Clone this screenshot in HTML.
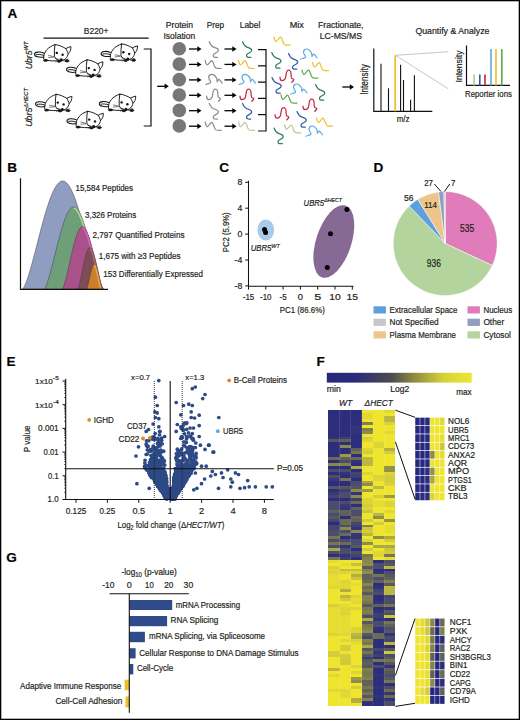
<!DOCTYPE html>
<html><head><meta charset="utf-8"><style>
html,body{margin:0;padding:0;background:#fff;overflow:hidden;}
svg{display:block;}
text{font-family:"Liberation Sans", sans-serif;stroke:#231f20;stroke-width:0.2px;}
</style></head><body>
<svg width="520" height="720" viewBox="0 0 520 720">
<rect x="0" y="0" width="520" height="720" fill="#fff"/>
<text x="7.60" y="17.80" font-size="13.57" font-weight="bold" fill="#000">A</text>
<text x="83.80" y="34.40" font-size="9.35" fill="#231f20" textLength="24.70" lengthAdjust="spacingAndGlyphs">B220+</text>
<line x1="43.5" y1="38.1" x2="148.7" y2="38.1" stroke="#111" stroke-width="1.2"/>
<text transform="translate(31.6,69.3) rotate(-90)" font-size="9.4" font-style="italic" fill="#231f20" textLength="27.8" lengthAdjust="spacingAndGlyphs">Ubr5<tspan font-size="6.2" dy="-3.6">WT</tspan></text>
<text transform="translate(31.6,126.8) rotate(-90)" font-size="9.4" font-style="italic" fill="#231f20" textLength="38.8" lengthAdjust="spacingAndGlyphs">Ubr5<tspan font-size="6.2" dy="-3.6">ΔHECT</tspan></text>
<defs><g id="mouse" fill="none" stroke="#151515" stroke-width="0.95" stroke-linecap="round" stroke-linejoin="round">
<path d="M9.8,8.8 C6,7.2 0.8,7.4 0.5,9.9 C0.3,12.6 6,13.4 9.8,12.6" stroke-width="1.05"/>
<path d="M2.2,10.4 C4.5,9.8 7,10.2 9.6,11"/>
<path d="M9.6,14.6 C9.2,7.5 14,2.6 21,0.4"/>
<path d="M21,0.3 C20.4,4 20.2,8 20.4,12 C21.2,14.6 24,16.2 27.2,16.2 C30.5,16 33.6,13.5 34.2,9.4"/>
<path d="M21,0.3 C24.5,0.5 28.5,2.3 31.8,4.3 C33.5,3.4 35,2.6 36.9,2.3 C37,5.6 36,8 34.2,9.4 C33.6,8.2 33,6 31.8,4.3"/>
<path d="M12,16 C16,16.6 20,16.8 24.5,16.6"/>
<path d="M14.5,11.2 L19.5,12.2 M14.5,13.2 L19.5,12.9 M24.6,15 L21.2,14.2 M24.6,16.2 L21.6,17.4 M29.6,15.6 L34.2,14.8 M29.6,16.6 L34,17.6" stroke-width="0.55"/>
<ellipse cx="11.6" cy="16.1" rx="2.2" ry="1.1" fill="#151515" stroke-width="0.5"/>
<ellipse cx="33" cy="16.6" rx="2" ry="1.1" fill="#151515" stroke-width="0.5"/>
<ellipse cx="25" cy="17.2" rx="1.6" ry="0.9" fill="#151515" stroke-width="0.5"/>
<circle cx="22.8" cy="8.6" r="1.2" fill="#111" stroke="none"/>
<circle cx="28.6" cy="10.4" r="1.2" fill="#111" stroke="none"/>
<circle cx="27.2" cy="15.6" r="1.6" fill="#111" stroke="none"/>
</g>
<path id="sqS" d="M0,0 C1,2.5 2,4.5 4.5,5.4 C6.5,6.2 9.5,6.5 9.2,8.8 C9,10.5 6,11.2 4.8,12.3 C3.5,13.5 3.8,15.3 5.5,15.6 C6.5,15.8 7.5,15.7 8.3,15.7" fill="none" stroke-width="1.2" stroke-linecap="round"/>
<path id="sqN" d="M0,0 C0.5,2 1,4.6 2,4.6 C3,4.6 5.5,0.2 6.5,0.2 C7.5,0.2 8.3,3 8.8,4.5 C9.2,6 9.5,7.4 11,7.8 C12.5,8.1 14.5,8.1 16,8.1" fill="none" stroke-width="1.2" stroke-linecap="round" stroke-linejoin="round"/>
<path id="sqO" d="M0,10.2 C1.5,9.5 3.8,9.3 4.9,8.3 C5.8,7.2 3,5.5 3,3.5 C3,1.5 4.5,0 6.2,0 C8,0 9.5,1.5 10.8,3.5 C11.5,5 11.2,6.8 11.5,7.3 C12,6.5 12.6,5 13.2,5.1 C14,5.3 15,6.5 16.4,8.8" fill="none" stroke-width="1.2" stroke-linecap="round"/>
<path id="sqP" d="M0,7.2 C0,9.5 0.8,10.6 2,10.6 C3.5,10.6 4.8,9.8 5.5,8 C6.2,5 6,1.2 7.8,0.3 C9.5,-0.3 10.8,0.8 11,3 C11.2,5.5 11,7.5 11.6,8.2 C12.5,8.8 13.8,9 13.8,9.6 C13.5,10.8 12.5,11.5 11.8,12.3" fill="none" stroke-width="1.2" stroke-linecap="round"/>
</defs>
<use href="#mouse" x="34" y="44.3"/>
<use href="#mouse" x="100.6" y="43.6"/>
<use href="#mouse" x="66" y="59.5"/>
<use href="#mouse" x="35" y="94"/>
<use href="#mouse" x="98.8" y="93.8"/>
<use href="#mouse" x="66.4" y="111"/>
<path d="M143.7,49 L151,49 L151,126 L143.7,126" fill="none" stroke="#111" stroke-width="1.2"/>
<line x1="157.2" y1="86.3" x2="165.8" y2="86.3" stroke="#000" stroke-width="1.3"/>
<path d="M164.60000000000002,83.6 L168.8,86.3 L164.60000000000002,89.0 Z" fill="#000"/>
<text x="165.80" y="28.10" font-size="8.75" fill="#231f20" textLength="27.20" lengthAdjust="spacingAndGlyphs">Protein</text>
<text x="163.50" y="38.50" font-size="8.75" fill="#231f20" textLength="31.70" lengthAdjust="spacingAndGlyphs">Isolation</text>
<text x="206.70" y="28.10" font-size="8.75" fill="#231f20" textLength="17.30" lengthAdjust="spacingAndGlyphs">Prep</text>
<text x="239.80" y="28.10" font-size="8.75" fill="#231f20" textLength="20.50" lengthAdjust="spacingAndGlyphs">Label</text>
<text x="289.70" y="28.40" font-size="8.75" fill="#231f20" textLength="14.10" lengthAdjust="spacingAndGlyphs">Mix</text>
<text x="318.00" y="28.40" font-size="8.75" fill="#231f20" textLength="45.50" lengthAdjust="spacingAndGlyphs">Fractionate,</text>
<text x="319.70" y="38.50" font-size="8.75" fill="#231f20" textLength="42.30" lengthAdjust="spacingAndGlyphs">LC-MS/MS</text>
<text x="415.40" y="33.50" font-size="9.05" fill="#231f20" textLength="74.00" lengthAdjust="spacingAndGlyphs">Quantify &amp; Analyze</text>
<circle cx="179.3" cy="48.7" r="6.8" fill="#777777"/>
<line x1="189" y1="49.0" x2="198.5" y2="49.0" stroke="#000" stroke-width="1.3"/>
<path d="M197.3,46.3 L201.5,49.0 L197.3,51.7 Z" fill="#000"/>
<line x1="224.5" y1="49.0" x2="233.5" y2="49.0" stroke="#000" stroke-width="1.3"/>
<path d="M232.3,46.3 L236.5,49.0 L232.3,51.7 Z" fill="#000"/>
<use href="#sqS" x="209.2" y="41.7" stroke="#8a8a8a"/>
<use href="#sqS" x="242.5" y="41.7" stroke="#2e7a5c"/>
<circle cx="179.3" cy="64.1" r="6.8" fill="#777777"/>
<line x1="189" y1="64.39999999999999" x2="198.5" y2="64.39999999999999" stroke="#000" stroke-width="1.3"/>
<path d="M197.3,61.69999999999999 L201.5,64.39999999999999 L197.3,67.1 Z" fill="#000"/>
<line x1="224.5" y1="64.39999999999999" x2="233.5" y2="64.39999999999999" stroke="#000" stroke-width="1.3"/>
<path d="M232.3,61.69999999999999 L236.5,64.39999999999999 L232.3,67.1 Z" fill="#000"/>
<use href="#sqN" x="205.2" y="60.39999999999999" stroke="#8a8a8a"/>
<use href="#sqN" x="238.5" y="60.39999999999999" stroke="#f0bf2a"/>
<circle cx="179.3" cy="79.6" r="6.8" fill="#777777"/>
<line x1="189" y1="79.89999999999999" x2="198.5" y2="79.89999999999999" stroke="#000" stroke-width="1.3"/>
<path d="M197.3,77.19999999999999 L201.5,79.89999999999999 L197.3,82.6 Z" fill="#000"/>
<line x1="224.5" y1="79.89999999999999" x2="233.5" y2="79.89999999999999" stroke="#000" stroke-width="1.3"/>
<path d="M232.3,77.19999999999999 L236.5,79.89999999999999 L232.3,82.6 Z" fill="#000"/>
<use href="#sqO" x="205.7" y="74.3" stroke="#8a8a8a"/>
<use href="#sqO" x="239.0" y="74.3" stroke="#5ea8e6"/>
<circle cx="179.3" cy="95.0" r="6.8" fill="#777777"/>
<line x1="189" y1="95.3" x2="198.5" y2="95.3" stroke="#000" stroke-width="1.3"/>
<path d="M197.3,92.6 L201.5,95.3 L197.3,98.0 Z" fill="#000"/>
<line x1="224.5" y1="95.3" x2="233.5" y2="95.3" stroke="#000" stroke-width="1.3"/>
<path d="M232.3,92.6 L236.5,95.3 L232.3,98.0 Z" fill="#000"/>
<use href="#sqP" x="206.7" y="89.0" stroke="#8a8a8a"/>
<use href="#sqP" x="240.0" y="89.0" stroke="#c4223f"/>
<circle cx="179.3" cy="110.4" r="6.8" fill="#777777"/>
<line x1="189" y1="110.7" x2="198.5" y2="110.7" stroke="#000" stroke-width="1.3"/>
<path d="M197.3,108.0 L201.5,110.7 L197.3,113.4 Z" fill="#000"/>
<line x1="224.5" y1="110.7" x2="233.5" y2="110.7" stroke="#000" stroke-width="1.3"/>
<path d="M232.3,108.0 L236.5,110.7 L232.3,113.4 Z" fill="#000"/>
<use href="#sqS" x="209.2" y="103.4" stroke="#8a8a8a"/>
<use href="#sqS" x="242.5" y="103.4" stroke="#2f58a5"/>
<circle cx="179.3" cy="125.9" r="6.8" fill="#777777"/>
<line x1="189" y1="126.2" x2="198.5" y2="126.2" stroke="#000" stroke-width="1.3"/>
<path d="M197.3,123.5 L201.5,126.2 L197.3,128.9 Z" fill="#000"/>
<line x1="224.5" y1="126.2" x2="233.5" y2="126.2" stroke="#000" stroke-width="1.3"/>
<path d="M232.3,123.5 L236.5,126.2 L232.3,128.9 Z" fill="#000"/>
<use href="#sqN" x="205.2" y="122.2" stroke="#8a8a8a"/>
<use href="#sqN" x="238.5" y="122.2" stroke="#b7c98d"/>
<path d="M258,49.6 L266,49.6 L266,131 L258,131 M258,65.9 L266,65.9 M258,82.2 L266,82.2 M258,98.4 L266,98.4 M258,114.7 L266,114.7" fill="none" stroke="#111" stroke-width="1.2"/>
<use href="#sqN" x="274" y="37" stroke="#f0bf2a"/>
<use href="#sqO" x="300.5" y="49" stroke="#5ea8e6"/>
<use href="#sqS" x="271.7" y="52.5" stroke="#2e7a5c"/>
<use href="#sqS" x="288.5" y="53.5" stroke="#2f58a5"/>
<use href="#sqN" x="312.5" y="62.5" stroke="#f0bf2a"/>
<use href="#sqP" x="280" y="70" stroke="#c4223f"/>
<use href="#sqN" x="302" y="70" stroke="#5aaa4a"/>
<use href="#sqS" x="272" y="77.5" stroke="#2f58a5"/>
<use href="#sqO" x="290.5" y="84" stroke="#5ea8e6"/>
<use href="#sqS" x="315.5" y="84.5" stroke="#2e7a5c"/>
<use href="#sqN" x="281" y="95" stroke="#5aaa4a"/>
<use href="#sqP" x="303" y="99" stroke="#c4223f"/>
<use href="#sqP" x="275" y="107.5" stroke="#c4223f"/>
<use href="#sqS" x="297" y="111.5" stroke="#2f58a5"/>
<use href="#sqN" x="316.5" y="118" stroke="#f0bf2a"/>
<use href="#sqN" x="284.6" y="124.8" stroke="#b7c98d"/>
<use href="#sqO" x="306" y="126" stroke="#5ea8e6"/>
<use href="#sqS" x="274" y="128" stroke="#2e7a5c"/>
<line x1="342.3" y1="87" x2="351" y2="87" stroke="#000" stroke-width="1.3"/>
<path d="M349.8,84.3 L354,87 L349.8,89.7 Z" fill="#000"/>
<path d="M373.8,48.5 L373.8,111.3 L432.3,111.3" fill="none" stroke="#111" stroke-width="1.2"/>
<line x1="381" y1="63.8" x2="381" y2="111.3" stroke="#111" stroke-width="1.1"/>
<line x1="388.5" y1="88.3" x2="388.5" y2="111.3" stroke="#111" stroke-width="1.1"/>
<line x1="400.6" y1="64.8" x2="400.6" y2="111.3" stroke="#111" stroke-width="1.1"/>
<line x1="403.5" y1="80" x2="403.5" y2="111.3" stroke="#111" stroke-width="1.1"/>
<line x1="410.6" y1="99.8" x2="410.6" y2="111.3" stroke="#111" stroke-width="1.1"/>
<line x1="414.4" y1="75.2" x2="414.4" y2="111.3" stroke="#111" stroke-width="1.1"/>
<line x1="395.2" y1="55.2" x2="395.2" y2="111.3" stroke="#f0bf2a" stroke-width="1.8"/>
<path d="M395.5,55.3 L448.2,51.7 M395.5,55.3 L448.2,88.7" stroke="#b8b8b8" stroke-width="0.8" fill="none"/>
<text transform="translate(368.1,79.5) rotate(-90)" font-size="10.6" text-anchor="middle" fill="#231f20" textLength="30.5" lengthAdjust="spacingAndGlyphs">Intensity</text>
<text x="396.70" y="121.50" font-size="9.05" fill="#231f20" textLength="12.90" lengthAdjust="spacingAndGlyphs">m/z</text>
<path d="M466.5,45.6 L466.5,85.4 L510,85.4" fill="none" stroke="#111" stroke-width="1.2"/>
<line x1="474.1" y1="74.5" x2="474.1" y2="85.4" stroke="#b7c98d" stroke-width="1.6"/>
<line x1="479.8" y1="74.5" x2="479.8" y2="85.4" stroke="#2f58a5" stroke-width="1.6"/>
<line x1="485" y1="74.5" x2="485" y2="85.4" stroke="#c4223f" stroke-width="1.6"/>
<line x1="491" y1="49" x2="491" y2="85.4" stroke="#5ea8e6" stroke-width="1.6"/>
<line x1="496" y1="49" x2="496" y2="85.4" stroke="#f0bf2a" stroke-width="1.6"/>
<line x1="501.8" y1="49" x2="501.8" y2="85.4" stroke="#5aaa4a" stroke-width="1.6"/>
<text transform="translate(461.9,66.5) rotate(-90)" font-size="9.9" text-anchor="middle" fill="#231f20" textLength="31.9" lengthAdjust="spacingAndGlyphs">Intensity</text>
<text x="465.00" y="96.90" font-size="9.50" fill="#231f20" textLength="46.90" lengthAdjust="spacingAndGlyphs">Reporter ions</text>
<text x="7.20" y="171.60" font-size="13.57" font-weight="bold" fill="#000">B</text>
<clipPath id="bc0"><path d="M22.30,289.20 L23.31,288.18 L24.32,286.43 L25.33,284.24 L26.34,281.72 L27.35,278.92 L28.36,275.88 L29.37,272.65 L30.38,269.26 L31.39,265.72 L32.40,262.07 L33.41,258.32 L34.42,254.50 L35.43,250.62 L36.44,246.71 L37.45,242.79 L38.46,238.86 L39.47,234.96 L40.48,231.08 L41.49,227.26 L42.50,223.51 L43.51,219.84 L44.52,216.27 L45.53,212.80 L46.54,209.46 L47.55,206.25 L48.56,203.19 L49.57,200.29 L50.58,197.57 L51.59,195.02 L52.60,192.66 L53.61,190.50 L54.62,188.54 L55.63,186.80 L56.64,185.28 L57.65,183.98 L58.66,182.91 L59.67,182.08 L60.68,181.48 L61.69,181.12 L62.70,181.00 L63.70,181.12 L64.69,181.48 L65.69,182.08 L66.68,182.91 L67.68,183.98 L68.67,185.28 L69.67,186.80 L70.66,188.54 L71.66,190.50 L72.65,192.66 L73.65,195.02 L74.64,197.57 L75.64,200.29 L76.63,203.19 L77.62,206.25 L78.62,209.46 L79.62,212.80 L80.61,216.27 L81.61,219.84 L82.60,223.51 L83.59,227.26 L84.59,231.08 L85.59,234.96 L86.58,238.86 L87.58,242.79 L88.57,246.71 L89.56,250.62 L90.56,254.50 L91.56,258.32 L92.55,262.07 L93.55,265.72 L94.54,269.26 L95.53,272.65 L96.53,275.88 L97.53,278.92 L98.52,281.72 L99.52,284.24 L100.51,286.43 L101.50,288.18 L102.50,289.20 Z"/></clipPath>
<path d="M22.30,289.20 L23.31,288.18 L24.32,286.43 L25.33,284.24 L26.34,281.72 L27.35,278.92 L28.36,275.88 L29.37,272.65 L30.38,269.26 L31.39,265.72 L32.40,262.07 L33.41,258.32 L34.42,254.50 L35.43,250.62 L36.44,246.71 L37.45,242.79 L38.46,238.86 L39.47,234.96 L40.48,231.08 L41.49,227.26 L42.50,223.51 L43.51,219.84 L44.52,216.27 L45.53,212.80 L46.54,209.46 L47.55,206.25 L48.56,203.19 L49.57,200.29 L50.58,197.57 L51.59,195.02 L52.60,192.66 L53.61,190.50 L54.62,188.54 L55.63,186.80 L56.64,185.28 L57.65,183.98 L58.66,182.91 L59.67,182.08 L60.68,181.48 L61.69,181.12 L62.70,181.00 L63.70,181.12 L64.69,181.48 L65.69,182.08 L66.68,182.91 L67.68,183.98 L68.67,185.28 L69.67,186.80 L70.66,188.54 L71.66,190.50 L72.65,192.66 L73.65,195.02 L74.64,197.57 L75.64,200.29 L76.63,203.19 L77.62,206.25 L78.62,209.46 L79.62,212.80 L80.61,216.27 L81.61,219.84 L82.60,223.51 L83.59,227.26 L84.59,231.08 L85.59,234.96 L86.58,238.86 L87.58,242.79 L88.57,246.71 L89.56,250.62 L90.56,254.50 L91.56,258.32 L92.55,262.07 L93.55,265.72 L94.54,269.26 L95.53,272.65 L96.53,275.88 L97.53,278.92 L98.52,281.72 L99.52,284.24 L100.51,286.43 L101.50,288.18 L102.50,289.20 Z" fill="#8e9dc0"/>
<path d="M22.30,289.20 L23.31,288.18 L24.32,286.43 L25.33,284.24 L26.34,281.72 L27.35,278.92 L28.36,275.88 L29.37,272.65 L30.38,269.26 L31.39,265.72 L32.40,262.07 L33.41,258.32 L34.42,254.50 L35.43,250.62 L36.44,246.71 L37.45,242.79 L38.46,238.86 L39.47,234.96 L40.48,231.08 L41.49,227.26 L42.50,223.51 L43.51,219.84 L44.52,216.27 L45.53,212.80 L46.54,209.46 L47.55,206.25 L48.56,203.19 L49.57,200.29 L50.58,197.57 L51.59,195.02 L52.60,192.66 L53.61,190.50 L54.62,188.54 L55.63,186.80 L56.64,185.28 L57.65,183.98 L58.66,182.91 L59.67,182.08 L60.68,181.48 L61.69,181.12 L62.70,181.00 L63.70,181.12 L64.69,181.48 L65.69,182.08 L66.68,182.91 L67.68,183.98 L68.67,185.28 L69.67,186.80 L70.66,188.54 L71.66,190.50 L72.65,192.66 L73.65,195.02 L74.64,197.57 L75.64,200.29 L76.63,203.19 L77.62,206.25 L78.62,209.46 L79.62,212.80 L80.61,216.27 L81.61,219.84 L82.60,223.51 L83.59,227.26 L84.59,231.08 L85.59,234.96 L86.58,238.86 L87.58,242.79 L88.57,246.71 L89.56,250.62 L90.56,254.50 L91.56,258.32 L92.55,262.07 L93.55,265.72 L94.54,269.26 L95.53,272.65 L96.53,275.88 L97.53,278.92 L98.52,281.72 L99.52,284.24 L100.51,286.43 L101.50,288.18 L102.50,289.20 Z" fill="none" stroke="#3a3a3a" stroke-width="0.6" stroke-opacity="0.8"/>
<clipPath id="bc1"><path d="M44.00,289.20 L44.74,288.42 L45.48,287.10 L46.23,285.43 L46.97,283.52 L47.71,281.39 L48.45,279.08 L49.20,276.63 L49.94,274.05 L50.68,271.36 L51.42,268.59 L52.17,265.74 L52.91,262.84 L53.65,259.89 L54.39,256.92 L55.14,253.94 L55.88,250.96 L56.62,247.99 L57.37,245.05 L58.11,242.15 L58.85,239.30 L59.59,236.51 L60.34,233.79 L61.08,231.16 L61.82,228.62 L62.56,226.18 L63.31,223.86 L64.05,221.66 L64.79,219.59 L65.53,217.65 L66.28,215.86 L67.02,214.22 L67.76,212.73 L68.50,211.41 L69.25,210.25 L69.99,209.26 L70.73,208.45 L71.47,207.82 L72.22,207.36 L72.96,207.09 L73.70,207.00 L74.45,207.09 L75.19,207.36 L75.94,207.82 L76.68,208.45 L77.43,209.26 L78.17,210.25 L78.92,211.41 L79.66,212.73 L80.41,214.22 L81.15,215.86 L81.90,217.65 L82.64,219.59 L83.39,221.66 L84.13,223.86 L84.88,226.18 L85.62,228.62 L86.37,231.16 L87.11,233.79 L87.86,236.51 L88.60,239.30 L89.34,242.15 L90.09,245.05 L90.83,247.99 L91.58,250.96 L92.33,253.94 L93.07,256.92 L93.81,259.89 L94.56,262.84 L95.31,265.74 L96.05,268.59 L96.80,271.36 L97.54,274.05 L98.28,276.63 L99.03,279.08 L99.78,281.39 L100.52,283.52 L101.27,285.43 L102.01,287.10 L102.75,288.42 L103.50,289.20 Z"/></clipPath>
<path d="M44.00,289.20 L44.74,288.42 L45.48,287.10 L46.23,285.43 L46.97,283.52 L47.71,281.39 L48.45,279.08 L49.20,276.63 L49.94,274.05 L50.68,271.36 L51.42,268.59 L52.17,265.74 L52.91,262.84 L53.65,259.89 L54.39,256.92 L55.14,253.94 L55.88,250.96 L56.62,247.99 L57.37,245.05 L58.11,242.15 L58.85,239.30 L59.59,236.51 L60.34,233.79 L61.08,231.16 L61.82,228.62 L62.56,226.18 L63.31,223.86 L64.05,221.66 L64.79,219.59 L65.53,217.65 L66.28,215.86 L67.02,214.22 L67.76,212.73 L68.50,211.41 L69.25,210.25 L69.99,209.26 L70.73,208.45 L71.47,207.82 L72.22,207.36 L72.96,207.09 L73.70,207.00 L74.45,207.09 L75.19,207.36 L75.94,207.82 L76.68,208.45 L77.43,209.26 L78.17,210.25 L78.92,211.41 L79.66,212.73 L80.41,214.22 L81.15,215.86 L81.90,217.65 L82.64,219.59 L83.39,221.66 L84.13,223.86 L84.88,226.18 L85.62,228.62 L86.37,231.16 L87.11,233.79 L87.86,236.51 L88.60,239.30 L89.34,242.15 L90.09,245.05 L90.83,247.99 L91.58,250.96 L92.33,253.94 L93.07,256.92 L93.81,259.89 L94.56,262.84 L95.31,265.74 L96.05,268.59 L96.80,271.36 L97.54,274.05 L98.28,276.63 L99.03,279.08 L99.78,281.39 L100.52,283.52 L101.27,285.43 L102.01,287.10 L102.75,288.42 L103.50,289.20 Z" fill="#6f9f79"/>
<path d="M73.70,207.00 L74.45,207.09 L75.19,207.36 L75.94,207.82 L76.68,208.45 L77.43,209.26 L78.17,210.25 L78.92,211.41 L79.66,212.73 L80.41,214.22 L81.15,215.86 L81.90,217.65 L82.64,219.59 L83.39,221.66 L84.13,223.86 L84.88,226.18 L85.62,228.62 L86.37,231.16 L87.11,233.79 L87.86,236.51 L88.60,239.30 L89.34,242.15 L90.09,245.05 L90.83,247.99 L91.58,250.96 L92.33,253.94 L93.07,256.92 L93.81,259.89 L94.56,262.84 L95.31,265.74 L96.05,268.59 L96.80,271.36 L97.54,274.05 L98.28,276.63 L99.03,279.08 L99.78,281.39 L100.52,283.52 L101.27,285.43 L102.01,287.10 L102.75,288.42 L103.50,289.20" fill="none" stroke="#acd690" stroke-width="4" clip-path="url(#bc1)"/>
<path d="M44.00,289.20 L44.74,288.42 L45.48,287.10 L46.23,285.43 L46.97,283.52 L47.71,281.39 L48.45,279.08 L49.20,276.63 L49.94,274.05 L50.68,271.36 L51.42,268.59 L52.17,265.74 L52.91,262.84 L53.65,259.89 L54.39,256.92 L55.14,253.94 L55.88,250.96 L56.62,247.99 L57.37,245.05 L58.11,242.15 L58.85,239.30 L59.59,236.51 L60.34,233.79 L61.08,231.16 L61.82,228.62 L62.56,226.18 L63.31,223.86 L64.05,221.66 L64.79,219.59 L65.53,217.65 L66.28,215.86 L67.02,214.22 L67.76,212.73 L68.50,211.41 L69.25,210.25 L69.99,209.26 L70.73,208.45 L71.47,207.82 L72.22,207.36 L72.96,207.09 L73.70,207.00 L74.45,207.09 L75.19,207.36 L75.94,207.82 L76.68,208.45 L77.43,209.26 L78.17,210.25 L78.92,211.41 L79.66,212.73 L80.41,214.22 L81.15,215.86 L81.90,217.65 L82.64,219.59 L83.39,221.66 L84.13,223.86 L84.88,226.18 L85.62,228.62 L86.37,231.16 L87.11,233.79 L87.86,236.51 L88.60,239.30 L89.34,242.15 L90.09,245.05 L90.83,247.99 L91.58,250.96 L92.33,253.94 L93.07,256.92 L93.81,259.89 L94.56,262.84 L95.31,265.74 L96.05,268.59 L96.80,271.36 L97.54,274.05 L98.28,276.63 L99.03,279.08 L99.78,281.39 L100.52,283.52 L101.27,285.43 L102.01,287.10 L102.75,288.42 L103.50,289.20 Z" fill="none" stroke="#3a3a3a" stroke-width="0.6" stroke-opacity="0.8"/>
<clipPath id="bc2"><path d="M62.10,289.20 L62.61,288.61 L63.12,287.60 L63.62,286.33 L64.13,284.87 L64.64,283.25 L65.14,281.50 L65.65,279.63 L66.16,277.66 L66.67,275.62 L67.17,273.50 L67.68,271.33 L68.19,269.12 L68.70,266.88 L69.20,264.62 L69.71,262.35 L70.22,260.08 L70.73,257.82 L71.23,255.58 L71.74,253.37 L72.25,251.20 L72.76,249.07 L73.27,247.00 L73.77,245.00 L74.28,243.06 L74.79,241.21 L75.30,239.44 L75.80,237.76 L76.31,236.18 L76.82,234.71 L77.33,233.35 L77.83,232.10 L78.34,230.96 L78.85,229.96 L79.36,229.08 L79.86,228.32 L80.37,227.71 L80.88,227.22 L81.39,226.88 L81.89,226.67 L82.40,226.60 L82.93,226.67 L83.46,226.88 L83.98,227.22 L84.51,227.71 L85.04,228.32 L85.56,229.08 L86.09,229.96 L86.62,230.96 L87.15,232.10 L87.68,233.35 L88.20,234.71 L88.73,236.18 L89.26,237.76 L89.78,239.44 L90.31,241.21 L90.84,243.06 L91.37,245.00 L91.89,247.00 L92.42,249.07 L92.95,251.20 L93.48,253.37 L94.01,255.58 L94.53,257.82 L95.06,260.08 L95.59,262.35 L96.12,264.62 L96.64,266.88 L97.17,269.12 L97.70,271.33 L98.22,273.50 L98.75,275.62 L99.28,277.66 L99.81,279.63 L100.33,281.50 L100.86,283.25 L101.39,284.87 L101.92,286.33 L102.44,287.60 L102.97,288.61 L103.50,289.20 Z"/></clipPath>
<path d="M62.10,289.20 L62.61,288.61 L63.12,287.60 L63.62,286.33 L64.13,284.87 L64.64,283.25 L65.14,281.50 L65.65,279.63 L66.16,277.66 L66.67,275.62 L67.17,273.50 L67.68,271.33 L68.19,269.12 L68.70,266.88 L69.20,264.62 L69.71,262.35 L70.22,260.08 L70.73,257.82 L71.23,255.58 L71.74,253.37 L72.25,251.20 L72.76,249.07 L73.27,247.00 L73.77,245.00 L74.28,243.06 L74.79,241.21 L75.30,239.44 L75.80,237.76 L76.31,236.18 L76.82,234.71 L77.33,233.35 L77.83,232.10 L78.34,230.96 L78.85,229.96 L79.36,229.08 L79.86,228.32 L80.37,227.71 L80.88,227.22 L81.39,226.88 L81.89,226.67 L82.40,226.60 L82.93,226.67 L83.46,226.88 L83.98,227.22 L84.51,227.71 L85.04,228.32 L85.56,229.08 L86.09,229.96 L86.62,230.96 L87.15,232.10 L87.68,233.35 L88.20,234.71 L88.73,236.18 L89.26,237.76 L89.78,239.44 L90.31,241.21 L90.84,243.06 L91.37,245.00 L91.89,247.00 L92.42,249.07 L92.95,251.20 L93.48,253.37 L94.01,255.58 L94.53,257.82 L95.06,260.08 L95.59,262.35 L96.12,264.62 L96.64,266.88 L97.17,269.12 L97.70,271.33 L98.22,273.50 L98.75,275.62 L99.28,277.66 L99.81,279.63 L100.33,281.50 L100.86,283.25 L101.39,284.87 L101.92,286.33 L102.44,287.60 L102.97,288.61 L103.50,289.20 Z" fill="#a9518b"/>
<path d="M82.40,226.60 L82.93,226.67 L83.46,226.88 L83.98,227.22 L84.51,227.71 L85.04,228.32 L85.56,229.08 L86.09,229.96 L86.62,230.96 L87.15,232.10 L87.68,233.35 L88.20,234.71 L88.73,236.18 L89.26,237.76 L89.78,239.44 L90.31,241.21 L90.84,243.06 L91.37,245.00 L91.89,247.00 L92.42,249.07 L92.95,251.20 L93.48,253.37 L94.01,255.58 L94.53,257.82 L95.06,260.08 L95.59,262.35 L96.12,264.62 L96.64,266.88 L97.17,269.12 L97.70,271.33 L98.22,273.50 L98.75,275.62 L99.28,277.66 L99.81,279.63 L100.33,281.50 L100.86,283.25 L101.39,284.87 L101.92,286.33 L102.44,287.60 L102.97,288.61 L103.50,289.20" fill="none" stroke="#de62bd" stroke-width="4" clip-path="url(#bc2)"/>
<path d="M62.10,289.20 L62.61,288.61 L63.12,287.60 L63.62,286.33 L64.13,284.87 L64.64,283.25 L65.14,281.50 L65.65,279.63 L66.16,277.66 L66.67,275.62 L67.17,273.50 L67.68,271.33 L68.19,269.12 L68.70,266.88 L69.20,264.62 L69.71,262.35 L70.22,260.08 L70.73,257.82 L71.23,255.58 L71.74,253.37 L72.25,251.20 L72.76,249.07 L73.27,247.00 L73.77,245.00 L74.28,243.06 L74.79,241.21 L75.30,239.44 L75.80,237.76 L76.31,236.18 L76.82,234.71 L77.33,233.35 L77.83,232.10 L78.34,230.96 L78.85,229.96 L79.36,229.08 L79.86,228.32 L80.37,227.71 L80.88,227.22 L81.39,226.88 L81.89,226.67 L82.40,226.60 L82.93,226.67 L83.46,226.88 L83.98,227.22 L84.51,227.71 L85.04,228.32 L85.56,229.08 L86.09,229.96 L86.62,230.96 L87.15,232.10 L87.68,233.35 L88.20,234.71 L88.73,236.18 L89.26,237.76 L89.78,239.44 L90.31,241.21 L90.84,243.06 L91.37,245.00 L91.89,247.00 L92.42,249.07 L92.95,251.20 L93.48,253.37 L94.01,255.58 L94.53,257.82 L95.06,260.08 L95.59,262.35 L96.12,264.62 L96.64,266.88 L97.17,269.12 L97.70,271.33 L98.22,273.50 L98.75,275.62 L99.28,277.66 L99.81,279.63 L100.33,281.50 L100.86,283.25 L101.39,284.87 L101.92,286.33 L102.44,287.60 L102.97,288.61 L103.50,289.20 Z" fill="none" stroke="#3a3a3a" stroke-width="0.6" stroke-opacity="0.8"/>
<clipPath id="bc3"><path d="M77.70,289.20 L78.00,288.81 L78.31,288.14 L78.61,287.30 L78.91,286.33 L79.21,285.26 L79.52,284.09 L79.82,282.85 L80.12,281.55 L80.42,280.19 L80.72,278.79 L81.03,277.36 L81.33,275.89 L81.63,274.40 L81.94,272.90 L82.24,271.40 L82.54,269.89 L82.84,268.39 L83.14,266.91 L83.45,265.44 L83.75,264.01 L84.05,262.60 L84.36,261.23 L84.66,259.90 L84.96,258.62 L85.26,257.39 L85.56,256.21 L85.87,255.10 L86.17,254.05 L86.47,253.08 L86.78,252.17 L87.08,251.34 L87.38,250.59 L87.68,249.93 L87.98,249.34 L88.29,248.84 L88.59,248.43 L88.89,248.11 L89.19,247.88 L89.50,247.75 L89.80,247.70 L90.13,247.75 L90.46,247.88 L90.79,248.11 L91.12,248.43 L91.45,248.84 L91.78,249.34 L92.11,249.93 L92.44,250.59 L92.77,251.34 L93.10,252.17 L93.43,253.08 L93.76,254.05 L94.09,255.10 L94.42,256.21 L94.75,257.39 L95.08,258.62 L95.41,259.90 L95.74,261.23 L96.07,262.60 L96.40,264.01 L96.73,265.44 L97.06,266.91 L97.39,268.39 L97.72,269.89 L98.05,271.40 L98.38,272.90 L98.71,274.40 L99.04,275.89 L99.37,277.36 L99.70,278.79 L100.03,280.19 L100.36,281.55 L100.69,282.85 L101.02,284.09 L101.35,285.26 L101.68,286.33 L102.01,287.30 L102.34,288.14 L102.67,288.81 L103.00,289.20 Z"/></clipPath>
<path d="M77.70,289.20 L78.00,288.81 L78.31,288.14 L78.61,287.30 L78.91,286.33 L79.21,285.26 L79.52,284.09 L79.82,282.85 L80.12,281.55 L80.42,280.19 L80.72,278.79 L81.03,277.36 L81.33,275.89 L81.63,274.40 L81.94,272.90 L82.24,271.40 L82.54,269.89 L82.84,268.39 L83.14,266.91 L83.45,265.44 L83.75,264.01 L84.05,262.60 L84.36,261.23 L84.66,259.90 L84.96,258.62 L85.26,257.39 L85.56,256.21 L85.87,255.10 L86.17,254.05 L86.47,253.08 L86.78,252.17 L87.08,251.34 L87.38,250.59 L87.68,249.93 L87.98,249.34 L88.29,248.84 L88.59,248.43 L88.89,248.11 L89.19,247.88 L89.50,247.75 L89.80,247.70 L90.13,247.75 L90.46,247.88 L90.79,248.11 L91.12,248.43 L91.45,248.84 L91.78,249.34 L92.11,249.93 L92.44,250.59 L92.77,251.34 L93.10,252.17 L93.43,253.08 L93.76,254.05 L94.09,255.10 L94.42,256.21 L94.75,257.39 L95.08,258.62 L95.41,259.90 L95.74,261.23 L96.07,262.60 L96.40,264.01 L96.73,265.44 L97.06,266.91 L97.39,268.39 L97.72,269.89 L98.05,271.40 L98.38,272.90 L98.71,274.40 L99.04,275.89 L99.37,277.36 L99.70,278.79 L100.03,280.19 L100.36,281.55 L100.69,282.85 L101.02,284.09 L101.35,285.26 L101.68,286.33 L102.01,287.30 L102.34,288.14 L102.67,288.81 L103.00,289.20 Z" fill="#7f4b56"/>
<path d="M89.80,247.70 L90.13,247.75 L90.46,247.88 L90.79,248.11 L91.12,248.43 L91.45,248.84 L91.78,249.34 L92.11,249.93 L92.44,250.59 L92.77,251.34 L93.10,252.17 L93.43,253.08 L93.76,254.05 L94.09,255.10 L94.42,256.21 L94.75,257.39 L95.08,258.62 L95.41,259.90 L95.74,261.23 L96.07,262.60 L96.40,264.01 L96.73,265.44 L97.06,266.91 L97.39,268.39 L97.72,269.89 L98.05,271.40 L98.38,272.90 L98.71,274.40 L99.04,275.89 L99.37,277.36 L99.70,278.79 L100.03,280.19 L100.36,281.55 L100.69,282.85 L101.02,284.09 L101.35,285.26 L101.68,286.33 L102.01,287.30 L102.34,288.14 L102.67,288.81 L103.00,289.20" fill="none" stroke="#a86a72" stroke-width="4" clip-path="url(#bc3)"/>
<path d="M77.70,289.20 L78.00,288.81 L78.31,288.14 L78.61,287.30 L78.91,286.33 L79.21,285.26 L79.52,284.09 L79.82,282.85 L80.12,281.55 L80.42,280.19 L80.72,278.79 L81.03,277.36 L81.33,275.89 L81.63,274.40 L81.94,272.90 L82.24,271.40 L82.54,269.89 L82.84,268.39 L83.14,266.91 L83.45,265.44 L83.75,264.01 L84.05,262.60 L84.36,261.23 L84.66,259.90 L84.96,258.62 L85.26,257.39 L85.56,256.21 L85.87,255.10 L86.17,254.05 L86.47,253.08 L86.78,252.17 L87.08,251.34 L87.38,250.59 L87.68,249.93 L87.98,249.34 L88.29,248.84 L88.59,248.43 L88.89,248.11 L89.19,247.88 L89.50,247.75 L89.80,247.70 L90.13,247.75 L90.46,247.88 L90.79,248.11 L91.12,248.43 L91.45,248.84 L91.78,249.34 L92.11,249.93 L92.44,250.59 L92.77,251.34 L93.10,252.17 L93.43,253.08 L93.76,254.05 L94.09,255.10 L94.42,256.21 L94.75,257.39 L95.08,258.62 L95.41,259.90 L95.74,261.23 L96.07,262.60 L96.40,264.01 L96.73,265.44 L97.06,266.91 L97.39,268.39 L97.72,269.89 L98.05,271.40 L98.38,272.90 L98.71,274.40 L99.04,275.89 L99.37,277.36 L99.70,278.79 L100.03,280.19 L100.36,281.55 L100.69,282.85 L101.02,284.09 L101.35,285.26 L101.68,286.33 L102.01,287.30 L102.34,288.14 L102.67,288.81 L103.00,289.20 Z" fill="none" stroke="#3a3a3a" stroke-width="0.6" stroke-opacity="0.8"/>
<clipPath id="bc4"><path d="M86.40,289.20 L86.60,288.96 L86.81,288.56 L87.01,288.05 L87.21,287.46 L87.41,286.81 L87.62,286.11 L87.82,285.36 L88.02,284.57 L88.22,283.75 L88.43,282.91 L88.63,282.04 L88.83,281.15 L89.03,280.25 L89.23,279.34 L89.44,278.43 L89.64,277.52 L89.84,276.62 L90.05,275.72 L90.25,274.83 L90.45,273.96 L90.65,273.11 L90.86,272.28 L91.06,271.48 L91.26,270.70 L91.46,269.96 L91.67,269.25 L91.87,268.58 L92.07,267.94 L92.27,267.35 L92.47,266.80 L92.68,266.30 L92.88,265.85 L93.08,265.45 L93.28,265.09 L93.49,264.79 L93.69,264.54 L93.89,264.35 L94.09,264.21 L94.30,264.13 L94.50,264.10 L94.70,264.13 L94.90,264.21 L95.10,264.35 L95.30,264.54 L95.50,264.79 L95.70,265.09 L95.90,265.45 L96.10,265.85 L96.30,266.30 L96.50,266.80 L96.70,267.35 L96.90,267.94 L97.10,268.58 L97.30,269.25 L97.50,269.96 L97.70,270.70 L97.90,271.48 L98.10,272.28 L98.30,273.11 L98.50,273.96 L98.70,274.83 L98.90,275.72 L99.10,276.62 L99.30,277.52 L99.50,278.43 L99.70,279.34 L99.90,280.25 L100.10,281.15 L100.30,282.04 L100.50,282.91 L100.70,283.75 L100.90,284.57 L101.10,285.36 L101.30,286.11 L101.50,286.81 L101.70,287.46 L101.90,288.05 L102.10,288.56 L102.30,288.96 L102.50,289.20 Z"/></clipPath>
<path d="M86.40,289.20 L86.60,288.96 L86.81,288.56 L87.01,288.05 L87.21,287.46 L87.41,286.81 L87.62,286.11 L87.82,285.36 L88.02,284.57 L88.22,283.75 L88.43,282.91 L88.63,282.04 L88.83,281.15 L89.03,280.25 L89.23,279.34 L89.44,278.43 L89.64,277.52 L89.84,276.62 L90.05,275.72 L90.25,274.83 L90.45,273.96 L90.65,273.11 L90.86,272.28 L91.06,271.48 L91.26,270.70 L91.46,269.96 L91.67,269.25 L91.87,268.58 L92.07,267.94 L92.27,267.35 L92.47,266.80 L92.68,266.30 L92.88,265.85 L93.08,265.45 L93.28,265.09 L93.49,264.79 L93.69,264.54 L93.89,264.35 L94.09,264.21 L94.30,264.13 L94.50,264.10 L94.70,264.13 L94.90,264.21 L95.10,264.35 L95.30,264.54 L95.50,264.79 L95.70,265.09 L95.90,265.45 L96.10,265.85 L96.30,266.30 L96.50,266.80 L96.70,267.35 L96.90,267.94 L97.10,268.58 L97.30,269.25 L97.50,269.96 L97.70,270.70 L97.90,271.48 L98.10,272.28 L98.30,273.11 L98.50,273.96 L98.70,274.83 L98.90,275.72 L99.10,276.62 L99.30,277.52 L99.50,278.43 L99.70,279.34 L99.90,280.25 L100.10,281.15 L100.30,282.04 L100.50,282.91 L100.70,283.75 L100.90,284.57 L101.10,285.36 L101.30,286.11 L101.50,286.81 L101.70,287.46 L101.90,288.05 L102.10,288.56 L102.30,288.96 L102.50,289.20 Z" fill="#cd7e2d"/>
<path d="M94.50,264.10 L94.70,264.13 L94.90,264.21 L95.10,264.35 L95.30,264.54 L95.50,264.79 L95.70,265.09 L95.90,265.45 L96.10,265.85 L96.30,266.30 L96.50,266.80 L96.70,267.35 L96.90,267.94 L97.10,268.58 L97.30,269.25 L97.50,269.96 L97.70,270.70 L97.90,271.48 L98.10,272.28 L98.30,273.11 L98.50,273.96 L98.70,274.83 L98.90,275.72 L99.10,276.62 L99.30,277.52 L99.50,278.43 L99.70,279.34 L99.90,280.25 L100.10,281.15 L100.30,282.04 L100.50,282.91 L100.70,283.75 L100.90,284.57 L101.10,285.36 L101.30,286.11 L101.50,286.81 L101.70,287.46 L101.90,288.05 L102.10,288.56 L102.30,288.96 L102.50,289.20" fill="none" stroke="#e7a455" stroke-width="4" clip-path="url(#bc4)"/>
<path d="M86.40,289.20 L86.60,288.96 L86.81,288.56 L87.01,288.05 L87.21,287.46 L87.41,286.81 L87.62,286.11 L87.82,285.36 L88.02,284.57 L88.22,283.75 L88.43,282.91 L88.63,282.04 L88.83,281.15 L89.03,280.25 L89.23,279.34 L89.44,278.43 L89.64,277.52 L89.84,276.62 L90.05,275.72 L90.25,274.83 L90.45,273.96 L90.65,273.11 L90.86,272.28 L91.06,271.48 L91.26,270.70 L91.46,269.96 L91.67,269.25 L91.87,268.58 L92.07,267.94 L92.27,267.35 L92.47,266.80 L92.68,266.30 L92.88,265.85 L93.08,265.45 L93.28,265.09 L93.49,264.79 L93.69,264.54 L93.89,264.35 L94.09,264.21 L94.30,264.13 L94.50,264.10 L94.70,264.13 L94.90,264.21 L95.10,264.35 L95.30,264.54 L95.50,264.79 L95.70,265.09 L95.90,265.45 L96.10,265.85 L96.30,266.30 L96.50,266.80 L96.70,267.35 L96.90,267.94 L97.10,268.58 L97.30,269.25 L97.50,269.96 L97.70,270.70 L97.90,271.48 L98.10,272.28 L98.30,273.11 L98.50,273.96 L98.70,274.83 L98.90,275.72 L99.10,276.62 L99.30,277.52 L99.50,278.43 L99.70,279.34 L99.90,280.25 L100.10,281.15 L100.30,282.04 L100.50,282.91 L100.70,283.75 L100.90,284.57 L101.10,285.36 L101.30,286.11 L101.50,286.81 L101.70,287.46 L101.90,288.05 L102.10,288.56 L102.30,288.96 L102.50,289.20 Z" fill="none" stroke="#3a3a3a" stroke-width="0.6" stroke-opacity="0.8"/>
<path d="M20.5,178.3 L20.5,289.3 L108,289.3" fill="none" stroke="#111" stroke-width="1.2"/>
<text x="75.50" y="191.25" font-size="9.43" fill="#231f20" textLength="57.50" lengthAdjust="spacingAndGlyphs">15,584 Peptides</text>
<text x="85.00" y="217.50" font-size="9.43" fill="#231f20" textLength="51.25" lengthAdjust="spacingAndGlyphs">3,326 Proteins</text>
<text x="92.50" y="238.00" font-size="9.43" fill="#231f20" textLength="92.00" lengthAdjust="spacingAndGlyphs">2,797 Quantified Proteins</text>
<text x="98.75" y="258.75" font-size="9.43" fill="#231f20" textLength="81.75" lengthAdjust="spacingAndGlyphs">1,675 with ≥3 Peptides</text>
<text x="103.25" y="277.30" font-size="9.43" fill="#231f20" textLength="99.75" lengthAdjust="spacingAndGlyphs">153 Differentially Expressed</text>
<text x="219.20" y="171.50" font-size="13.57" font-weight="bold" fill="#000">C</text>
<ellipse cx="265.8" cy="230" rx="8.4" ry="10.6" fill="#a8cbea"/>
<ellipse cx="333.8" cy="241.5" rx="17.6" ry="37.8" transform="rotate(18 333.8 241.5)" fill="#866995"/>
<circle cx="264.5" cy="229.4" r="2.5" fill="#000"/>
<circle cx="265.6" cy="232.6" r="2.5" fill="#000"/>
<circle cx="346.9" cy="209.5" r="2.5" fill="#000"/>
<circle cx="330.5" cy="233.7" r="2.5" fill="#000"/>
<circle cx="327.3" cy="267.6" r="2.5" fill="#000"/>
<path d="M248.5,180.8 L248.5,286.3 L353.5,286.3" fill="none" stroke="#111" stroke-width="1.05"/>
<line x1="245.2" y1="182.30" x2="248.5" y2="182.30" stroke="#111" stroke-width="1"/>
<text x="242.40" y="185.20" font-size="8.75" text-anchor="end" fill="#231f20">8</text>
<line x1="245.2" y1="208.20" x2="248.5" y2="208.20" stroke="#111" stroke-width="1"/>
<text x="242.40" y="211.10" font-size="8.75" text-anchor="end" fill="#231f20">4</text>
<line x1="245.2" y1="234.10" x2="248.5" y2="234.10" stroke="#111" stroke-width="1"/>
<text x="242.40" y="237.00" font-size="8.75" text-anchor="end" fill="#231f20">0</text>
<line x1="245.2" y1="260.00" x2="248.5" y2="260.00" stroke="#111" stroke-width="1"/>
<text x="242.40" y="262.90" font-size="8.75" text-anchor="end" fill="#231f20">-4</text>
<line x1="245.2" y1="285.90" x2="248.5" y2="285.90" stroke="#111" stroke-width="1"/>
<text x="242.40" y="288.80" font-size="8.75" text-anchor="end" fill="#231f20">-8</text>
<line x1="248.50" y1="286.3" x2="248.50" y2="289.6" stroke="#111" stroke-width="1"/>
<text x="248.50" y="299.60" font-size="9.35" text-anchor="middle" fill="#231f20" textLength="11.50" lengthAdjust="spacingAndGlyphs">-15</text>
<line x1="265.80" y1="286.3" x2="265.80" y2="289.6" stroke="#111" stroke-width="1"/>
<text x="265.80" y="299.60" font-size="9.35" text-anchor="middle" fill="#231f20" textLength="11.50" lengthAdjust="spacingAndGlyphs">-10</text>
<line x1="283.10" y1="286.3" x2="283.10" y2="289.6" stroke="#111" stroke-width="1"/>
<text x="283.10" y="299.60" font-size="9.35" text-anchor="middle" fill="#231f20" textLength="7.00" lengthAdjust="spacingAndGlyphs">-5</text>
<line x1="300.40" y1="286.3" x2="300.40" y2="289.6" stroke="#111" stroke-width="1"/>
<text x="300.40" y="299.60" font-size="9.35" text-anchor="middle" fill="#231f20">0</text>
<line x1="317.70" y1="286.3" x2="317.70" y2="289.6" stroke="#111" stroke-width="1"/>
<text x="317.70" y="299.60" font-size="9.35" text-anchor="middle" fill="#231f20" textLength="7.00" lengthAdjust="spacingAndGlyphs">5</text>
<line x1="335.00" y1="286.3" x2="335.00" y2="289.6" stroke="#111" stroke-width="1"/>
<text x="335.00" y="299.60" font-size="9.35" text-anchor="middle" fill="#231f20" textLength="11.50" lengthAdjust="spacingAndGlyphs">10</text>
<line x1="352.30" y1="286.3" x2="352.30" y2="289.6" stroke="#111" stroke-width="1"/>
<text x="352.30" y="299.60" font-size="9.35" text-anchor="middle" fill="#231f20" textLength="11.50" lengthAdjust="spacingAndGlyphs">15</text>
<text x="279.70" y="313.00" font-size="9.35" fill="#231f20" textLength="45.20" lengthAdjust="spacingAndGlyphs">PC1 (86.6%)</text>
<text transform="translate(228.6,232.3) rotate(-90)" font-size="8.9" text-anchor="middle" fill="#231f20" textLength="39.8" lengthAdjust="spacingAndGlyphs">PC2 (5.9%)</text>
<text x="250.7" y="251.2" font-size="8.6" font-style="italic" fill="#231f20" textLength="29" lengthAdjust="spacingAndGlyphs">UBR5<tspan font-size="6" dy="-3.2">WT</tspan></text>
<text x="303.6" y="205.5" font-size="8.8" font-style="italic" fill="#231f20" textLength="38.4" lengthAdjust="spacingAndGlyphs">UBR5<tspan font-size="6" dy="-3.3">ΔHECT</tspan></text>
<text x="373.50" y="171.50" font-size="13.57" font-weight="bold" fill="#000">D</text>
<path d="M445.2,243.5 L445.20,191.50 A52,52 0 0 1 492.33,265.46 Z" fill="#e07cb9" stroke="#fff" stroke-width="0.5"/>
<path d="M445.2,243.5 L492.33,265.46 A52,52 0 1 1 409.18,206.00 Z" fill="#b3d49c" stroke="#fff" stroke-width="0.5"/>
<path d="M445.2,243.5 L409.18,206.00 A52,52 0 0 1 417.79,199.31 Z" fill="#5da0dd" stroke="#fff" stroke-width="0.5"/>
<path d="M445.2,243.5 L417.79,199.31 A52,52 0 0 1 438.59,191.92 Z" fill="#edc58a" stroke="#fff" stroke-width="0.5"/>
<path d="M445.2,243.5 L438.59,191.92 A52,52 0 0 1 443.83,191.52 Z" fill="#8f9ec1" stroke="#fff" stroke-width="0.5"/>
<path d="M445.2,243.5 L443.83,191.52 A52,52 0 0 1 445.20,191.50 Z" fill="#c7c7cb" stroke="#fff" stroke-width="0.5"/>
<text x="460.10" y="231.80" font-size="10.11" fill="#231f20" textLength="14.10" lengthAdjust="spacingAndGlyphs">535</text>
<text x="426.80" y="266.80" font-size="10.11" fill="#231f20" textLength="14.00" lengthAdjust="spacingAndGlyphs">936</text>
<text x="424.20" y="208.10" font-size="9.05" fill="#231f20" textLength="12.80" lengthAdjust="spacingAndGlyphs">114</text>
<text x="404.00" y="200.70" font-size="9.05" fill="#231f20" textLength="9.50" lengthAdjust="spacingAndGlyphs">56</text>
<text x="424.20" y="186.20" font-size="9.05" fill="#231f20" textLength="8.80" lengthAdjust="spacingAndGlyphs">27</text>
<text x="451.10" y="186.00" font-size="9.05" fill="#231f20" textLength="4.40" lengthAdjust="spacingAndGlyphs">7</text>
<path d="M434.3,184 L441,191.5 M449.8,184 L444.4,191.5" stroke="#111" stroke-width="1" fill="none"/>
<rect x="373.5" y="306.3" width="12.4" height="7.2" fill="#5da0dd"/>
<text x="389.60" y="313.00" font-size="9.05" fill="#231f20" textLength="67.80" lengthAdjust="spacingAndGlyphs">Extracellular Space</text>
<rect x="373.5" y="318.7" width="12.4" height="7.2" fill="#c7c7cb"/>
<text x="389.60" y="325.40" font-size="9.05" fill="#231f20" textLength="49.00" lengthAdjust="spacingAndGlyphs">Not Specified</text>
<rect x="373.5" y="331.3" width="12.4" height="7.2" fill="#edc58a"/>
<text x="389.60" y="338.00" font-size="9.05" fill="#231f20" textLength="66.40" lengthAdjust="spacingAndGlyphs">Plasma Membrane</text>
<rect x="467.5" y="306.3" width="12.4" height="7.2" fill="#e07cb9"/>
<text x="483.40" y="313.00" font-size="9.05" fill="#231f20" textLength="28.80" lengthAdjust="spacingAndGlyphs">Nucleus</text>
<rect x="467.5" y="318.7" width="12.4" height="7.2" fill="#8f9ec1"/>
<text x="483.40" y="325.40" font-size="9.05" fill="#231f20" textLength="20.80" lengthAdjust="spacingAndGlyphs">Other</text>
<rect x="467.5" y="331.3" width="12.4" height="7.2" fill="#b3d49c"/>
<text x="483.40" y="338.00" font-size="9.05" fill="#231f20" textLength="27.40" lengthAdjust="spacingAndGlyphs">Cytosol</text>
<text x="6.40" y="366.00" font-size="13.57" font-weight="bold" fill="#000">E</text>
<g fill="#2d4a87">
<circle cx="186.1" cy="477.9" r="1.85"/>
<circle cx="172.5" cy="489.6" r="1.85"/>
<circle cx="166.4" cy="498.5" r="1.85"/>
<circle cx="169.9" cy="493.2" r="1.85"/>
<circle cx="179.5" cy="481.0" r="1.85"/>
<circle cx="160.2" cy="487.8" r="1.85"/>
<circle cx="165.5" cy="494.6" r="1.85"/>
<circle cx="153.8" cy="476.8" r="1.85"/>
<circle cx="184.4" cy="467.3" r="1.85"/>
<circle cx="183.6" cy="484.0" r="1.85"/>
<circle cx="186.8" cy="475.7" r="1.85"/>
<circle cx="175.8" cy="486.6" r="1.85"/>
<circle cx="193.4" cy="440.3" r="1.85"/>
<circle cx="161.4" cy="487.4" r="1.85"/>
<circle cx="177.5" cy="493.4" r="1.85"/>
<circle cx="186.8" cy="469.0" r="1.85"/>
<circle cx="177.0" cy="483.0" r="1.85"/>
<circle cx="174.1" cy="493.9" r="1.85"/>
<circle cx="156.4" cy="480.3" r="1.85"/>
<circle cx="162.4" cy="489.6" r="1.85"/>
<circle cx="180.5" cy="483.9" r="1.85"/>
<circle cx="156.0" cy="456.3" r="1.85"/>
<circle cx="180.4" cy="481.5" r="1.85"/>
<circle cx="174.9" cy="486.9" r="1.85"/>
<circle cx="150.5" cy="475.0" r="1.85"/>
<circle cx="177.7" cy="487.0" r="1.85"/>
<circle cx="178.2" cy="481.0" r="1.85"/>
<circle cx="189.5" cy="472.9" r="1.85"/>
<circle cx="165.8" cy="497.4" r="1.85"/>
<circle cx="168.6" cy="494.0" r="1.85"/>
<circle cx="154.0" cy="472.6" r="1.85"/>
<circle cx="181.5" cy="479.4" r="1.85"/>
<circle cx="151.7" cy="451.1" r="1.85"/>
<circle cx="163.9" cy="479.0" r="1.85"/>
<circle cx="152.2" cy="456.3" r="1.85"/>
<circle cx="176.9" cy="488.8" r="1.85"/>
<circle cx="161.1" cy="471.7" r="1.85"/>
<circle cx="154.0" cy="479.1" r="1.85"/>
<circle cx="178.1" cy="492.7" r="1.85"/>
<circle cx="195.7" cy="457.3" r="1.85"/>
<circle cx="178.4" cy="491.0" r="1.85"/>
<circle cx="182.0" cy="481.1" r="1.85"/>
<circle cx="175.6" cy="495.7" r="1.85"/>
<circle cx="163.5" cy="484.4" r="1.85"/>
<circle cx="157.6" cy="471.6" r="1.85"/>
<circle cx="160.6" cy="488.2" r="1.85"/>
<circle cx="161.3" cy="487.4" r="1.85"/>
<circle cx="166.7" cy="492.7" r="1.85"/>
<circle cx="173.8" cy="485.7" r="1.85"/>
<circle cx="179.4" cy="481.1" r="1.85"/>
<circle cx="181.5" cy="453.7" r="1.85"/>
<circle cx="166.8" cy="498.6" r="1.85"/>
<circle cx="163.7" cy="491.1" r="1.85"/>
<circle cx="152.7" cy="464.9" r="1.85"/>
<circle cx="176.1" cy="494.1" r="1.85"/>
<circle cx="180.1" cy="483.7" r="1.85"/>
<circle cx="177.2" cy="471.4" r="1.85"/>
<circle cx="160.1" cy="446.0" r="1.85"/>
<circle cx="161.5" cy="457.3" r="1.85"/>
<circle cx="163.8" cy="486.8" r="1.85"/>
<circle cx="192.4" cy="453.6" r="1.85"/>
<circle cx="164.0" cy="488.1" r="1.85"/>
<circle cx="187.0" cy="476.8" r="1.85"/>
<circle cx="174.0" cy="493.7" r="1.85"/>
<circle cx="178.4" cy="490.6" r="1.85"/>
<circle cx="170.9" cy="496.1" r="1.85"/>
<circle cx="149.3" cy="469.7" r="1.85"/>
<circle cx="186.8" cy="479.4" r="1.85"/>
<circle cx="159.1" cy="482.3" r="1.85"/>
<circle cx="165.9" cy="487.6" r="1.85"/>
<circle cx="156.2" cy="482.7" r="1.85"/>
<circle cx="175.1" cy="489.9" r="1.85"/>
<circle cx="164.6" cy="488.4" r="1.85"/>
<circle cx="163.4" cy="489.2" r="1.85"/>
<circle cx="180.0" cy="470.4" r="1.85"/>
<circle cx="154.6" cy="448.0" r="1.85"/>
<circle cx="159.0" cy="469.5" r="1.85"/>
<circle cx="179.3" cy="482.4" r="1.85"/>
<circle cx="193.8" cy="464.5" r="1.85"/>
<circle cx="180.1" cy="482.1" r="1.85"/>
<circle cx="175.4" cy="487.8" r="1.85"/>
<circle cx="148.3" cy="470.7" r="1.85"/>
<circle cx="159.5" cy="488.9" r="1.85"/>
<circle cx="183.7" cy="472.1" r="1.85"/>
<circle cx="162.5" cy="478.6" r="1.85"/>
<circle cx="190.3" cy="450.4" r="1.85"/>
<circle cx="145.5" cy="465.3" r="1.85"/>
<circle cx="165.7" cy="493.9" r="1.85"/>
<circle cx="176.1" cy="495.4" r="1.85"/>
<circle cx="155.6" cy="465.7" r="1.85"/>
<circle cx="164.7" cy="474.2" r="1.85"/>
<circle cx="173.7" cy="480.4" r="1.85"/>
<circle cx="166.0" cy="487.7" r="1.85"/>
<circle cx="152.6" cy="471.6" r="1.85"/>
<circle cx="175.0" cy="473.7" r="1.85"/>
<circle cx="161.9" cy="463.4" r="1.85"/>
<circle cx="165.8" cy="492.9" r="1.85"/>
<circle cx="167.2" cy="490.7" r="1.85"/>
<circle cx="181.2" cy="483.7" r="1.85"/>
<circle cx="163.0" cy="486.7" r="1.85"/>
<circle cx="175.1" cy="486.7" r="1.85"/>
<circle cx="181.6" cy="486.3" r="1.85"/>
<circle cx="181.0" cy="463.6" r="1.85"/>
<circle cx="175.2" cy="498.4" r="1.85"/>
<circle cx="160.9" cy="485.9" r="1.85"/>
<circle cx="187.4" cy="475.9" r="1.85"/>
<circle cx="182.3" cy="486.2" r="1.85"/>
<circle cx="175.1" cy="495.6" r="1.85"/>
<circle cx="186.9" cy="472.0" r="1.85"/>
<circle cx="170.9" cy="491.6" r="1.85"/>
<circle cx="170.7" cy="490.7" r="1.85"/>
<circle cx="159.3" cy="481.3" r="1.85"/>
<circle cx="177.9" cy="492.7" r="1.85"/>
<circle cx="160.3" cy="482.5" r="1.85"/>
<circle cx="175.8" cy="484.8" r="1.85"/>
<circle cx="176.8" cy="490.4" r="1.85"/>
<circle cx="155.3" cy="482.0" r="1.85"/>
<circle cx="164.7" cy="495.3" r="1.85"/>
<circle cx="173.8" cy="485.9" r="1.85"/>
<circle cx="168.6" cy="493.8" r="1.85"/>
<circle cx="159.7" cy="475.3" r="1.85"/>
<circle cx="180.5" cy="471.7" r="1.85"/>
<circle cx="177.7" cy="472.5" r="1.85"/>
<circle cx="186.3" cy="470.0" r="1.85"/>
<circle cx="162.2" cy="485.6" r="1.85"/>
<circle cx="150.5" cy="459.5" r="1.85"/>
<circle cx="166.7" cy="488.6" r="1.85"/>
<circle cx="158.6" cy="441.5" r="1.85"/>
<circle cx="181.0" cy="485.5" r="1.85"/>
<circle cx="158.3" cy="461.1" r="1.85"/>
<circle cx="177.5" cy="478.8" r="1.85"/>
<circle cx="175.5" cy="492.9" r="1.85"/>
<circle cx="177.8" cy="475.9" r="1.85"/>
<circle cx="163.6" cy="481.4" r="1.85"/>
<circle cx="174.5" cy="490.7" r="1.85"/>
<circle cx="170.9" cy="493.5" r="1.85"/>
<circle cx="164.0" cy="485.4" r="1.85"/>
<circle cx="156.7" cy="483.7" r="1.85"/>
<circle cx="166.9" cy="490.8" r="1.85"/>
<circle cx="169.5" cy="495.1" r="1.85"/>
<circle cx="155.2" cy="478.8" r="1.85"/>
<circle cx="182.4" cy="469.5" r="1.85"/>
<circle cx="145.1" cy="467.9" r="1.85"/>
<circle cx="180.7" cy="483.9" r="1.85"/>
<circle cx="171.9" cy="496.0" r="1.85"/>
<circle cx="191.4" cy="469.0" r="1.85"/>
<circle cx="164.8" cy="475.6" r="1.85"/>
<circle cx="184.5" cy="479.9" r="1.85"/>
<circle cx="164.1" cy="488.3" r="1.85"/>
<circle cx="166.8" cy="497.2" r="1.85"/>
<circle cx="164.1" cy="494.9" r="1.85"/>
<circle cx="189.7" cy="473.3" r="1.85"/>
<circle cx="174.0" cy="491.3" r="1.85"/>
<circle cx="186.2" cy="479.0" r="1.85"/>
<circle cx="155.6" cy="464.0" r="1.85"/>
<circle cx="169.8" cy="491.2" r="1.85"/>
<circle cx="162.9" cy="491.5" r="1.85"/>
<circle cx="158.9" cy="452.3" r="1.85"/>
<circle cx="182.1" cy="481.4" r="1.85"/>
<circle cx="180.6" cy="482.7" r="1.85"/>
<circle cx="180.7" cy="482.9" r="1.85"/>
<circle cx="177.7" cy="492.8" r="1.85"/>
<circle cx="183.9" cy="475.1" r="1.85"/>
<circle cx="163.7" cy="488.4" r="1.85"/>
<circle cx="165.1" cy="472.0" r="1.85"/>
<circle cx="178.6" cy="480.1" r="1.85"/>
<circle cx="149.5" cy="462.4" r="1.85"/>
<circle cx="179.0" cy="485.5" r="1.85"/>
<circle cx="173.5" cy="493.4" r="1.85"/>
<circle cx="172.3" cy="491.8" r="1.85"/>
<circle cx="172.0" cy="495.5" r="1.85"/>
<circle cx="174.6" cy="481.8" r="1.85"/>
<circle cx="164.7" cy="473.4" r="1.85"/>
<circle cx="152.5" cy="471.7" r="1.85"/>
<circle cx="189.5" cy="446.7" r="1.85"/>
<circle cx="180.5" cy="485.8" r="1.85"/>
<circle cx="179.2" cy="487.4" r="1.85"/>
<circle cx="180.0" cy="487.7" r="1.85"/>
<circle cx="158.0" cy="475.0" r="1.85"/>
<circle cx="161.7" cy="470.4" r="1.85"/>
<circle cx="171.2" cy="498.3" r="1.85"/>
<circle cx="180.4" cy="471.0" r="1.85"/>
<circle cx="186.7" cy="475.5" r="1.85"/>
<circle cx="161.7" cy="488.9" r="1.85"/>
<circle cx="183.5" cy="457.5" r="1.85"/>
<circle cx="175.6" cy="490.0" r="1.85"/>
<circle cx="165.7" cy="486.3" r="1.85"/>
<circle cx="151.6" cy="477.2" r="1.85"/>
<circle cx="177.1" cy="455.7" r="1.85"/>
<circle cx="188.1" cy="466.8" r="1.85"/>
<circle cx="153.8" cy="462.7" r="1.85"/>
<circle cx="177.5" cy="482.2" r="1.85"/>
<circle cx="189.5" cy="471.2" r="1.85"/>
<circle cx="176.4" cy="453.7" r="1.85"/>
<circle cx="153.5" cy="437.3" r="1.85"/>
<circle cx="185.4" cy="472.6" r="1.85"/>
<circle cx="161.6" cy="488.5" r="1.85"/>
<circle cx="185.2" cy="471.8" r="1.85"/>
<circle cx="177.3" cy="490.5" r="1.85"/>
<circle cx="148.5" cy="466.0" r="1.85"/>
<circle cx="180.5" cy="482.9" r="1.85"/>
<circle cx="160.3" cy="481.4" r="1.85"/>
<circle cx="169.3" cy="494.6" r="1.85"/>
<circle cx="162.6" cy="482.6" r="1.85"/>
<circle cx="162.5" cy="490.9" r="1.85"/>
<circle cx="180.8" cy="476.8" r="1.85"/>
<circle cx="167.2" cy="491.2" r="1.85"/>
<circle cx="181.0" cy="470.7" r="1.85"/>
<circle cx="180.3" cy="475.7" r="1.85"/>
<circle cx="174.0" cy="495.8" r="1.85"/>
<circle cx="163.0" cy="489.2" r="1.85"/>
<circle cx="167.0" cy="489.6" r="1.85"/>
<circle cx="180.9" cy="485.0" r="1.85"/>
<circle cx="164.8" cy="465.1" r="1.85"/>
<circle cx="173.5" cy="489.8" r="1.85"/>
<circle cx="162.6" cy="462.4" r="1.85"/>
<circle cx="191.2" cy="459.4" r="1.85"/>
<circle cx="177.7" cy="486.3" r="1.85"/>
<circle cx="161.3" cy="489.0" r="1.85"/>
<circle cx="150.4" cy="472.3" r="1.85"/>
<circle cx="158.9" cy="485.4" r="1.85"/>
<circle cx="191.2" cy="446.8" r="1.85"/>
<circle cx="182.2" cy="485.6" r="1.85"/>
<circle cx="176.8" cy="484.4" r="1.85"/>
<circle cx="185.2" cy="471.0" r="1.85"/>
<circle cx="174.1" cy="487.0" r="1.85"/>
<circle cx="165.5" cy="495.7" r="1.85"/>
<circle cx="179.8" cy="465.1" r="1.85"/>
<circle cx="166.2" cy="496.5" r="1.85"/>
<circle cx="159.1" cy="484.7" r="1.85"/>
<circle cx="177.5" cy="487.9" r="1.85"/>
<circle cx="161.1" cy="486.2" r="1.85"/>
<circle cx="186.8" cy="478.5" r="1.85"/>
<circle cx="154.4" cy="457.2" r="1.85"/>
<circle cx="181.8" cy="464.6" r="1.85"/>
<circle cx="184.3" cy="472.6" r="1.85"/>
<circle cx="189.6" cy="469.5" r="1.85"/>
<circle cx="191.8" cy="450.3" r="1.85"/>
<circle cx="175.1" cy="476.0" r="1.85"/>
<circle cx="188.7" cy="448.4" r="1.85"/>
<circle cx="174.7" cy="487.7" r="1.85"/>
<circle cx="165.3" cy="489.5" r="1.85"/>
<circle cx="182.7" cy="484.4" r="1.85"/>
<circle cx="148.7" cy="440.7" r="1.85"/>
<circle cx="163.8" cy="483.8" r="1.85"/>
<circle cx="172.5" cy="491.9" r="1.85"/>
<circle cx="181.8" cy="475.7" r="1.85"/>
<circle cx="166.5" cy="490.1" r="1.85"/>
<circle cx="182.2" cy="476.3" r="1.85"/>
<circle cx="182.7" cy="479.5" r="1.85"/>
<circle cx="151.4" cy="477.5" r="1.85"/>
<circle cx="164.7" cy="488.1" r="1.85"/>
<circle cx="173.9" cy="480.0" r="1.85"/>
<circle cx="171.8" cy="495.5" r="1.85"/>
<circle cx="155.6" cy="448.1" r="1.85"/>
<circle cx="181.1" cy="478.3" r="1.85"/>
<circle cx="162.6" cy="471.0" r="1.85"/>
<circle cx="177.9" cy="450.5" r="1.85"/>
<circle cx="186.7" cy="460.0" r="1.85"/>
<circle cx="162.5" cy="489.0" r="1.85"/>
<circle cx="149.9" cy="468.7" r="1.85"/>
<circle cx="170.9" cy="488.8" r="1.85"/>
<circle cx="173.1" cy="497.7" r="1.85"/>
<circle cx="182.3" cy="475.1" r="1.85"/>
<circle cx="157.6" cy="462.5" r="1.85"/>
<circle cx="166.8" cy="496.1" r="1.85"/>
<circle cx="165.7" cy="485.3" r="1.85"/>
<circle cx="145.3" cy="466.9" r="1.85"/>
<circle cx="153.7" cy="465.0" r="1.85"/>
<circle cx="166.5" cy="487.1" r="1.85"/>
<circle cx="170.0" cy="493.4" r="1.85"/>
<circle cx="180.0" cy="470.9" r="1.85"/>
<circle cx="162.6" cy="478.3" r="1.85"/>
<circle cx="182.7" cy="476.2" r="1.85"/>
<circle cx="152.3" cy="459.0" r="1.85"/>
<circle cx="165.4" cy="492.3" r="1.85"/>
<circle cx="178.1" cy="489.4" r="1.85"/>
<circle cx="177.6" cy="465.2" r="1.85"/>
<circle cx="177.4" cy="492.6" r="1.85"/>
<circle cx="155.8" cy="460.0" r="1.85"/>
<circle cx="163.4" cy="464.3" r="1.85"/>
<circle cx="176.4" cy="471.4" r="1.85"/>
<circle cx="150.8" cy="471.2" r="1.85"/>
<circle cx="172.9" cy="494.1" r="1.85"/>
<circle cx="161.9" cy="484.1" r="1.85"/>
<circle cx="178.4" cy="460.8" r="1.85"/>
<circle cx="176.1" cy="492.0" r="1.85"/>
<circle cx="173.7" cy="488.1" r="1.85"/>
<circle cx="163.6" cy="492.9" r="1.85"/>
<circle cx="175.0" cy="480.0" r="1.85"/>
<circle cx="166.3" cy="496.1" r="1.85"/>
<circle cx="181.2" cy="472.9" r="1.85"/>
<circle cx="156.5" cy="461.9" r="1.85"/>
<circle cx="175.7" cy="479.3" r="1.85"/>
<circle cx="163.8" cy="493.5" r="1.85"/>
<circle cx="173.4" cy="486.3" r="1.85"/>
<circle cx="171.4" cy="491.4" r="1.85"/>
<circle cx="182.2" cy="486.1" r="1.85"/>
<circle cx="180.2" cy="488.0" r="1.85"/>
<circle cx="151.8" cy="475.9" r="1.85"/>
<circle cx="160.1" cy="488.2" r="1.85"/>
<circle cx="185.3" cy="480.5" r="1.85"/>
<circle cx="184.4" cy="453.0" r="1.85"/>
<circle cx="191.6" cy="466.1" r="1.85"/>
<circle cx="179.0" cy="477.4" r="1.85"/>
<circle cx="166.1" cy="493.0" r="1.85"/>
<circle cx="166.1" cy="481.6" r="1.85"/>
<circle cx="173.2" cy="489.5" r="1.85"/>
<circle cx="168.4" cy="496.4" r="1.85"/>
<circle cx="163.8" cy="486.3" r="1.85"/>
<circle cx="168.4" cy="491.9" r="1.85"/>
<circle cx="166.7" cy="486.1" r="1.85"/>
<circle cx="181.8" cy="448.9" r="1.85"/>
<circle cx="164.4" cy="460.9" r="1.85"/>
<circle cx="168.8" cy="490.1" r="1.85"/>
<circle cx="163.3" cy="488.5" r="1.85"/>
<circle cx="175.7" cy="490.9" r="1.85"/>
<circle cx="190.7" cy="450.2" r="1.85"/>
<circle cx="175.0" cy="493.2" r="1.85"/>
<circle cx="170.5" cy="492.7" r="1.85"/>
<circle cx="162.2" cy="485.8" r="1.85"/>
<circle cx="175.7" cy="488.3" r="1.85"/>
<circle cx="157.4" cy="447.1" r="1.85"/>
<circle cx="177.9" cy="483.2" r="1.85"/>
<circle cx="180.5" cy="486.8" r="1.85"/>
<circle cx="165.0" cy="485.4" r="1.85"/>
<circle cx="173.5" cy="496.5" r="1.85"/>
<circle cx="182.3" cy="470.8" r="1.85"/>
<circle cx="181.4" cy="480.6" r="1.85"/>
<circle cx="184.6" cy="445.9" r="1.85"/>
<circle cx="159.2" cy="486.2" r="1.85"/>
<circle cx="173.1" cy="498.8" r="1.85"/>
<circle cx="163.1" cy="486.1" r="1.85"/>
<circle cx="175.8" cy="457.9" r="1.85"/>
<circle cx="170.8" cy="498.0" r="1.85"/>
<circle cx="176.3" cy="481.4" r="1.85"/>
<circle cx="174.3" cy="495.9" r="1.85"/>
<circle cx="162.1" cy="475.6" r="1.85"/>
<circle cx="159.4" cy="484.6" r="1.85"/>
<circle cx="183.8" cy="445.5" r="1.85"/>
<circle cx="163.5" cy="488.7" r="1.85"/>
<circle cx="175.0" cy="486.3" r="1.85"/>
<circle cx="171.3" cy="495.3" r="1.85"/>
<circle cx="165.3" cy="495.9" r="1.85"/>
<circle cx="181.6" cy="482.4" r="1.85"/>
<circle cx="162.1" cy="468.9" r="1.85"/>
<circle cx="172.6" cy="491.8" r="1.85"/>
<circle cx="171.3" cy="489.2" r="1.85"/>
<circle cx="160.9" cy="468.1" r="1.85"/>
<circle cx="177.3" cy="490.5" r="1.85"/>
<circle cx="172.9" cy="488.7" r="1.85"/>
<circle cx="180.9" cy="487.1" r="1.85"/>
<circle cx="173.6" cy="485.5" r="1.85"/>
<circle cx="152.9" cy="469.4" r="1.85"/>
<circle cx="176.2" cy="484.2" r="1.85"/>
<circle cx="163.9" cy="494.8" r="1.85"/>
<circle cx="171.9" cy="497.2" r="1.85"/>
<circle cx="171.1" cy="496.9" r="1.85"/>
<circle cx="173.5" cy="490.5" r="1.85"/>
<circle cx="179.1" cy="451.3" r="1.85"/>
<circle cx="189.1" cy="473.6" r="1.85"/>
<circle cx="159.0" cy="487.4" r="1.85"/>
<circle cx="166.6" cy="498.0" r="1.85"/>
<circle cx="187.5" cy="450.0" r="1.85"/>
<circle cx="166.2" cy="490.4" r="1.85"/>
<circle cx="175.2" cy="489.4" r="1.85"/>
<circle cx="176.0" cy="495.5" r="1.85"/>
<circle cx="162.5" cy="487.4" r="1.85"/>
<circle cx="160.4" cy="486.9" r="1.85"/>
<circle cx="166.6" cy="491.1" r="1.85"/>
<circle cx="165.6" cy="497.7" r="1.85"/>
<circle cx="182.7" cy="472.7" r="1.85"/>
<circle cx="181.7" cy="474.7" r="1.85"/>
<circle cx="168.7" cy="497.6" r="1.85"/>
<circle cx="157.3" cy="464.2" r="1.85"/>
<circle cx="164.6" cy="481.3" r="1.85"/>
<circle cx="181.4" cy="475.7" r="1.85"/>
<circle cx="160.8" cy="490.1" r="1.85"/>
<circle cx="182.5" cy="482.1" r="1.85"/>
<circle cx="173.7" cy="498.1" r="1.85"/>
<circle cx="175.8" cy="492.7" r="1.85"/>
<circle cx="179.5" cy="480.6" r="1.85"/>
<circle cx="176.7" cy="480.5" r="1.85"/>
<circle cx="165.6" cy="483.3" r="1.85"/>
<circle cx="176.7" cy="492.2" r="1.85"/>
<circle cx="150.7" cy="472.6" r="1.85"/>
<circle cx="189.5" cy="455.0" r="1.85"/>
<circle cx="156.4" cy="467.7" r="1.85"/>
<circle cx="171.3" cy="492.5" r="1.85"/>
<circle cx="165.6" cy="477.4" r="1.85"/>
<circle cx="174.3" cy="483.6" r="1.85"/>
<circle cx="189.0" cy="464.9" r="1.85"/>
<circle cx="161.9" cy="481.0" r="1.85"/>
<circle cx="160.4" cy="475.4" r="1.85"/>
<circle cx="158.8" cy="482.9" r="1.85"/>
<circle cx="147.3" cy="454.0" r="1.85"/>
<circle cx="166.7" cy="494.4" r="1.85"/>
<circle cx="166.5" cy="497.4" r="1.85"/>
<circle cx="174.6" cy="494.7" r="1.85"/>
<circle cx="157.2" cy="473.4" r="1.85"/>
<circle cx="172.1" cy="496.9" r="1.85"/>
<circle cx="168.9" cy="498.3" r="1.85"/>
<circle cx="182.5" cy="484.9" r="1.85"/>
<circle cx="177.5" cy="490.6" r="1.85"/>
<circle cx="154.0" cy="455.9" r="1.85"/>
<circle cx="158.7" cy="483.8" r="1.85"/>
<circle cx="173.0" cy="492.3" r="1.85"/>
<circle cx="174.6" cy="493.9" r="1.85"/>
<circle cx="180.6" cy="484.4" r="1.85"/>
<circle cx="171.3" cy="496.6" r="1.85"/>
<circle cx="181.1" cy="482.4" r="1.85"/>
<circle cx="169.3" cy="493.0" r="1.85"/>
<circle cx="164.2" cy="487.6" r="1.85"/>
<circle cx="182.6" cy="475.5" r="1.85"/>
<circle cx="172.3" cy="498.9" r="1.85"/>
<circle cx="160.0" cy="462.1" r="1.85"/>
<circle cx="154.3" cy="469.0" r="1.85"/>
<circle cx="170.3" cy="496.3" r="1.85"/>
<circle cx="176.2" cy="482.9" r="1.85"/>
<circle cx="170.3" cy="496.4" r="1.85"/>
<circle cx="170.9" cy="491.3" r="1.85"/>
<circle cx="174.7" cy="490.9" r="1.85"/>
<circle cx="174.7" cy="490.9" r="1.85"/>
<circle cx="180.4" cy="483.9" r="1.85"/>
<circle cx="172.5" cy="494.4" r="1.85"/>
<circle cx="159.8" cy="454.8" r="1.85"/>
<circle cx="178.1" cy="493.1" r="1.85"/>
<circle cx="160.9" cy="462.2" r="1.85"/>
<circle cx="150.6" cy="471.0" r="1.85"/>
<circle cx="157.1" cy="466.7" r="1.85"/>
<circle cx="177.3" cy="449.2" r="1.85"/>
<circle cx="186.4" cy="452.3" r="1.85"/>
<circle cx="188.4" cy="467.3" r="1.85"/>
<circle cx="174.9" cy="496.8" r="1.85"/>
<circle cx="172.9" cy="492.7" r="1.85"/>
<circle cx="167.8" cy="494.5" r="1.85"/>
<circle cx="163.6" cy="483.7" r="1.85"/>
<circle cx="161.6" cy="481.2" r="1.85"/>
<circle cx="172.8" cy="492.2" r="1.85"/>
<circle cx="163.6" cy="483.8" r="1.85"/>
<circle cx="160.5" cy="474.1" r="1.85"/>
<circle cx="166.2" cy="494.4" r="1.85"/>
<circle cx="158.9" cy="481.5" r="1.85"/>
<circle cx="175.8" cy="494.9" r="1.85"/>
<circle cx="175.1" cy="492.5" r="1.85"/>
<circle cx="158.1" cy="484.7" r="1.85"/>
<circle cx="158.5" cy="482.0" r="1.85"/>
<circle cx="189.9" cy="457.3" r="1.85"/>
<circle cx="171.0" cy="497.2" r="1.85"/>
<circle cx="165.5" cy="481.4" r="1.85"/>
<circle cx="170.0" cy="491.7" r="1.85"/>
<circle cx="177.9" cy="480.1" r="1.85"/>
<circle cx="184.7" cy="468.1" r="1.85"/>
<circle cx="168.4" cy="493.7" r="1.85"/>
<circle cx="184.9" cy="470.7" r="1.85"/>
<circle cx="174.4" cy="487.6" r="1.85"/>
<circle cx="178.5" cy="485.3" r="1.85"/>
<circle cx="171.8" cy="495.5" r="1.85"/>
<circle cx="176.3" cy="488.2" r="1.85"/>
<circle cx="177.0" cy="491.7" r="1.85"/>
<circle cx="162.2" cy="443.8" r="1.85"/>
<circle cx="185.4" cy="474.9" r="1.85"/>
<circle cx="157.5" cy="443.4" r="1.85"/>
<circle cx="177.5" cy="492.5" r="1.85"/>
<circle cx="161.0" cy="477.6" r="1.85"/>
<circle cx="156.5" cy="477.7" r="1.85"/>
<circle cx="173.5" cy="489.7" r="1.85"/>
<circle cx="162.3" cy="484.0" r="1.85"/>
<circle cx="167.7" cy="490.0" r="1.85"/>
<circle cx="157.7" cy="471.5" r="1.85"/>
<circle cx="174.9" cy="479.6" r="1.85"/>
<circle cx="175.4" cy="496.6" r="1.85"/>
<circle cx="176.7" cy="489.1" r="1.85"/>
<circle cx="182.3" cy="475.5" r="1.85"/>
<circle cx="166.2" cy="478.1" r="1.85"/>
<circle cx="183.8" cy="468.3" r="1.85"/>
<circle cx="161.9" cy="470.4" r="1.85"/>
<circle cx="166.4" cy="494.2" r="1.85"/>
<circle cx="191.4" cy="460.0" r="1.85"/>
<circle cx="171.6" cy="493.1" r="1.85"/>
<circle cx="180.8" cy="485.1" r="1.85"/>
<circle cx="176.9" cy="487.3" r="1.85"/>
<circle cx="177.5" cy="475.0" r="1.85"/>
<circle cx="176.8" cy="483.5" r="1.85"/>
<circle cx="182.6" cy="477.8" r="1.85"/>
<circle cx="173.4" cy="495.6" r="1.85"/>
<circle cx="178.2" cy="488.7" r="1.85"/>
<circle cx="184.4" cy="473.3" r="1.85"/>
<circle cx="186.5" cy="473.5" r="1.85"/>
<circle cx="178.9" cy="461.0" r="1.85"/>
<circle cx="183.3" cy="478.0" r="1.85"/>
<circle cx="166.9" cy="498.8" r="1.85"/>
<circle cx="172.6" cy="493.4" r="1.85"/>
<circle cx="160.5" cy="480.2" r="1.85"/>
<circle cx="182.1" cy="483.4" r="1.85"/>
<circle cx="157.1" cy="462.8" r="1.85"/>
<circle cx="159.8" cy="477.4" r="1.85"/>
<circle cx="158.1" cy="485.8" r="1.85"/>
<circle cx="178.3" cy="485.6" r="1.85"/>
<circle cx="170.8" cy="494.8" r="1.85"/>
<circle cx="173.0" cy="497.6" r="1.85"/>
<circle cx="152.9" cy="458.0" r="1.85"/>
<circle cx="172.1" cy="494.1" r="1.85"/>
<circle cx="175.8" cy="470.5" r="1.85"/>
<circle cx="171.3" cy="496.2" r="1.85"/>
<circle cx="158.4" cy="481.6" r="1.85"/>
<circle cx="182.3" cy="478.9" r="1.85"/>
<circle cx="157.6" cy="479.3" r="1.85"/>
<circle cx="177.6" cy="487.1" r="1.85"/>
<circle cx="151.9" cy="469.8" r="1.85"/>
<circle cx="167.8" cy="497.0" r="1.85"/>
<circle cx="161.7" cy="462.6" r="1.85"/>
<circle cx="177.0" cy="463.9" r="1.85"/>
<circle cx="164.7" cy="491.8" r="1.85"/>
<circle cx="183.5" cy="484.4" r="1.85"/>
<circle cx="182.8" cy="484.3" r="1.85"/>
<circle cx="167.7" cy="493.8" r="1.85"/>
<circle cx="159.1" cy="461.6" r="1.85"/>
<circle cx="184.8" cy="464.8" r="1.85"/>
<circle cx="162.5" cy="477.9" r="1.85"/>
<circle cx="161.6" cy="488.7" r="1.85"/>
<circle cx="173.7" cy="489.7" r="1.85"/>
<circle cx="156.5" cy="472.4" r="1.85"/>
<circle cx="177.8" cy="477.6" r="1.85"/>
<circle cx="156.1" cy="483.0" r="1.85"/>
<circle cx="181.0" cy="467.9" r="1.85"/>
<circle cx="173.9" cy="497.0" r="1.85"/>
<circle cx="153.9" cy="457.9" r="1.85"/>
<circle cx="164.4" cy="483.8" r="1.85"/>
<circle cx="185.0" cy="476.8" r="1.85"/>
<circle cx="162.0" cy="476.4" r="1.85"/>
<circle cx="165.3" cy="473.9" r="1.85"/>
<circle cx="166.5" cy="492.6" r="1.85"/>
<circle cx="153.1" cy="466.4" r="1.85"/>
<circle cx="177.0" cy="484.9" r="1.85"/>
<circle cx="172.0" cy="493.2" r="1.85"/>
<circle cx="144.5" cy="466.4" r="1.85"/>
<circle cx="159.7" cy="466.8" r="1.85"/>
<circle cx="172.2" cy="489.2" r="1.85"/>
<circle cx="184.8" cy="481.0" r="1.85"/>
<circle cx="180.6" cy="482.8" r="1.85"/>
<circle cx="178.1" cy="490.1" r="1.85"/>
<circle cx="180.5" cy="481.9" r="1.85"/>
<circle cx="158.5" cy="486.1" r="1.85"/>
<circle cx="155.3" cy="482.0" r="1.85"/>
<circle cx="166.1" cy="494.7" r="1.85"/>
<circle cx="192.2" cy="467.1" r="1.85"/>
<circle cx="182.3" cy="454.9" r="1.85"/>
<circle cx="181.4" cy="475.3" r="1.85"/>
<circle cx="173.3" cy="495.8" r="1.85"/>
<circle cx="182.3" cy="476.0" r="1.85"/>
<circle cx="161.7" cy="440.3" r="1.85"/>
<circle cx="169.5" cy="489.1" r="1.85"/>
<circle cx="176.3" cy="490.8" r="1.85"/>
<circle cx="170.6" cy="496.1" r="1.85"/>
<circle cx="157.2" cy="452.5" r="1.85"/>
<circle cx="189.1" cy="475.6" r="1.85"/>
<circle cx="177.1" cy="469.1" r="1.85"/>
<circle cx="165.3" cy="493.4" r="1.85"/>
<circle cx="179.0" cy="480.9" r="1.85"/>
<circle cx="174.2" cy="484.6" r="1.85"/>
<circle cx="171.8" cy="495.5" r="1.85"/>
<circle cx="177.0" cy="477.0" r="1.85"/>
<circle cx="157.1" cy="479.9" r="1.85"/>
<circle cx="186.4" cy="475.6" r="1.85"/>
<circle cx="187.0" cy="470.0" r="1.85"/>
<circle cx="166.0" cy="492.6" r="1.85"/>
<circle cx="165.7" cy="489.4" r="1.85"/>
<circle cx="174.0" cy="484.4" r="1.85"/>
<circle cx="154.5" cy="480.7" r="1.85"/>
<circle cx="176.3" cy="492.5" r="1.85"/>
<circle cx="176.0" cy="482.4" r="1.85"/>
<circle cx="174.5" cy="474.8" r="1.85"/>
<circle cx="176.4" cy="458.7" r="1.85"/>
<circle cx="152.9" cy="448.0" r="1.85"/>
<circle cx="160.7" cy="489.2" r="1.85"/>
<circle cx="144.8" cy="463.1" r="1.85"/>
<circle cx="151.2" cy="465.0" r="1.85"/>
<circle cx="177.2" cy="471.8" r="1.85"/>
<circle cx="157.2" cy="477.8" r="1.85"/>
<circle cx="184.1" cy="472.3" r="1.85"/>
<circle cx="174.5" cy="478.5" r="1.85"/>
<circle cx="187.5" cy="474.2" r="1.85"/>
<circle cx="158.9" cy="474.9" r="1.85"/>
<circle cx="175.0" cy="492.6" r="1.85"/>
<circle cx="179.3" cy="485.6" r="1.85"/>
<circle cx="173.9" cy="493.1" r="1.85"/>
<circle cx="164.2" cy="484.2" r="1.85"/>
<circle cx="171.2" cy="490.7" r="1.85"/>
<circle cx="177.5" cy="477.1" r="1.85"/>
<circle cx="175.5" cy="494.4" r="1.85"/>
<circle cx="175.3" cy="491.5" r="1.85"/>
<circle cx="189.8" cy="472.6" r="1.85"/>
<circle cx="174.3" cy="488.3" r="1.85"/>
<circle cx="181.9" cy="482.1" r="1.85"/>
<circle cx="196.6" cy="463.1" r="1.85"/>
<circle cx="176.4" cy="488.5" r="1.85"/>
<circle cx="175.9" cy="488.0" r="1.85"/>
<circle cx="176.5" cy="491.1" r="1.85"/>
<circle cx="162.1" cy="484.8" r="1.85"/>
<circle cx="145.9" cy="466.6" r="1.85"/>
<circle cx="163.1" cy="493.4" r="1.85"/>
<circle cx="183.8" cy="483.6" r="1.85"/>
<circle cx="161.6" cy="477.6" r="1.85"/>
<circle cx="179.5" cy="486.0" r="1.85"/>
<circle cx="172.2" cy="498.0" r="1.85"/>
<circle cx="170.2" cy="493.4" r="1.85"/>
<circle cx="164.6" cy="490.0" r="1.85"/>
<circle cx="174.2" cy="484.9" r="1.85"/>
<circle cx="158.0" cy="474.9" r="1.85"/>
<circle cx="180.5" cy="481.9" r="1.85"/>
<circle cx="149.8" cy="471.6" r="1.85"/>
<circle cx="153.2" cy="467.8" r="1.85"/>
<circle cx="169.3" cy="496.4" r="1.85"/>
<circle cx="176.4" cy="491.6" r="1.85"/>
<circle cx="159.8" cy="463.9" r="1.85"/>
<circle cx="168.2" cy="493.2" r="1.85"/>
<circle cx="162.4" cy="460.1" r="1.85"/>
<circle cx="168.9" cy="497.0" r="1.85"/>
<circle cx="165.9" cy="485.8" r="1.85"/>
<circle cx="177.3" cy="467.9" r="1.85"/>
<circle cx="153.8" cy="460.6" r="1.85"/>
<circle cx="184.6" cy="476.2" r="1.85"/>
<circle cx="165.8" cy="493.8" r="1.85"/>
<circle cx="159.0" cy="474.6" r="1.85"/>
<circle cx="188.2" cy="469.8" r="1.85"/>
<circle cx="159.1" cy="464.7" r="1.85"/>
<circle cx="183.9" cy="482.2" r="1.85"/>
<circle cx="185.3" cy="470.1" r="1.85"/>
<circle cx="159.7" cy="480.5" r="1.85"/>
<circle cx="182.8" cy="484.8" r="1.85"/>
<circle cx="182.8" cy="485.2" r="1.85"/>
<circle cx="169.2" cy="491.3" r="1.85"/>
<circle cx="180.5" cy="485.7" r="1.85"/>
<circle cx="170.2" cy="493.5" r="1.85"/>
<circle cx="153.8" cy="470.8" r="1.85"/>
<circle cx="184.9" cy="471.9" r="1.85"/>
<circle cx="160.6" cy="478.5" r="1.85"/>
<circle cx="149.8" cy="474.0" r="1.85"/>
<circle cx="157.9" cy="486.2" r="1.85"/>
<circle cx="165.5" cy="495.8" r="1.85"/>
<circle cx="159.4" cy="475.9" r="1.85"/>
<circle cx="183.4" cy="484.6" r="1.85"/>
<circle cx="174.3" cy="482.1" r="1.85"/>
<circle cx="178.5" cy="486.9" r="1.85"/>
<circle cx="179.6" cy="480.1" r="1.85"/>
<circle cx="177.6" cy="488.3" r="1.85"/>
<circle cx="154.2" cy="470.7" r="1.85"/>
<circle cx="185.7" cy="480.9" r="1.85"/>
<circle cx="163.2" cy="485.5" r="1.85"/>
<circle cx="159.0" cy="467.0" r="1.85"/>
<circle cx="158.7" cy="470.1" r="1.85"/>
<circle cx="172.1" cy="492.6" r="1.85"/>
<circle cx="175.1" cy="488.1" r="1.85"/>
<circle cx="176.8" cy="492.1" r="1.85"/>
<circle cx="159.8" cy="484.0" r="1.85"/>
<circle cx="176.5" cy="494.0" r="1.85"/>
<circle cx="158.5" cy="478.5" r="1.85"/>
<circle cx="158.6" cy="484.9" r="1.85"/>
<circle cx="177.2" cy="484.7" r="1.85"/>
<circle cx="157.7" cy="474.5" r="1.85"/>
<circle cx="184.6" cy="478.5" r="1.85"/>
<circle cx="176.7" cy="488.3" r="1.85"/>
<circle cx="156.5" cy="480.8" r="1.85"/>
<circle cx="176.4" cy="485.8" r="1.85"/>
<circle cx="185.6" cy="478.9" r="1.85"/>
<circle cx="190.4" cy="456.6" r="1.85"/>
<circle cx="165.3" cy="494.8" r="1.85"/>
<circle cx="177.8" cy="484.2" r="1.85"/>
<circle cx="174.2" cy="481.5" r="1.85"/>
<circle cx="164.3" cy="492.0" r="1.85"/>
<circle cx="170.3" cy="493.1" r="1.85"/>
<circle cx="179.5" cy="482.8" r="1.85"/>
<circle cx="187.8" cy="468.6" r="1.85"/>
<circle cx="165.2" cy="491.7" r="1.85"/>
<circle cx="160.9" cy="450.0" r="1.85"/>
<circle cx="162.9" cy="479.9" r="1.85"/>
<circle cx="182.0" cy="481.0" r="1.85"/>
<circle cx="178.8" cy="484.7" r="1.85"/>
<circle cx="171.9" cy="492.7" r="1.85"/>
<circle cx="155.7" cy="478.4" r="1.85"/>
<circle cx="176.2" cy="468.6" r="1.85"/>
<circle cx="173.6" cy="493.1" r="1.85"/>
<circle cx="179.7" cy="474.7" r="1.85"/>
<circle cx="181.7" cy="471.1" r="1.85"/>
<circle cx="150.6" cy="449.5" r="1.85"/>
<circle cx="166.4" cy="495.9" r="1.85"/>
<circle cx="171.2" cy="498.0" r="1.85"/>
<circle cx="173.7" cy="494.9" r="1.85"/>
<circle cx="169.8" cy="498.3" r="1.85"/>
<circle cx="188.9" cy="467.4" r="1.85"/>
<circle cx="160.0" cy="477.7" r="1.85"/>
<circle cx="179.1" cy="455.7" r="1.85"/>
<circle cx="187.3" cy="465.6" r="1.85"/>
<circle cx="181.0" cy="479.4" r="1.85"/>
<circle cx="163.7" cy="479.3" r="1.85"/>
<circle cx="168.6" cy="495.0" r="1.85"/>
<circle cx="150.7" cy="462.9" r="1.85"/>
<circle cx="186.3" cy="475.0" r="1.85"/>
<circle cx="162.0" cy="491.8" r="1.85"/>
<circle cx="156.1" cy="482.5" r="1.85"/>
<circle cx="165.9" cy="477.7" r="1.85"/>
<circle cx="167.6" cy="494.9" r="1.85"/>
<circle cx="174.4" cy="487.3" r="1.85"/>
<circle cx="174.8" cy="497.7" r="1.85"/>
<circle cx="163.4" cy="493.4" r="1.85"/>
<circle cx="175.0" cy="483.8" r="1.85"/>
<circle cx="176.5" cy="489.9" r="1.85"/>
<circle cx="170.7" cy="493.8" r="1.85"/>
<circle cx="173.7" cy="477.6" r="1.85"/>
<circle cx="182.2" cy="475.9" r="1.85"/>
<circle cx="179.6" cy="476.0" r="1.85"/>
<circle cx="189.9" cy="467.0" r="1.85"/>
<circle cx="186.5" cy="439.0" r="1.85"/>
<circle cx="159.8" cy="477.5" r="1.85"/>
<circle cx="155.4" cy="482.4" r="1.85"/>
<circle cx="174.0" cy="481.7" r="1.85"/>
<circle cx="177.1" cy="490.3" r="1.85"/>
<circle cx="196.6" cy="463.7" r="1.85"/>
<circle cx="177.0" cy="491.5" r="1.85"/>
<circle cx="179.0" cy="471.0" r="1.85"/>
<circle cx="178.5" cy="488.7" r="1.85"/>
<circle cx="182.2" cy="469.8" r="1.85"/>
<circle cx="157.3" cy="451.6" r="1.85"/>
<circle cx="180.3" cy="487.0" r="1.85"/>
<circle cx="183.6" cy="484.1" r="1.85"/>
<circle cx="192.0" cy="465.6" r="1.85"/>
<circle cx="195.8" cy="456.1" r="1.85"/>
<circle cx="175.4" cy="486.7" r="1.85"/>
<circle cx="182.9" cy="482.6" r="1.85"/>
<circle cx="162.9" cy="489.1" r="1.85"/>
<circle cx="163.4" cy="485.3" r="1.85"/>
<circle cx="163.2" cy="488.1" r="1.85"/>
<circle cx="164.5" cy="472.8" r="1.85"/>
<circle cx="184.9" cy="482.3" r="1.85"/>
<circle cx="191.1" cy="467.8" r="1.85"/>
<circle cx="165.2" cy="497.0" r="1.85"/>
<circle cx="162.0" cy="457.9" r="1.85"/>
<circle cx="166.6" cy="478.5" r="1.85"/>
<circle cx="175.8" cy="496.2" r="1.85"/>
<circle cx="174.1" cy="496.7" r="1.85"/>
<circle cx="167.2" cy="491.4" r="1.85"/>
<circle cx="159.2" cy="439.6" r="1.85"/>
<circle cx="165.9" cy="487.3" r="1.85"/>
<circle cx="172.8" cy="494.2" r="1.85"/>
<circle cx="153.1" cy="478.2" r="1.85"/>
<circle cx="161.0" cy="490.5" r="1.85"/>
<circle cx="161.9" cy="482.5" r="1.85"/>
<circle cx="157.8" cy="485.7" r="1.85"/>
<circle cx="158.0" cy="485.1" r="1.85"/>
<circle cx="156.1" cy="469.6" r="1.85"/>
<circle cx="193.9" cy="460.3" r="1.85"/>
<circle cx="156.4" cy="450.3" r="1.85"/>
<circle cx="175.1" cy="489.5" r="1.85"/>
<circle cx="171.6" cy="492.4" r="1.85"/>
<circle cx="165.4" cy="497.8" r="1.85"/>
<circle cx="167.2" cy="492.5" r="1.85"/>
<circle cx="191.7" cy="454.2" r="1.85"/>
<circle cx="156.4" cy="470.1" r="1.85"/>
<circle cx="178.3" cy="488.0" r="1.85"/>
<circle cx="165.1" cy="497.3" r="1.85"/>
<circle cx="181.0" cy="483.0" r="1.85"/>
<circle cx="176.0" cy="490.1" r="1.85"/>
<circle cx="174.5" cy="485.8" r="1.85"/>
<circle cx="185.4" cy="480.6" r="1.85"/>
<circle cx="178.0" cy="480.8" r="1.85"/>
<circle cx="145.1" cy="460.3" r="1.85"/>
<circle cx="159.9" cy="481.4" r="1.85"/>
<circle cx="170.1" cy="498.0" r="1.85"/>
<circle cx="154.3" cy="455.9" r="1.85"/>
<circle cx="178.2" cy="488.5" r="1.85"/>
<circle cx="184.0" cy="481.5" r="1.85"/>
<circle cx="162.7" cy="490.2" r="1.85"/>
<circle cx="172.3" cy="497.2" r="1.85"/>
<circle cx="175.7" cy="493.4" r="1.85"/>
<circle cx="168.2" cy="497.4" r="1.85"/>
<circle cx="162.7" cy="471.1" r="1.85"/>
<circle cx="151.3" cy="470.4" r="1.85"/>
<circle cx="154.0" cy="477.5" r="1.85"/>
<circle cx="155.6" cy="455.5" r="1.85"/>
<circle cx="174.0" cy="482.8" r="1.85"/>
<circle cx="185.3" cy="474.8" r="1.85"/>
<circle cx="188.5" cy="472.3" r="1.85"/>
<circle cx="186.4" cy="442.4" r="1.85"/>
<circle cx="185.0" cy="476.6" r="1.85"/>
<circle cx="179.9" cy="472.0" r="1.85"/>
<circle cx="167.6" cy="492.0" r="1.85"/>
<circle cx="154.7" cy="479.7" r="1.85"/>
<circle cx="155.1" cy="471.5" r="1.85"/>
<circle cx="166.1" cy="490.7" r="1.85"/>
<circle cx="174.8" cy="477.7" r="1.85"/>
<circle cx="174.6" cy="478.5" r="1.85"/>
<circle cx="177.3" cy="486.3" r="1.85"/>
<circle cx="182.9" cy="484.6" r="1.85"/>
<circle cx="174.4" cy="478.0" r="1.85"/>
<circle cx="177.3" cy="490.2" r="1.85"/>
<circle cx="191.7" cy="471.1" r="1.85"/>
<circle cx="176.0" cy="471.2" r="1.85"/>
<circle cx="162.8" cy="481.1" r="1.85"/>
<circle cx="175.3" cy="484.9" r="1.85"/>
<circle cx="181.4" cy="486.8" r="1.85"/>
<circle cx="179.0" cy="451.7" r="1.85"/>
<circle cx="171.4" cy="489.2" r="1.85"/>
<circle cx="175.5" cy="474.0" r="1.85"/>
<circle cx="146.4" cy="445.1" r="1.85"/>
<circle cx="174.9" cy="491.9" r="1.85"/>
<circle cx="160.0" cy="452.8" r="1.85"/>
<circle cx="153.1" cy="449.7" r="1.85"/>
<circle cx="154.9" cy="479.0" r="1.85"/>
<circle cx="183.6" cy="481.2" r="1.85"/>
<circle cx="171.7" cy="489.0" r="1.85"/>
<circle cx="152.2" cy="457.6" r="1.85"/>
<circle cx="149.8" cy="475.0" r="1.85"/>
<circle cx="166.6" cy="493.4" r="1.85"/>
<circle cx="158.4" cy="450.4" r="1.85"/>
<circle cx="156.3" cy="483.0" r="1.85"/>
<circle cx="166.7" cy="496.2" r="1.85"/>
<circle cx="173.9" cy="497.6" r="1.85"/>
<circle cx="175.3" cy="496.4" r="1.85"/>
<circle cx="164.2" cy="489.9" r="1.85"/>
<circle cx="160.4" cy="486.8" r="1.85"/>
<circle cx="149.9" cy="451.0" r="1.85"/>
<circle cx="171.0" cy="494.8" r="1.85"/>
<circle cx="176.5" cy="479.7" r="1.85"/>
<circle cx="167.8" cy="489.2" r="1.85"/>
<circle cx="186.4" cy="475.8" r="1.85"/>
<circle cx="184.0" cy="477.3" r="1.85"/>
<circle cx="165.0" cy="486.2" r="1.85"/>
<circle cx="176.0" cy="484.0" r="1.85"/>
<circle cx="176.9" cy="479.9" r="1.85"/>
<circle cx="175.7" cy="484.8" r="1.85"/>
<circle cx="155.2" cy="477.2" r="1.85"/>
<circle cx="190.1" cy="458.8" r="1.85"/>
<circle cx="164.7" cy="492.8" r="1.85"/>
<circle cx="182.4" cy="476.0" r="1.85"/>
<circle cx="166.5" cy="497.2" r="1.85"/>
<circle cx="181.7" cy="473.9" r="1.85"/>
<circle cx="175.2" cy="496.1" r="1.85"/>
<circle cx="180.0" cy="470.1" r="1.85"/>
<circle cx="179.3" cy="489.6" r="1.85"/>
<circle cx="174.8" cy="496.0" r="1.85"/>
<circle cx="163.6" cy="479.8" r="1.85"/>
<circle cx="183.0" cy="482.9" r="1.85"/>
<circle cx="162.6" cy="481.3" r="1.85"/>
<circle cx="166.5" cy="490.6" r="1.85"/>
<circle cx="176.7" cy="492.7" r="1.85"/>
<circle cx="171.0" cy="489.6" r="1.85"/>
<circle cx="173.5" cy="493.5" r="1.85"/>
<circle cx="162.7" cy="490.1" r="1.85"/>
<circle cx="180.4" cy="488.4" r="1.85"/>
<circle cx="181.7" cy="469.1" r="1.85"/>
<circle cx="183.2" cy="460.8" r="1.85"/>
<circle cx="165.5" cy="494.4" r="1.85"/>
<circle cx="152.1" cy="474.7" r="1.85"/>
<circle cx="174.8" cy="496.5" r="1.85"/>
<circle cx="194.0" cy="447.6" r="1.85"/>
<circle cx="175.0" cy="496.9" r="1.85"/>
<circle cx="176.8" cy="470.2" r="1.85"/>
<circle cx="169.2" cy="497.4" r="1.85"/>
<circle cx="167.6" cy="497.7" r="1.85"/>
<circle cx="170.5" cy="496.8" r="1.85"/>
<circle cx="162.1" cy="477.4" r="1.85"/>
<circle cx="156.7" cy="475.3" r="1.85"/>
<circle cx="175.8" cy="487.0" r="1.85"/>
<circle cx="171.4" cy="494.5" r="1.85"/>
<circle cx="170.2" cy="495.5" r="1.85"/>
<circle cx="180.2" cy="487.0" r="1.85"/>
<circle cx="165.1" cy="485.3" r="1.85"/>
<circle cx="169.2" cy="493.5" r="1.85"/>
<circle cx="193.1" cy="438.5" r="1.85"/>
<circle cx="160.2" cy="481.8" r="1.85"/>
<circle cx="179.4" cy="474.0" r="1.85"/>
<circle cx="162.5" cy="486.6" r="1.85"/>
<circle cx="173.7" cy="495.3" r="1.85"/>
<circle cx="163.4" cy="462.3" r="1.85"/>
<circle cx="164.1" cy="485.5" r="1.85"/>
<circle cx="176.4" cy="489.5" r="1.85"/>
<circle cx="178.6" cy="489.2" r="1.85"/>
<circle cx="165.8" cy="485.3" r="1.85"/>
<circle cx="180.8" cy="488.7" r="1.85"/>
<circle cx="193.2" cy="447.9" r="1.85"/>
<circle cx="163.8" cy="481.9" r="1.85"/>
<circle cx="175.6" cy="496.7" r="1.85"/>
<circle cx="173.9" cy="486.7" r="1.85"/>
<circle cx="195.4" cy="447.5" r="1.85"/>
<circle cx="175.1" cy="486.3" r="1.85"/>
<circle cx="158.0" cy="477.9" r="1.85"/>
<circle cx="169.5" cy="496.5" r="1.85"/>
<circle cx="176.6" cy="483.2" r="1.85"/>
<circle cx="172.9" cy="489.1" r="1.85"/>
<circle cx="153.6" cy="465.1" r="1.85"/>
<circle cx="176.4" cy="491.0" r="1.85"/>
<circle cx="190.3" cy="447.4" r="1.85"/>
<circle cx="168.2" cy="493.3" r="1.85"/>
<circle cx="165.5" cy="493.6" r="1.85"/>
<circle cx="168.1" cy="489.4" r="1.85"/>
<circle cx="163.7" cy="481.4" r="1.85"/>
<circle cx="177.9" cy="492.7" r="1.85"/>
<circle cx="180.1" cy="462.0" r="1.85"/>
<circle cx="157.8" cy="480.6" r="1.85"/>
<circle cx="171.8" cy="494.7" r="1.85"/>
<circle cx="145.4" cy="467.8" r="1.85"/>
<circle cx="164.7" cy="495.0" r="1.85"/>
<circle cx="158.6" cy="475.9" r="1.85"/>
<circle cx="171.7" cy="498.6" r="1.85"/>
<circle cx="178.2" cy="475.9" r="1.85"/>
<circle cx="171.7" cy="491.3" r="1.85"/>
<circle cx="162.2" cy="491.0" r="1.85"/>
<circle cx="174.8" cy="487.2" r="1.85"/>
<circle cx="161.4" cy="490.2" r="1.85"/>
<circle cx="193.5" cy="465.0" r="1.85"/>
<circle cx="177.4" cy="485.2" r="1.85"/>
<circle cx="175.2" cy="468.6" r="1.85"/>
<circle cx="185.2" cy="477.9" r="1.85"/>
<circle cx="183.8" cy="479.1" r="1.85"/>
<circle cx="171.2" cy="495.7" r="1.85"/>
<circle cx="165.0" cy="495.9" r="1.85"/>
<circle cx="164.4" cy="492.9" r="1.85"/>
<circle cx="152.2" cy="470.4" r="1.85"/>
<circle cx="188.3" cy="453.1" r="1.85"/>
<circle cx="177.0" cy="483.5" r="1.85"/>
<circle cx="174.4" cy="482.1" r="1.85"/>
<circle cx="168.0" cy="494.6" r="1.85"/>
<circle cx="159.6" cy="487.7" r="1.85"/>
<circle cx="176.2" cy="491.5" r="1.85"/>
<circle cx="163.7" cy="487.7" r="1.85"/>
<circle cx="176.2" cy="495.5" r="1.85"/>
<circle cx="161.2" cy="487.4" r="1.85"/>
<circle cx="164.1" cy="481.2" r="1.85"/>
<circle cx="166.6" cy="482.4" r="1.85"/>
<circle cx="153.9" cy="468.4" r="1.85"/>
<circle cx="175.7" cy="485.3" r="1.85"/>
<circle cx="159.9" cy="478.9" r="1.85"/>
<circle cx="178.2" cy="466.6" r="1.85"/>
<circle cx="175.3" cy="480.7" r="1.85"/>
<circle cx="168.7" cy="497.6" r="1.85"/>
<circle cx="166.5" cy="493.9" r="1.85"/>
<circle cx="171.3" cy="490.5" r="1.85"/>
<circle cx="166.0" cy="495.0" r="1.85"/>
<circle cx="185.8" cy="471.6" r="1.85"/>
<circle cx="173.9" cy="495.9" r="1.85"/>
<circle cx="180.0" cy="484.6" r="1.85"/>
<circle cx="162.3" cy="482.2" r="1.85"/>
<circle cx="192.7" cy="462.6" r="1.85"/>
<circle cx="166.9" cy="494.4" r="1.85"/>
<circle cx="165.5" cy="478.3" r="1.85"/>
<circle cx="165.0" cy="485.3" r="1.85"/>
<circle cx="169.5" cy="496.7" r="1.85"/>
<circle cx="184.2" cy="458.7" r="1.85"/>
<circle cx="162.7" cy="478.7" r="1.85"/>
<circle cx="182.5" cy="486.0" r="1.85"/>
<circle cx="153.2" cy="446.0" r="1.85"/>
<circle cx="166.0" cy="478.1" r="1.85"/>
<circle cx="165.2" cy="496.5" r="1.85"/>
<circle cx="172.6" cy="488.8" r="1.85"/>
<circle cx="164.4" cy="482.7" r="1.85"/>
<circle cx="163.8" cy="483.9" r="1.85"/>
<circle cx="165.9" cy="475.3" r="1.85"/>
<circle cx="175.0" cy="496.3" r="1.85"/>
<circle cx="158.2" cy="481.5" r="1.85"/>
<circle cx="177.8" cy="478.9" r="1.85"/>
<circle cx="157.9" cy="469.5" r="1.85"/>
<circle cx="163.5" cy="474.2" r="1.85"/>
<circle cx="162.3" cy="485.0" r="1.85"/>
<circle cx="171.3" cy="495.3" r="1.85"/>
<circle cx="157.4" cy="484.3" r="1.85"/>
<circle cx="160.3" cy="482.9" r="1.85"/>
<circle cx="176.4" cy="486.9" r="1.85"/>
<circle cx="177.9" cy="484.6" r="1.85"/>
<circle cx="175.9" cy="469.6" r="1.85"/>
<circle cx="181.1" cy="485.2" r="1.85"/>
<circle cx="177.4" cy="492.2" r="1.85"/>
<circle cx="182.9" cy="482.5" r="1.85"/>
<circle cx="166.5" cy="489.1" r="1.85"/>
<circle cx="151.2" cy="438.8" r="1.85"/>
<circle cx="177.4" cy="483.4" r="1.85"/>
<circle cx="176.7" cy="473.7" r="1.85"/>
<circle cx="187.9" cy="469.0" r="1.85"/>
<circle cx="190.1" cy="469.1" r="1.85"/>
<circle cx="159.8" cy="487.0" r="1.85"/>
<circle cx="154.7" cy="475.6" r="1.85"/>
<circle cx="163.5" cy="477.8" r="1.85"/>
<circle cx="157.6" cy="454.2" r="1.85"/>
<circle cx="178.9" cy="486.9" r="1.85"/>
<circle cx="163.8" cy="483.2" r="1.85"/>
<circle cx="146.1" cy="465.3" r="1.85"/>
<circle cx="168.5" cy="493.8" r="1.85"/>
<circle cx="173.5" cy="495.6" r="1.85"/>
<circle cx="164.9" cy="491.2" r="1.85"/>
<circle cx="187.2" cy="474.4" r="1.85"/>
<circle cx="178.4" cy="485.0" r="1.85"/>
<circle cx="171.0" cy="493.9" r="1.85"/>
<circle cx="178.1" cy="481.1" r="1.85"/>
<circle cx="173.9" cy="491.2" r="1.85"/>
<circle cx="178.3" cy="481.6" r="1.85"/>
<circle cx="156.4" cy="459.2" r="1.85"/>
<circle cx="166.6" cy="498.7" r="1.85"/>
<circle cx="175.1" cy="498.0" r="1.85"/>
<circle cx="166.9" cy="491.2" r="1.85"/>
<circle cx="176.5" cy="477.2" r="1.85"/>
<circle cx="186.6" cy="467.1" r="1.85"/>
<circle cx="164.5" cy="475.1" r="1.85"/>
<circle cx="164.5" cy="475.6" r="1.85"/>
<circle cx="170.0" cy="495.5" r="1.85"/>
<circle cx="178.8" cy="476.0" r="1.85"/>
<circle cx="155.8" cy="481.1" r="1.85"/>
<circle cx="161.0" cy="471.1" r="1.85"/>
<circle cx="163.6" cy="492.0" r="1.85"/>
<circle cx="175.0" cy="498.9" r="1.85"/>
<circle cx="154.7" cy="476.3" r="1.85"/>
<circle cx="160.9" cy="490.8" r="1.85"/>
<circle cx="184.3" cy="468.5" r="1.85"/>
<circle cx="175.4" cy="494.5" r="1.85"/>
<circle cx="161.2" cy="481.1" r="1.85"/>
<circle cx="156.0" cy="473.7" r="1.85"/>
<circle cx="178.3" cy="483.8" r="1.85"/>
<circle cx="154.8" cy="470.5" r="1.85"/>
<circle cx="160.9" cy="477.3" r="1.85"/>
<circle cx="175.5" cy="490.4" r="1.85"/>
<circle cx="155.9" cy="477.6" r="1.85"/>
<circle cx="161.0" cy="490.0" r="1.85"/>
<circle cx="172.4" cy="494.3" r="1.85"/>
<circle cx="179.5" cy="469.7" r="1.85"/>
<circle cx="174.9" cy="487.3" r="1.85"/>
<circle cx="184.6" cy="481.2" r="1.85"/>
<circle cx="160.0" cy="443.9" r="1.85"/>
<circle cx="180.6" cy="486.0" r="1.85"/>
<circle cx="162.1" cy="475.2" r="1.85"/>
<circle cx="185.3" cy="480.3" r="1.85"/>
<circle cx="191.8" cy="438.6" r="1.85"/>
<circle cx="174.8" cy="496.1" r="1.85"/>
<circle cx="172.6" cy="499.2" r="1.85"/>
<circle cx="188.1" cy="469.3" r="1.85"/>
<circle cx="163.2" cy="475.5" r="1.85"/>
<circle cx="159.9" cy="468.7" r="1.85"/>
<circle cx="155.1" cy="468.5" r="1.85"/>
<circle cx="153.4" cy="454.8" r="1.85"/>
<circle cx="162.3" cy="486.1" r="1.85"/>
<circle cx="163.8" cy="487.8" r="1.85"/>
<circle cx="173.8" cy="487.4" r="1.85"/>
<circle cx="179.5" cy="475.6" r="1.85"/>
<circle cx="190.9" cy="462.1" r="1.85"/>
<circle cx="172.5" cy="494.6" r="1.85"/>
<circle cx="158.8" cy="460.5" r="1.85"/>
<circle cx="166.6" cy="494.5" r="1.85"/>
<circle cx="176.2" cy="494.0" r="1.85"/>
<circle cx="173.6" cy="493.3" r="1.85"/>
<circle cx="175.0" cy="495.1" r="1.85"/>
<circle cx="175.6" cy="489.5" r="1.85"/>
<circle cx="150.5" cy="464.2" r="1.85"/>
<circle cx="156.3" cy="474.7" r="1.85"/>
<circle cx="177.9" cy="471.5" r="1.85"/>
<circle cx="175.5" cy="485.6" r="1.85"/>
<circle cx="177.8" cy="469.1" r="1.85"/>
<circle cx="177.2" cy="480.9" r="1.85"/>
<circle cx="165.0" cy="481.7" r="1.85"/>
<circle cx="176.3" cy="493.8" r="1.85"/>
<circle cx="177.3" cy="478.6" r="1.85"/>
<circle cx="165.1" cy="493.6" r="1.85"/>
<circle cx="191.0" cy="473.4" r="1.85"/>
<circle cx="172.4" cy="489.4" r="1.85"/>
<circle cx="164.5" cy="496.3" r="1.85"/>
<circle cx="196.0" cy="457.9" r="1.85"/>
<circle cx="178.7" cy="491.4" r="1.85"/>
<circle cx="182.7" cy="472.2" r="1.85"/>
<circle cx="159.4" cy="460.3" r="1.85"/>
<circle cx="160.8" cy="485.8" r="1.85"/>
<circle cx="192.8" cy="468.4" r="1.85"/>
<circle cx="163.7" cy="451.2" r="1.85"/>
<circle cx="162.2" cy="491.4" r="1.85"/>
<circle cx="166.1" cy="489.6" r="1.85"/>
<circle cx="174.9" cy="493.8" r="1.85"/>
<circle cx="174.0" cy="491.6" r="1.85"/>
<circle cx="179.0" cy="472.4" r="1.85"/>
<circle cx="183.4" cy="467.8" r="1.85"/>
<circle cx="174.0" cy="489.5" r="1.85"/>
<circle cx="150.8" cy="474.2" r="1.85"/>
<circle cx="180.9" cy="488.6" r="1.85"/>
<circle cx="193.2" cy="455.7" r="1.85"/>
<circle cx="156.7" cy="481.9" r="1.85"/>
<circle cx="176.6" cy="484.9" r="1.85"/>
<circle cx="155.5" cy="471.2" r="1.85"/>
<circle cx="165.4" cy="487.9" r="1.85"/>
<circle cx="176.7" cy="494.6" r="1.85"/>
<circle cx="157.0" cy="483.9" r="1.85"/>
<circle cx="166.3" cy="494.3" r="1.85"/>
<circle cx="172.5" cy="494.8" r="1.85"/>
<circle cx="183.1" cy="482.4" r="1.85"/>
<circle cx="173.4" cy="487.8" r="1.85"/>
<circle cx="163.6" cy="491.7" r="1.85"/>
<circle cx="163.5" cy="472.9" r="1.85"/>
<circle cx="194.2" cy="467.3" r="1.85"/>
<circle cx="180.8" cy="438.5" r="1.85"/>
<circle cx="166.2" cy="490.6" r="1.85"/>
<circle cx="161.7" cy="487.5" r="1.85"/>
<circle cx="166.5" cy="497.9" r="1.85"/>
<circle cx="172.5" cy="498.2" r="1.85"/>
<circle cx="183.3" cy="481.7" r="1.85"/>
<circle cx="183.7" cy="455.2" r="1.85"/>
<circle cx="165.2" cy="492.9" r="1.85"/>
<circle cx="166.3" cy="497.8" r="1.85"/>
<circle cx="173.6" cy="489.3" r="1.85"/>
<circle cx="167.3" cy="495.2" r="1.85"/>
<circle cx="177.3" cy="491.5" r="1.85"/>
<circle cx="165.8" cy="495.0" r="1.85"/>
<circle cx="175.3" cy="491.8" r="1.85"/>
<circle cx="164.7" cy="474.5" r="1.85"/>
<circle cx="172.0" cy="493.7" r="1.85"/>
<circle cx="175.4" cy="485.5" r="1.85"/>
<circle cx="176.8" cy="491.5" r="1.85"/>
<circle cx="176.9" cy="487.6" r="1.85"/>
<circle cx="160.5" cy="465.9" r="1.85"/>
<circle cx="160.2" cy="484.4" r="1.85"/>
<circle cx="175.9" cy="489.7" r="1.85"/>
<circle cx="146.7" cy="470.0" r="1.85"/>
<circle cx="169.4" cy="496.7" r="1.85"/>
<circle cx="164.9" cy="489.7" r="1.85"/>
<circle cx="174.3" cy="492.4" r="1.85"/>
<circle cx="174.9" cy="494.3" r="1.85"/>
<circle cx="181.9" cy="481.9" r="1.85"/>
<circle cx="167.7" cy="494.7" r="1.85"/>
<circle cx="168.0" cy="496.3" r="1.85"/>
<circle cx="183.1" cy="465.3" r="1.85"/>
<circle cx="183.0" cy="484.0" r="1.85"/>
<circle cx="170.9" cy="492.0" r="1.85"/>
<circle cx="159.7" cy="487.3" r="1.85"/>
<circle cx="187.2" cy="476.4" r="1.85"/>
<circle cx="162.5" cy="485.4" r="1.85"/>
<circle cx="170.0" cy="496.5" r="1.85"/>
<circle cx="179.1" cy="453.7" r="1.85"/>
<circle cx="170.0" cy="491.1" r="1.85"/>
<circle cx="176.8" cy="454.1" r="1.85"/>
<circle cx="151.0" cy="455.4" r="1.85"/>
<circle cx="147.3" cy="449.8" r="1.85"/>
<circle cx="161.8" cy="488.0" r="1.85"/>
<circle cx="174.7" cy="475.7" r="1.85"/>
<circle cx="186.0" cy="463.2" r="1.85"/>
<circle cx="175.2" cy="498.1" r="1.85"/>
<circle cx="160.4" cy="485.8" r="1.85"/>
<circle cx="148.2" cy="446.4" r="1.85"/>
<circle cx="174.7" cy="488.0" r="1.85"/>
<circle cx="176.7" cy="485.1" r="1.85"/>
<circle cx="172.4" cy="498.9" r="1.85"/>
<circle cx="160.5" cy="463.5" r="1.85"/>
<circle cx="169.1" cy="493.7" r="1.85"/>
<circle cx="182.8" cy="484.3" r="1.85"/>
<circle cx="168.6" cy="493.3" r="1.85"/>
<circle cx="188.3" cy="476.5" r="1.85"/>
<circle cx="162.6" cy="458.3" r="1.85"/>
<circle cx="171.3" cy="496.5" r="1.85"/>
<circle cx="178.9" cy="479.1" r="1.85"/>
<circle cx="187.5" cy="461.0" r="1.85"/>
<circle cx="180.8" cy="471.2" r="1.85"/>
<circle cx="176.5" cy="482.4" r="1.85"/>
<circle cx="179.3" cy="486.1" r="1.85"/>
<circle cx="173.7" cy="496.5" r="1.85"/>
<circle cx="174.2" cy="482.5" r="1.85"/>
<circle cx="174.8" cy="493.3" r="1.85"/>
<circle cx="163.5" cy="480.9" r="1.85"/>
<circle cx="167.1" cy="494.6" r="1.85"/>
<circle cx="176.4" cy="475.7" r="1.85"/>
<circle cx="175.2" cy="477.8" r="1.85"/>
<circle cx="175.4" cy="485.9" r="1.85"/>
<circle cx="181.2" cy="485.6" r="1.85"/>
<circle cx="160.4" cy="485.4" r="1.85"/>
<circle cx="175.3" cy="488.9" r="1.85"/>
<circle cx="163.2" cy="489.2" r="1.85"/>
<circle cx="174.4" cy="497.5" r="1.85"/>
<circle cx="174.9" cy="496.8" r="1.85"/>
<circle cx="166.7" cy="492.7" r="1.85"/>
<circle cx="177.4" cy="488.5" r="1.85"/>
<circle cx="176.6" cy="460.6" r="1.85"/>
<circle cx="152.9" cy="464.0" r="1.85"/>
<circle cx="157.7" cy="460.3" r="1.85"/>
<circle cx="180.0" cy="471.3" r="1.85"/>
<circle cx="165.2" cy="488.1" r="1.85"/>
<circle cx="187.7" cy="475.4" r="1.85"/>
<circle cx="176.0" cy="475.6" r="1.85"/>
<circle cx="181.3" cy="486.9" r="1.85"/>
<circle cx="163.0" cy="489.3" r="1.85"/>
<circle cx="186.4" cy="470.6" r="1.85"/>
<circle cx="158.7" cy="468.0" r="1.85"/>
<circle cx="167.1" cy="496.6" r="1.85"/>
<circle cx="161.7" cy="438.0" r="1.85"/>
<circle cx="166.6" cy="482.3" r="1.85"/>
<circle cx="170.2" cy="494.4" r="1.85"/>
<circle cx="157.3" cy="476.9" r="1.85"/>
<circle cx="181.1" cy="471.2" r="1.85"/>
<circle cx="176.9" cy="479.5" r="1.85"/>
<circle cx="174.6" cy="497.9" r="1.85"/>
<circle cx="166.1" cy="480.5" r="1.85"/>
<circle cx="159.6" cy="486.3" r="1.85"/>
<circle cx="186.6" cy="465.9" r="1.85"/>
<circle cx="168.0" cy="497.4" r="1.85"/>
<circle cx="167.0" cy="492.1" r="1.85"/>
<circle cx="194.2" cy="457.2" r="1.85"/>
<circle cx="175.4" cy="484.5" r="1.85"/>
<circle cx="169.5" cy="497.1" r="1.85"/>
<circle cx="152.6" cy="465.7" r="1.85"/>
<circle cx="162.6" cy="476.9" r="1.85"/>
<circle cx="179.6" cy="491.0" r="1.85"/>
<circle cx="173.1" cy="497.3" r="1.85"/>
<circle cx="178.6" cy="474.2" r="1.85"/>
<circle cx="178.5" cy="474.1" r="1.85"/>
<circle cx="166.7" cy="495.1" r="1.85"/>
<circle cx="183.8" cy="466.9" r="1.85"/>
<circle cx="169.6" cy="489.5" r="1.85"/>
<circle cx="169.6" cy="496.6" r="1.85"/>
<circle cx="179.8" cy="486.7" r="1.85"/>
<circle cx="165.0" cy="483.6" r="1.85"/>
<circle cx="170.1" cy="497.6" r="1.85"/>
<circle cx="166.1" cy="498.0" r="1.85"/>
<circle cx="161.7" cy="470.8" r="1.85"/>
<circle cx="165.1" cy="475.2" r="1.85"/>
<circle cx="153.8" cy="477.6" r="1.85"/>
<circle cx="167.0" cy="485.7" r="1.85"/>
<circle cx="158.8" cy="446.1" r="1.85"/>
<circle cx="165.4" cy="477.8" r="1.85"/>
<circle cx="158.5" cy="480.4" r="1.85"/>
<circle cx="159.0" cy="486.1" r="1.85"/>
<circle cx="157.7" cy="468.3" r="1.85"/>
<circle cx="174.2" cy="482.4" r="1.85"/>
<circle cx="190.4" cy="458.8" r="1.85"/>
<circle cx="160.9" cy="484.4" r="1.85"/>
<circle cx="175.6" cy="487.3" r="1.85"/>
<circle cx="158.3" cy="469.6" r="1.85"/>
<circle cx="155.2" cy="464.2" r="1.85"/>
<circle cx="178.0" cy="484.9" r="1.85"/>
<circle cx="163.9" cy="471.0" r="1.85"/>
<circle cx="168.8" cy="495.7" r="1.85"/>
<circle cx="172.5" cy="498.8" r="1.85"/>
<circle cx="164.9" cy="486.9" r="1.85"/>
<circle cx="173.1" cy="497.6" r="1.85"/>
<circle cx="159.6" cy="479.5" r="1.85"/>
<circle cx="163.9" cy="490.3" r="1.85"/>
<circle cx="158.8" cy="442.6" r="1.85"/>
<circle cx="173.7" cy="497.3" r="1.85"/>
<circle cx="176.0" cy="490.2" r="1.85"/>
<circle cx="166.6" cy="489.3" r="1.85"/>
<circle cx="169.0" cy="488.9" r="1.85"/>
<circle cx="173.8" cy="497.3" r="1.85"/>
<circle cx="189.4" cy="452.8" r="1.85"/>
<circle cx="171.2" cy="490.7" r="1.85"/>
<circle cx="152.4" cy="462.4" r="1.85"/>
<circle cx="170.6" cy="498.6" r="1.85"/>
<circle cx="163.5" cy="492.0" r="1.85"/>
<circle cx="168.9" cy="495.9" r="1.85"/>
<circle cx="166.5" cy="480.3" r="1.85"/>
<circle cx="173.8" cy="496.8" r="1.85"/>
<circle cx="159.6" cy="485.6" r="1.85"/>
<circle cx="154.4" cy="462.6" r="1.85"/>
<circle cx="151.6" cy="458.7" r="1.85"/>
<circle cx="149.3" cy="451.3" r="1.85"/>
<circle cx="169.3" cy="494.0" r="1.85"/>
<circle cx="180.2" cy="481.6" r="1.85"/>
<circle cx="184.3" cy="473.2" r="1.85"/>
<circle cx="165.1" cy="494.2" r="1.85"/>
<circle cx="158.6" cy="473.5" r="1.85"/>
<circle cx="181.3" cy="487.6" r="1.85"/>
<circle cx="161.8" cy="451.8" r="1.85"/>
<circle cx="161.3" cy="480.6" r="1.85"/>
<circle cx="164.4" cy="472.3" r="1.85"/>
<circle cx="174.9" cy="489.2" r="1.85"/>
<circle cx="165.6" cy="487.8" r="1.85"/>
<circle cx="164.4" cy="476.6" r="1.85"/>
<circle cx="159.8" cy="481.2" r="1.85"/>
<circle cx="160.3" cy="461.1" r="1.85"/>
<circle cx="189.5" cy="471.5" r="1.85"/>
<circle cx="165.8" cy="490.6" r="1.85"/>
<circle cx="161.7" cy="464.6" r="1.85"/>
<circle cx="165.5" cy="484.5" r="1.85"/>
<circle cx="160.1" cy="478.7" r="1.85"/>
<circle cx="166.2" cy="491.4" r="1.85"/>
<circle cx="176.5" cy="470.4" r="1.85"/>
<circle cx="169.5" cy="496.0" r="1.85"/>
<circle cx="162.5" cy="476.2" r="1.85"/>
<circle cx="168.4" cy="490.9" r="1.85"/>
<circle cx="174.9" cy="488.9" r="1.85"/>
<circle cx="164.9" cy="490.3" r="1.85"/>
<circle cx="167.6" cy="490.4" r="1.85"/>
<circle cx="156.3" cy="469.2" r="1.85"/>
<circle cx="172.8" cy="494.1" r="1.85"/>
<circle cx="171.7" cy="494.5" r="1.85"/>
<circle cx="179.4" cy="486.4" r="1.85"/>
<circle cx="160.2" cy="468.0" r="1.85"/>
<circle cx="175.6" cy="495.8" r="1.85"/>
<circle cx="158.7" cy="476.5" r="1.85"/>
<circle cx="169.2" cy="494.0" r="1.85"/>
<circle cx="167.5" cy="497.1" r="1.85"/>
<circle cx="184.0" cy="441.9" r="1.85"/>
<circle cx="192.6" cy="450.7" r="1.85"/>
<circle cx="170.5" cy="496.7" r="1.85"/>
<circle cx="186.3" cy="472.6" r="1.85"/>
<circle cx="164.7" cy="488.3" r="1.85"/>
<circle cx="172.4" cy="488.6" r="1.85"/>
<circle cx="179.6" cy="474.9" r="1.85"/>
<circle cx="174.4" cy="498.4" r="1.85"/>
<circle cx="177.8" cy="489.9" r="1.85"/>
<circle cx="166.6" cy="498.2" r="1.85"/>
<circle cx="177.7" cy="454.5" r="1.85"/>
<circle cx="182.9" cy="478.5" r="1.85"/>
<circle cx="148.9" cy="472.5" r="1.85"/>
<circle cx="184.6" cy="480.7" r="1.85"/>
<circle cx="182.3" cy="460.2" r="1.85"/>
<circle cx="155.0" cy="480.0" r="1.85"/>
<circle cx="162.0" cy="483.7" r="1.85"/>
<circle cx="185.5" cy="481.6" r="1.85"/>
<circle cx="161.3" cy="485.7" r="1.85"/>
<circle cx="183.6" cy="480.3" r="1.85"/>
<circle cx="162.1" cy="478.0" r="1.85"/>
<circle cx="165.5" cy="492.5" r="1.85"/>
<circle cx="177.7" cy="488.2" r="1.85"/>
<circle cx="177.2" cy="481.9" r="1.85"/>
<circle cx="181.5" cy="481.3" r="1.85"/>
<circle cx="158.1" cy="486.3" r="1.85"/>
<circle cx="173.8" cy="499.1" r="1.85"/>
<circle cx="169.5" cy="491.6" r="1.85"/>
<circle cx="176.4" cy="481.6" r="1.85"/>
<circle cx="170.3" cy="497.1" r="1.85"/>
<circle cx="184.9" cy="458.0" r="1.85"/>
<circle cx="195.6" cy="461.8" r="1.85"/>
<circle cx="164.7" cy="487.8" r="1.85"/>
<circle cx="157.8" cy="454.9" r="1.85"/>
<circle cx="176.6" cy="494.4" r="1.85"/>
<circle cx="156.6" cy="456.4" r="1.85"/>
<circle cx="160.3" cy="478.2" r="1.85"/>
<circle cx="181.5" cy="486.1" r="1.85"/>
<circle cx="152.2" cy="476.5" r="1.85"/>
<circle cx="149.1" cy="473.0" r="1.85"/>
<circle cx="172.5" cy="498.8" r="1.85"/>
<circle cx="167.0" cy="492.0" r="1.85"/>
<circle cx="172.1" cy="496.2" r="1.85"/>
<circle cx="165.0" cy="492.4" r="1.85"/>
<circle cx="186.8" cy="447.5" r="1.85"/>
<circle cx="182.0" cy="486.7" r="1.85"/>
<circle cx="169.3" cy="492.8" r="1.85"/>
<circle cx="172.1" cy="491.6" r="1.85"/>
<circle cx="156.3" cy="479.2" r="1.85"/>
<circle cx="158.4" cy="462.9" r="1.85"/>
<circle cx="173.7" cy="486.4" r="1.85"/>
<circle cx="163.5" cy="476.6" r="1.85"/>
<circle cx="175.6" cy="489.4" r="1.85"/>
<circle cx="175.0" cy="496.6" r="1.85"/>
<circle cx="164.2" cy="487.1" r="1.85"/>
<circle cx="174.7" cy="495.6" r="1.85"/>
<circle cx="168.9" cy="495.7" r="1.85"/>
<circle cx="152.7" cy="475.8" r="1.85"/>
<circle cx="173.5" cy="498.8" r="1.85"/>
<circle cx="171.2" cy="495.7" r="1.85"/>
<circle cx="172.6" cy="496.8" r="1.85"/>
<circle cx="167.2" cy="490.5" r="1.85"/>
<circle cx="164.8" cy="484.1" r="1.85"/>
<circle cx="178.0" cy="492.1" r="1.85"/>
<circle cx="176.0" cy="491.8" r="1.85"/>
<circle cx="176.4" cy="493.9" r="1.85"/>
<circle cx="182.1" cy="486.4" r="1.85"/>
<circle cx="177.7" cy="487.5" r="1.85"/>
<circle cx="173.6" cy="492.5" r="1.85"/>
<circle cx="185.4" cy="465.2" r="1.85"/>
<circle cx="182.2" cy="482.7" r="1.85"/>
<circle cx="174.3" cy="485.8" r="1.85"/>
<circle cx="151.0" cy="466.5" r="1.85"/>
<circle cx="170.8" cy="490.7" r="1.85"/>
<circle cx="166.5" cy="489.2" r="1.85"/>
<circle cx="168.3" cy="493.7" r="1.85"/>
<circle cx="159.4" cy="480.0" r="1.85"/>
<circle cx="195.4" cy="464.5" r="1.85"/>
<circle cx="162.8" cy="482.8" r="1.85"/>
<circle cx="175.2" cy="489.9" r="1.85"/>
<circle cx="172.5" cy="496.7" r="1.85"/>
<circle cx="155.9" cy="475.3" r="1.85"/>
<circle cx="154.1" cy="474.9" r="1.85"/>
<circle cx="183.9" cy="457.8" r="1.85"/>
<circle cx="158.2" cy="468.2" r="1.85"/>
<circle cx="156.1" cy="450.7" r="1.85"/>
<circle cx="182.6" cy="472.8" r="1.85"/>
<circle cx="176.5" cy="488.7" r="1.85"/>
<circle cx="189.4" cy="474.6" r="1.85"/>
<circle cx="170.6" cy="495.7" r="1.85"/>
<circle cx="170.8" cy="495.6" r="1.85"/>
<circle cx="164.2" cy="487.5" r="1.85"/>
<circle cx="174.7" cy="495.8" r="1.85"/>
<circle cx="157.5" cy="464.4" r="1.85"/>
<circle cx="176.2" cy="481.0" r="1.85"/>
<circle cx="188.2" cy="476.4" r="1.85"/>
<circle cx="180.6" cy="488.0" r="1.85"/>
<circle cx="169.5" cy="495.8" r="1.85"/>
<circle cx="172.1" cy="498.5" r="1.85"/>
<circle cx="186.0" cy="477.9" r="1.85"/>
<circle cx="177.1" cy="479.1" r="1.85"/>
<circle cx="163.6" cy="492.2" r="1.85"/>
<circle cx="164.2" cy="489.1" r="1.85"/>
<circle cx="157.5" cy="453.3" r="1.85"/>
<circle cx="174.2" cy="490.7" r="1.85"/>
<circle cx="176.4" cy="479.6" r="1.85"/>
<circle cx="171.2" cy="498.2" r="1.85"/>
<circle cx="179.0" cy="484.4" r="1.85"/>
<circle cx="170.1" cy="493.5" r="1.85"/>
<circle cx="180.2" cy="467.9" r="1.85"/>
<circle cx="183.9" cy="482.9" r="1.85"/>
<circle cx="146.5" cy="440.9" r="1.85"/>
<circle cx="177.1" cy="484.8" r="1.85"/>
<circle cx="150.0" cy="468.8" r="1.85"/>
<circle cx="174.7" cy="489.5" r="1.85"/>
<circle cx="175.4" cy="486.2" r="1.85"/>
<circle cx="168.2" cy="494.5" r="1.85"/>
<circle cx="154.3" cy="453.7" r="1.85"/>
<circle cx="163.3" cy="487.0" r="1.85"/>
<circle cx="159.1" cy="475.5" r="1.85"/>
<circle cx="169.6" cy="497.6" r="1.85"/>
<circle cx="164.3" cy="492.2" r="1.85"/>
<circle cx="162.9" cy="475.4" r="1.85"/>
<circle cx="192.2" cy="463.7" r="1.85"/>
<circle cx="165.5" cy="494.8" r="1.85"/>
<circle cx="193.7" cy="464.5" r="1.85"/>
<circle cx="180.4" cy="486.9" r="1.85"/>
<circle cx="174.8" cy="497.4" r="1.85"/>
<circle cx="151.4" cy="468.0" r="1.85"/>
<circle cx="163.4" cy="469.4" r="1.85"/>
<circle cx="177.7" cy="480.2" r="1.85"/>
<circle cx="171.4" cy="494.4" r="1.85"/>
<circle cx="193.7" cy="468.7" r="1.85"/>
<circle cx="179.3" cy="460.8" r="1.85"/>
<circle cx="180.3" cy="466.9" r="1.85"/>
<circle cx="162.6" cy="484.2" r="1.85"/>
<circle cx="176.0" cy="479.3" r="1.85"/>
<circle cx="172.5" cy="494.0" r="1.85"/>
<circle cx="179.1" cy="490.6" r="1.85"/>
<circle cx="192.8" cy="465.9" r="1.85"/>
<circle cx="179.3" cy="477.0" r="1.85"/>
<circle cx="171.3" cy="490.9" r="1.85"/>
<circle cx="182.9" cy="486.3" r="1.85"/>
<circle cx="176.5" cy="485.8" r="1.85"/>
<circle cx="187.4" cy="476.5" r="1.85"/>
<circle cx="148.9" cy="465.6" r="1.85"/>
<circle cx="191.8" cy="465.6" r="1.85"/>
<circle cx="174.7" cy="482.5" r="1.85"/>
<circle cx="183.0" cy="479.2" r="1.85"/>
<circle cx="167.4" cy="493.9" r="1.85"/>
<circle cx="175.0" cy="477.2" r="1.85"/>
<circle cx="155.2" cy="480.9" r="1.85"/>
<circle cx="158.3" cy="479.6" r="1.85"/>
<circle cx="172.8" cy="496.6" r="1.85"/>
<circle cx="160.4" cy="470.0" r="1.85"/>
<circle cx="174.1" cy="482.4" r="1.85"/>
<circle cx="146.8" cy="445.6" r="1.85"/>
<circle cx="175.6" cy="489.8" r="1.85"/>
<circle cx="150.3" cy="474.9" r="1.85"/>
<circle cx="168.0" cy="492.5" r="1.85"/>
<circle cx="169.2" cy="493.0" r="1.85"/>
<circle cx="160.7" cy="440.2" r="1.85"/>
<circle cx="163.4" cy="486.7" r="1.85"/>
<circle cx="165.8" cy="487.7" r="1.85"/>
<circle cx="166.1" cy="487.9" r="1.85"/>
<circle cx="152.6" cy="476.1" r="1.85"/>
<circle cx="170.8" cy="498.3" r="1.85"/>
<circle cx="178.9" cy="484.9" r="1.85"/>
<circle cx="160.2" cy="477.2" r="1.85"/>
<circle cx="164.8" cy="491.1" r="1.85"/>
<circle cx="176.5" cy="457.6" r="1.85"/>
<circle cx="161.6" cy="478.9" r="1.85"/>
<circle cx="178.8" cy="480.4" r="1.85"/>
<circle cx="171.4" cy="498.4" r="1.85"/>
<circle cx="166.8" cy="486.1" r="1.85"/>
<circle cx="167.9" cy="492.5" r="1.85"/>
<circle cx="177.1" cy="484.0" r="1.85"/>
<circle cx="170.0" cy="489.4" r="1.85"/>
<circle cx="165.6" cy="486.1" r="1.85"/>
<circle cx="165.5" cy="485.2" r="1.85"/>
<circle cx="160.4" cy="468.1" r="1.85"/>
<circle cx="173.8" cy="495.3" r="1.85"/>
<circle cx="167.7" cy="497.4" r="1.85"/>
<circle cx="175.6" cy="476.7" r="1.85"/>
<circle cx="176.8" cy="491.0" r="1.85"/>
<circle cx="169.1" cy="495.7" r="1.85"/>
<circle cx="184.5" cy="466.6" r="1.85"/>
<circle cx="166.0" cy="485.6" r="1.85"/>
<circle cx="158.2" cy="483.2" r="1.85"/>
<circle cx="161.8" cy="489.4" r="1.85"/>
<circle cx="186.4" cy="473.9" r="1.85"/>
<circle cx="185.5" cy="466.5" r="1.85"/>
<circle cx="196.1" cy="453.4" r="1.85"/>
<circle cx="176.3" cy="495.0" r="1.85"/>
<circle cx="173.7" cy="493.6" r="1.85"/>
<circle cx="167.0" cy="498.0" r="1.85"/>
<circle cx="190.4" cy="469.9" r="1.85"/>
<circle cx="152.7" cy="461.6" r="1.85"/>
<circle cx="184.1" cy="471.3" r="1.85"/>
<circle cx="157.8" cy="486.2" r="1.85"/>
<circle cx="162.4" cy="460.1" r="1.85"/>
<circle cx="168.6" cy="490.4" r="1.85"/>
<circle cx="180.9" cy="450.1" r="1.85"/>
<circle cx="175.4" cy="488.5" r="1.85"/>
<circle cx="155.4" cy="477.6" r="1.85"/>
<circle cx="176.4" cy="487.4" r="1.85"/>
<circle cx="177.9" cy="491.2" r="1.85"/>
<circle cx="186.0" cy="477.9" r="1.85"/>
<circle cx="157.4" cy="460.3" r="1.85"/>
<circle cx="150.8" cy="472.4" r="1.85"/>
<circle cx="167.6" cy="497.7" r="1.85"/>
<circle cx="154.1" cy="437.2" r="1.85"/>
<circle cx="157.4" cy="485.2" r="1.85"/>
<circle cx="179.8" cy="482.8" r="1.85"/>
<circle cx="152.1" cy="465.2" r="1.85"/>
<circle cx="152.3" cy="471.5" r="1.85"/>
<circle cx="163.7" cy="468.1" r="1.85"/>
<circle cx="168.0" cy="492.2" r="1.85"/>
<circle cx="162.9" cy="491.4" r="1.85"/>
<circle cx="167.9" cy="493.6" r="1.85"/>
<circle cx="163.3" cy="491.8" r="1.85"/>
<circle cx="174.9" cy="487.0" r="1.85"/>
<circle cx="160.5" cy="455.8" r="1.85"/>
<circle cx="159.4" cy="465.6" r="1.85"/>
<circle cx="179.9" cy="472.0" r="1.85"/>
<circle cx="171.9" cy="493.9" r="1.85"/>
<circle cx="156.1" cy="481.9" r="1.85"/>
<circle cx="155.0" cy="468.8" r="1.85"/>
<circle cx="159.7" cy="479.4" r="1.85"/>
<circle cx="174.4" cy="487.5" r="1.85"/>
<circle cx="181.6" cy="482.9" r="1.85"/>
<circle cx="181.7" cy="470.5" r="1.85"/>
<circle cx="182.1" cy="466.4" r="1.85"/>
<circle cx="176.1" cy="488.2" r="1.85"/>
<circle cx="159.0" cy="482.5" r="1.85"/>
<circle cx="158.5" cy="478.6" r="1.85"/>
<circle cx="166.4" cy="497.6" r="1.85"/>
<circle cx="168.9" cy="493.6" r="1.85"/>
<circle cx="162.2" cy="482.6" r="1.85"/>
<circle cx="174.2" cy="484.7" r="1.85"/>
<circle cx="177.4" cy="483.3" r="1.85"/>
<circle cx="160.5" cy="488.6" r="1.85"/>
<circle cx="187.6" cy="462.3" r="1.85"/>
<circle cx="177.3" cy="457.3" r="1.85"/>
<circle cx="162.3" cy="475.9" r="1.85"/>
<circle cx="186.3" cy="479.4" r="1.85"/>
<circle cx="177.1" cy="486.4" r="1.85"/>
<circle cx="157.3" cy="481.1" r="1.85"/>
<circle cx="151.6" cy="475.9" r="1.85"/>
<circle cx="176.9" cy="492.2" r="1.85"/>
<circle cx="174.9" cy="481.9" r="1.85"/>
<circle cx="177.8" cy="480.9" r="1.85"/>
<circle cx="178.1" cy="481.9" r="1.85"/>
<circle cx="174.2" cy="491.9" r="1.85"/>
<circle cx="181.4" cy="484.5" r="1.85"/>
<circle cx="170.7" cy="491.4" r="1.85"/>
<circle cx="169.4" cy="497.4" r="1.85"/>
<circle cx="168.6" cy="498.0" r="1.85"/>
<circle cx="167.4" cy="493.7" r="1.85"/>
<circle cx="173.9" cy="488.0" r="1.85"/>
<circle cx="165.4" cy="495.1" r="1.85"/>
<circle cx="175.4" cy="481.9" r="1.85"/>
<circle cx="174.4" cy="493.8" r="1.85"/>
<circle cx="153.3" cy="476.6" r="1.85"/>
<circle cx="161.5" cy="486.2" r="1.85"/>
<circle cx="167.1" cy="496.1" r="1.85"/>
<circle cx="183.5" cy="479.7" r="1.85"/>
<circle cx="165.5" cy="495.9" r="1.85"/>
<circle cx="158.4" cy="483.1" r="1.85"/>
<circle cx="172.0" cy="489.2" r="1.85"/>
<circle cx="160.6" cy="488.0" r="1.85"/>
<circle cx="180.8" cy="477.5" r="1.85"/>
<circle cx="157.5" cy="475.3" r="1.85"/>
<circle cx="153.7" cy="447.3" r="1.85"/>
<circle cx="209.2" cy="445.2" r="1.85"/>
<circle cx="213.8" cy="452.0" r="1.85"/>
<circle cx="201.5" cy="466.2" r="1.85"/>
<circle cx="206.2" cy="466.2" r="1.85"/>
<circle cx="195.4" cy="473.0" r="1.85"/>
<circle cx="212.3" cy="471.4" r="1.85"/>
<circle cx="215.4" cy="474.5" r="1.85"/>
<circle cx="210.8" cy="476.0" r="1.85"/>
<circle cx="223.0" cy="477.5" r="1.85"/>
<circle cx="227.7" cy="469.8" r="1.85"/>
<circle cx="221.5" cy="472.9" r="1.85"/>
<circle cx="235.4" cy="472.9" r="1.85"/>
<circle cx="238.5" cy="474.5" r="1.85"/>
<circle cx="230.8" cy="479.0" r="1.85"/>
<circle cx="232.3" cy="482.2" r="1.85"/>
<circle cx="204.6" cy="479.0" r="1.85"/>
<circle cx="201.5" cy="483.7" r="1.85"/>
<circle cx="196.9" cy="488.3" r="1.85"/>
<circle cx="193.8" cy="489.8" r="1.85"/>
<circle cx="218.5" cy="488.3" r="1.85"/>
<circle cx="230.8" cy="486.8" r="1.85"/>
<circle cx="240.0" cy="488.3" r="1.85"/>
<circle cx="244.6" cy="487.7" r="1.85"/>
<circle cx="249.2" cy="486.8" r="1.85"/>
<circle cx="255.4" cy="486.8" r="1.85"/>
<circle cx="247.7" cy="480.6" r="1.85"/>
<circle cx="266.2" cy="486.8" r="1.85"/>
<circle cx="272.3" cy="486.8" r="1.85"/>
<circle cx="136.9" cy="483.7" r="1.85"/>
<circle cx="136.0" cy="456.0" r="1.85"/>
<circle cx="138.5" cy="446.8" r="1.85"/>
<circle cx="146.2" cy="454.5" r="1.85"/>
<circle cx="149.2" cy="488.3" r="1.85"/>
<circle cx="181.4" cy="436.8" r="1.85"/>
<circle cx="186.8" cy="422.8" r="1.85"/>
<circle cx="190.1" cy="428.0" r="1.85"/>
<circle cx="190.3" cy="436.0" r="1.85"/>
<circle cx="186.7" cy="429.3" r="1.85"/>
<circle cx="182.5" cy="437.5" r="1.85"/>
<circle cx="186.7" cy="436.6" r="1.85"/>
<circle cx="182.7" cy="428.7" r="1.85"/>
<circle cx="183.4" cy="430.2" r="1.85"/>
<circle cx="188.5" cy="432.9" r="1.85"/>
<circle cx="187.6" cy="437.0" r="1.85"/>
<circle cx="186.2" cy="423.4" r="1.85"/>
<circle cx="184.7" cy="423.2" r="1.85"/>
<circle cx="190.7" cy="436.4" r="1.85"/>
<circle cx="181.4" cy="428.6" r="1.85"/>
<circle cx="183.2" cy="425.5" r="1.85"/>
<circle cx="184.5" cy="433.9" r="1.85"/>
<circle cx="186.3" cy="423.3" r="1.85"/>
<circle cx="152.5" cy="437.2" r="1.85"/>
<circle cx="153.7" cy="438.1" r="1.85"/>
<circle cx="159.6" cy="434.8" r="1.85"/>
<circle cx="157.9" cy="439.8" r="1.85"/>
<circle cx="159.6" cy="431.5" r="1.85"/>
<circle cx="155.2" cy="433.6" r="1.85"/>
<circle cx="153.3" cy="439.3" r="1.85"/>
<circle cx="154.9" cy="439.5" r="1.85"/>
<circle cx="158.8" cy="380.6" r="1.85"/>
<circle cx="155.4" cy="397.2" r="1.85"/>
<circle cx="157.2" cy="405.5" r="1.85"/>
<circle cx="154.9" cy="411.8" r="1.85"/>
<circle cx="157.2" cy="412.9" r="1.85"/>
<circle cx="155.4" cy="417.5" r="1.85"/>
<circle cx="158.8" cy="418.7" r="1.85"/>
<circle cx="153.1" cy="424.0" r="1.85"/>
<circle cx="158.8" cy="426.8" r="1.85"/>
<circle cx="146.2" cy="431.4" r="1.85"/>
<circle cx="148.5" cy="429.5" r="1.85"/>
<circle cx="160.0" cy="431.4" r="1.85"/>
<circle cx="164.6" cy="436.5" r="1.85"/>
<circle cx="157.7" cy="438.3" r="1.85"/>
<circle cx="146.2" cy="444.0" r="1.85"/>
<circle cx="147.3" cy="446.4" r="1.85"/>
<circle cx="192.3" cy="388.7" r="1.85"/>
<circle cx="195.3" cy="387.0" r="1.85"/>
<circle cx="205.0" cy="394.5" r="1.85"/>
<circle cx="202.7" cy="398.6" r="1.85"/>
<circle cx="176.2" cy="402.5" r="1.85"/>
<circle cx="183.5" cy="405.5" r="1.85"/>
<circle cx="188.8" cy="404.2" r="1.85"/>
<circle cx="192.3" cy="405.5" r="1.85"/>
<circle cx="191.2" cy="411.8" r="1.85"/>
<circle cx="180.8" cy="414.8" r="1.85"/>
<circle cx="199.2" cy="415.2" r="1.85"/>
<circle cx="191.2" cy="417.5" r="1.85"/>
<circle cx="194.6" cy="418.0" r="1.85"/>
<circle cx="218.8" cy="417.5" r="1.85"/>
<circle cx="177.3" cy="424.5" r="1.85"/>
<circle cx="184.2" cy="423.3" r="1.85"/>
<circle cx="180.8" cy="426.8" r="1.85"/>
<circle cx="193.5" cy="428.0" r="1.85"/>
<circle cx="199.2" cy="425.6" r="1.85"/>
<circle cx="176.2" cy="431.4" r="1.85"/>
<circle cx="192.3" cy="433.7" r="1.85"/>
<circle cx="199.2" cy="436.5" r="1.85"/>
<circle cx="195.8" cy="443.0" r="1.85"/>
<circle cx="208.5" cy="445.2" r="1.85"/>
<circle cx="213.1" cy="452.2" r="1.85"/>
<circle cx="200.4" cy="445.2" r="1.85"/>
<circle cx="205.0" cy="449.4" r="1.85"/>
</g>
<line x1="65.7" y1="468.7" x2="273.8" y2="468.7" stroke="#111" stroke-width="1.1"/>
<line x1="170.2" y1="381" x2="170.2" y2="499.5" stroke="#111" stroke-width="1.1"/>
<line x1="154.3" y1="381" x2="154.3" y2="499.5" stroke="#222" stroke-width="0.9" stroke-dasharray="1,1"/>
<line x1="182.2" y1="381" x2="182.2" y2="499.5" stroke="#222" stroke-width="0.9" stroke-dasharray="1,1"/>
<path d="M65.7,378.8 L65.7,499.5 L273.8,499.5" fill="none" stroke="#111" stroke-width="1.1"/>
<line x1="62.5" y1="499.50" x2="65.7" y2="499.50" stroke="#111" stroke-width="1"/>
<line x1="64" y1="492.37" x2="65.7" y2="492.37" stroke="#111" stroke-width="0.6"/>
<line x1="64" y1="488.19" x2="65.7" y2="488.19" stroke="#111" stroke-width="0.6"/>
<line x1="64" y1="485.23" x2="65.7" y2="485.23" stroke="#111" stroke-width="0.6"/>
<line x1="64" y1="482.93" x2="65.7" y2="482.93" stroke="#111" stroke-width="0.6"/>
<line x1="64" y1="481.06" x2="65.7" y2="481.06" stroke="#111" stroke-width="0.6"/>
<line x1="64" y1="479.47" x2="65.7" y2="479.47" stroke="#111" stroke-width="0.6"/>
<line x1="64" y1="478.10" x2="65.7" y2="478.10" stroke="#111" stroke-width="0.6"/>
<line x1="64" y1="476.88" x2="65.7" y2="476.88" stroke="#111" stroke-width="0.6"/>
<line x1="62.5" y1="475.80" x2="65.7" y2="475.80" stroke="#111" stroke-width="1"/>
<line x1="64" y1="468.67" x2="65.7" y2="468.67" stroke="#111" stroke-width="0.6"/>
<line x1="64" y1="464.49" x2="65.7" y2="464.49" stroke="#111" stroke-width="0.6"/>
<line x1="64" y1="461.53" x2="65.7" y2="461.53" stroke="#111" stroke-width="0.6"/>
<line x1="64" y1="459.23" x2="65.7" y2="459.23" stroke="#111" stroke-width="0.6"/>
<line x1="64" y1="457.36" x2="65.7" y2="457.36" stroke="#111" stroke-width="0.6"/>
<line x1="64" y1="455.77" x2="65.7" y2="455.77" stroke="#111" stroke-width="0.6"/>
<line x1="64" y1="454.40" x2="65.7" y2="454.40" stroke="#111" stroke-width="0.6"/>
<line x1="64" y1="453.18" x2="65.7" y2="453.18" stroke="#111" stroke-width="0.6"/>
<line x1="62.5" y1="452.10" x2="65.7" y2="452.10" stroke="#111" stroke-width="1"/>
<line x1="64" y1="444.97" x2="65.7" y2="444.97" stroke="#111" stroke-width="0.6"/>
<line x1="64" y1="440.79" x2="65.7" y2="440.79" stroke="#111" stroke-width="0.6"/>
<line x1="64" y1="437.83" x2="65.7" y2="437.83" stroke="#111" stroke-width="0.6"/>
<line x1="64" y1="435.53" x2="65.7" y2="435.53" stroke="#111" stroke-width="0.6"/>
<line x1="64" y1="433.66" x2="65.7" y2="433.66" stroke="#111" stroke-width="0.6"/>
<line x1="64" y1="432.07" x2="65.7" y2="432.07" stroke="#111" stroke-width="0.6"/>
<line x1="64" y1="430.70" x2="65.7" y2="430.70" stroke="#111" stroke-width="0.6"/>
<line x1="64" y1="429.48" x2="65.7" y2="429.48" stroke="#111" stroke-width="0.6"/>
<line x1="62.5" y1="428.40" x2="65.7" y2="428.40" stroke="#111" stroke-width="1"/>
<line x1="64" y1="421.27" x2="65.7" y2="421.27" stroke="#111" stroke-width="0.6"/>
<line x1="64" y1="417.09" x2="65.7" y2="417.09" stroke="#111" stroke-width="0.6"/>
<line x1="64" y1="414.13" x2="65.7" y2="414.13" stroke="#111" stroke-width="0.6"/>
<line x1="64" y1="411.83" x2="65.7" y2="411.83" stroke="#111" stroke-width="0.6"/>
<line x1="64" y1="409.96" x2="65.7" y2="409.96" stroke="#111" stroke-width="0.6"/>
<line x1="64" y1="408.37" x2="65.7" y2="408.37" stroke="#111" stroke-width="0.6"/>
<line x1="64" y1="407.00" x2="65.7" y2="407.00" stroke="#111" stroke-width="0.6"/>
<line x1="64" y1="405.78" x2="65.7" y2="405.78" stroke="#111" stroke-width="0.6"/>
<line x1="62.5" y1="404.70" x2="65.7" y2="404.70" stroke="#111" stroke-width="1"/>
<line x1="64" y1="397.57" x2="65.7" y2="397.57" stroke="#111" stroke-width="0.6"/>
<line x1="64" y1="393.39" x2="65.7" y2="393.39" stroke="#111" stroke-width="0.6"/>
<line x1="64" y1="390.43" x2="65.7" y2="390.43" stroke="#111" stroke-width="0.6"/>
<line x1="64" y1="388.13" x2="65.7" y2="388.13" stroke="#111" stroke-width="0.6"/>
<line x1="64" y1="386.26" x2="65.7" y2="386.26" stroke="#111" stroke-width="0.6"/>
<line x1="64" y1="384.67" x2="65.7" y2="384.67" stroke="#111" stroke-width="0.6"/>
<line x1="64" y1="383.30" x2="65.7" y2="383.30" stroke="#111" stroke-width="0.6"/>
<line x1="64" y1="382.08" x2="65.7" y2="382.08" stroke="#111" stroke-width="0.6"/>
<line x1="62.5" y1="381.00" x2="65.7" y2="381.00" stroke="#111" stroke-width="1"/>
<text x="58.60" y="502.40" font-size="8.90" text-anchor="end" fill="#231f20" textLength="11.00" lengthAdjust="spacingAndGlyphs">1.0</text>
<text x="58.60" y="478.70" font-size="8.90" text-anchor="end" fill="#231f20" textLength="10.50" lengthAdjust="spacingAndGlyphs">0.1</text>
<text x="58.60" y="455.00" font-size="8.90" text-anchor="end" fill="#231f20" textLength="15.00" lengthAdjust="spacingAndGlyphs">0.01</text>
<text x="58.60" y="431.30" font-size="8.90" text-anchor="end" fill="#231f20" textLength="20.50" lengthAdjust="spacingAndGlyphs">0.001</text>
<text x="35.1" y="407.60" font-size="8" fill="#231f20" textLength="17.8" lengthAdjust="spacingAndGlyphs">1x10</text>
<text x="53" y="403.90" font-size="5" fill="#231f20" textLength="5.7" lengthAdjust="spacingAndGlyphs">-4</text>
<text x="35.1" y="383.90" font-size="8" fill="#231f20" textLength="17.8" lengthAdjust="spacingAndGlyphs">1x10</text>
<text x="53" y="380.20" font-size="5" fill="#231f20" textLength="5.7" lengthAdjust="spacingAndGlyphs">-5</text>
<line x1="76.00" y1="499.5" x2="76.00" y2="502.8" stroke="#111" stroke-width="1"/>
<text x="76.00" y="513.60" font-size="9.35" text-anchor="middle" fill="#231f20" textLength="20.70" lengthAdjust="spacingAndGlyphs">0.125</text>
<line x1="107.40" y1="499.5" x2="107.40" y2="502.8" stroke="#111" stroke-width="1"/>
<text x="107.40" y="513.60" font-size="9.35" text-anchor="middle" fill="#231f20" textLength="15.60" lengthAdjust="spacingAndGlyphs">0.25</text>
<line x1="138.80" y1="499.5" x2="138.80" y2="502.8" stroke="#111" stroke-width="1"/>
<text x="138.80" y="513.60" font-size="9.35" text-anchor="middle" fill="#231f20" textLength="12.70" lengthAdjust="spacingAndGlyphs">0.5</text>
<line x1="170.20" y1="499.5" x2="170.20" y2="502.8" stroke="#111" stroke-width="1"/>
<text x="170.20" y="513.60" font-size="9.35" text-anchor="middle" fill="#231f20">1</text>
<line x1="201.60" y1="499.5" x2="201.60" y2="502.8" stroke="#111" stroke-width="1"/>
<text x="201.60" y="513.60" font-size="9.35" text-anchor="middle" fill="#231f20">2</text>
<line x1="233.00" y1="499.5" x2="233.00" y2="502.8" stroke="#111" stroke-width="1"/>
<text x="233.00" y="513.60" font-size="9.35" text-anchor="middle" fill="#231f20">4</text>
<line x1="264.40" y1="499.5" x2="264.40" y2="502.8" stroke="#111" stroke-width="1"/>
<text x="264.40" y="513.60" font-size="9.35" text-anchor="middle" fill="#231f20">8</text>
<text transform="translate(29.6,438.9) rotate(-90)" font-size="9.8" text-anchor="middle" fill="#231f20" textLength="26.7" lengthAdjust="spacingAndGlyphs">P value</text>
<text x="117.5" y="527.7" font-size="9.6" fill="#231f20" textLength="106.9" lengthAdjust="spacingAndGlyphs">Log<tspan font-size="6.4" dy="2.2">2</tspan><tspan dy="-2.2"> fold change (Δ</tspan><tspan font-style="italic">HECT/WT</tspan>)</text>
<text x="140.60" y="380.00" font-size="7.84" text-anchor="middle" fill="#231f20" textLength="19.00" lengthAdjust="spacingAndGlyphs">x=0.7</text>
<text x="194.80" y="380.00" font-size="7.84" text-anchor="middle" fill="#231f20" textLength="19.00" lengthAdjust="spacingAndGlyphs">x=1.3</text>
<text x="277.00" y="471.40" font-size="8.45" fill="#231f20" textLength="26.00" lengthAdjust="spacingAndGlyphs">P=0.05</text>
<circle cx="229.2" cy="380.4" r="1.9" fill="#e38a1e"/>
<text x="233.80" y="383.20" font-size="8.45" fill="#231f20" textLength="53.20" lengthAdjust="spacingAndGlyphs">B-Cell Proteins</text>
<circle cx="89.2" cy="419.8" r="1.9" fill="#e38a1e"/>
<text x="93.80" y="422.60" font-size="8.45" fill="#231f20" textLength="20.00" lengthAdjust="spacingAndGlyphs">IGHD</text>
<text x="127.00" y="429.30" font-size="8.45" fill="#231f20" textLength="19.80" lengthAdjust="spacingAndGlyphs">CD37</text>
<text x="118.50" y="441.60" font-size="8.45" fill="#231f20" textLength="20.90" lengthAdjust="spacingAndGlyphs">CD22</text>
<circle cx="143" cy="438.5" r="1.9" fill="#e38a1e"/>
<circle cx="149.8" cy="437.9" r="1.9" fill="#e38a1e"/>
<circle cx="217.8" cy="431.2" r="1.9" fill="#5aa8e0"/>
<text x="223.00" y="434.00" font-size="8.45" fill="#231f20" textLength="20.00" lengthAdjust="spacingAndGlyphs">UBR5</text>
<text x="316.50" y="366.00" font-size="13.57" font-weight="bold" fill="#000">F</text>
<defs><linearGradient id="cb" x1="0" x2="1"><stop offset="0" stop-color="#262680"/><stop offset="0.2" stop-color="#2b2b78"/><stop offset="0.45" stop-color="#4c4c50"/><stop offset="0.6" stop-color="#8c8a42"/><stop offset="0.8" stop-color="#d6d038"/><stop offset="1" stop-color="#efe630"/></linearGradient></defs>
<rect x="326.8" y="372.8" width="144.9" height="9.8" fill="url(#cb)"/>
<text x="326.80" y="391.70" font-size="8.45" fill="#231f20" textLength="14.10" lengthAdjust="spacingAndGlyphs">min</text>
<text x="390.20" y="392.30" font-size="8.75" fill="#231f20" textLength="19.00" lengthAdjust="spacingAndGlyphs">Log2</text>
<text x="456.30" y="394.50" font-size="8.45" fill="#231f20" textLength="15.40" lengthAdjust="spacingAndGlyphs">max</text>
<text x="339.00" y="406.20" font-size="8.90" font-style="italic" fill="#231f20" textLength="13.30" lengthAdjust="spacingAndGlyphs">WT</text>
<text x="364.60" y="406.20" font-size="8.90" font-style="italic" fill="#231f20" textLength="28.30" lengthAdjust="spacingAndGlyphs">ΔHECT</text>
<g shape-rendering="crispEdges">
<rect x="328.3" y="410.10" width="11.20" height="2.98" fill="#2c2d7b"/>
<rect x="339.5" y="410.10" width="11.10" height="2.98" fill="#2c2d7b"/>
<rect x="350.6" y="410.10" width="11.20" height="2.98" fill="#2c2d7b"/>
<rect x="361.8" y="410.10" width="11.20" height="2.98" fill="#efe52f"/>
<rect x="373.0" y="410.10" width="11.30" height="2.98" fill="#efe52f"/>
<rect x="384.3" y="410.10" width="11.10" height="2.98" fill="#e1d835"/>
<rect x="328.3" y="413.03" width="11.20" height="2.98" fill="#2c2d7b"/>
<rect x="339.5" y="413.03" width="11.10" height="2.98" fill="#2c2d7b"/>
<rect x="350.6" y="413.03" width="11.20" height="2.98" fill="#2c2d7b"/>
<rect x="361.8" y="413.03" width="11.20" height="2.98" fill="#e1d835"/>
<rect x="373.0" y="413.03" width="11.30" height="2.98" fill="#efe52f"/>
<rect x="384.3" y="413.03" width="11.10" height="2.98" fill="#efe52f"/>
<rect x="328.3" y="415.97" width="11.20" height="2.98" fill="#2c2d7b"/>
<rect x="339.5" y="415.97" width="11.10" height="2.98" fill="#2c2d7b"/>
<rect x="350.6" y="415.97" width="11.20" height="2.98" fill="#2c2d7b"/>
<rect x="361.8" y="415.97" width="11.20" height="2.98" fill="#e1d835"/>
<rect x="373.0" y="415.97" width="11.30" height="2.98" fill="#efe52f"/>
<rect x="384.3" y="415.97" width="11.10" height="2.98" fill="#bcb741"/>
<rect x="328.3" y="418.90" width="11.20" height="2.98" fill="#2c2d7b"/>
<rect x="339.5" y="418.90" width="11.10" height="2.98" fill="#2c2d7b"/>
<rect x="350.6" y="418.90" width="11.20" height="2.98" fill="#2c2d7b"/>
<rect x="361.8" y="418.90" width="11.20" height="2.98" fill="#efe52f"/>
<rect x="373.0" y="418.90" width="11.30" height="2.98" fill="#efe52f"/>
<rect x="384.3" y="418.90" width="11.10" height="2.98" fill="#bcb741"/>
<rect x="328.3" y="421.83" width="11.20" height="2.98" fill="#2c2d7b"/>
<rect x="339.5" y="421.83" width="11.10" height="2.98" fill="#2c2d7b"/>
<rect x="350.6" y="421.83" width="11.20" height="2.98" fill="#2c2d7b"/>
<rect x="361.8" y="421.83" width="11.20" height="2.98" fill="#82814c"/>
<rect x="373.0" y="421.83" width="11.30" height="2.98" fill="#efe52f"/>
<rect x="384.3" y="421.83" width="11.10" height="2.98" fill="#dad238"/>
<rect x="328.3" y="424.77" width="11.20" height="2.98" fill="#2c2d7b"/>
<rect x="339.5" y="424.77" width="11.10" height="2.98" fill="#2c2d7b"/>
<rect x="350.6" y="424.77" width="11.20" height="2.98" fill="#323378"/>
<rect x="361.8" y="424.77" width="11.20" height="2.98" fill="#efe52f"/>
<rect x="373.0" y="424.77" width="11.30" height="2.98" fill="#efe52f"/>
<rect x="384.3" y="424.77" width="11.10" height="2.98" fill="#efe52f"/>
<rect x="328.3" y="427.70" width="11.20" height="2.98" fill="#2c2d7b"/>
<rect x="339.5" y="427.70" width="11.10" height="2.98" fill="#2c2d7b"/>
<rect x="350.6" y="427.70" width="11.20" height="2.98" fill="#323378"/>
<rect x="361.8" y="427.70" width="11.20" height="2.98" fill="#82814c"/>
<rect x="373.0" y="427.70" width="11.30" height="2.98" fill="#efe52f"/>
<rect x="384.3" y="427.70" width="11.10" height="2.98" fill="#efe52f"/>
<rect x="328.3" y="430.64" width="11.20" height="2.98" fill="#2c2d7b"/>
<rect x="339.5" y="430.64" width="11.10" height="2.98" fill="#2c2d7b"/>
<rect x="350.6" y="430.64" width="11.20" height="2.98" fill="#323378"/>
<rect x="361.8" y="430.64" width="11.20" height="2.98" fill="#8e8c4a"/>
<rect x="373.0" y="430.64" width="11.30" height="2.98" fill="#efe52f"/>
<rect x="384.3" y="430.64" width="11.10" height="2.98" fill="#e1d835"/>
<rect x="328.3" y="433.57" width="11.20" height="2.98" fill="#2c2d7b"/>
<rect x="339.5" y="433.57" width="11.10" height="2.98" fill="#2c2d7b"/>
<rect x="350.6" y="433.57" width="11.20" height="2.98" fill="#2c2d7b"/>
<rect x="361.8" y="433.57" width="11.20" height="2.98" fill="#efe52f"/>
<rect x="373.0" y="433.57" width="11.30" height="2.98" fill="#efe52f"/>
<rect x="384.3" y="433.57" width="11.10" height="2.98" fill="#efe52f"/>
<rect x="328.3" y="436.50" width="11.20" height="2.98" fill="#323378"/>
<rect x="339.5" y="436.50" width="11.10" height="2.98" fill="#3f4072"/>
<rect x="350.6" y="436.50" width="11.20" height="2.98" fill="#2c2d7b"/>
<rect x="361.8" y="436.50" width="11.20" height="2.98" fill="#d4cd3a"/>
<rect x="373.0" y="436.50" width="11.30" height="2.98" fill="#efe52f"/>
<rect x="384.3" y="436.50" width="11.10" height="2.98" fill="#efe52f"/>
<rect x="328.3" y="439.44" width="11.20" height="2.98" fill="#565763"/>
<rect x="339.5" y="439.44" width="11.10" height="2.98" fill="#61615a"/>
<rect x="350.6" y="439.44" width="11.20" height="2.98" fill="#2c2d7b"/>
<rect x="361.8" y="439.44" width="11.20" height="2.98" fill="#ddd536"/>
<rect x="373.0" y="439.44" width="11.30" height="2.98" fill="#efe52f"/>
<rect x="384.3" y="439.44" width="11.10" height="2.98" fill="#efe52f"/>
<rect x="328.3" y="442.37" width="11.20" height="2.98" fill="#2c2d7b"/>
<rect x="339.5" y="442.37" width="11.10" height="2.98" fill="#2c2d7b"/>
<rect x="350.6" y="442.37" width="11.20" height="2.98" fill="#2c2d7b"/>
<rect x="361.8" y="442.37" width="11.20" height="2.98" fill="#efe52f"/>
<rect x="373.0" y="442.37" width="11.30" height="2.98" fill="#ddd536"/>
<rect x="384.3" y="442.37" width="11.10" height="2.98" fill="#efe52f"/>
<rect x="328.3" y="445.30" width="11.20" height="2.98" fill="#2c2d7b"/>
<rect x="339.5" y="445.30" width="11.10" height="2.98" fill="#8e8c4a"/>
<rect x="350.6" y="445.30" width="11.20" height="2.98" fill="#2c2d7b"/>
<rect x="361.8" y="445.30" width="11.20" height="2.98" fill="#efe52f"/>
<rect x="373.0" y="445.30" width="11.30" height="2.98" fill="#ddd536"/>
<rect x="384.3" y="445.30" width="11.10" height="2.98" fill="#efe52f"/>
<rect x="328.3" y="448.24" width="11.20" height="2.98" fill="#2c2d7b"/>
<rect x="339.5" y="448.24" width="11.10" height="2.98" fill="#2c2d7b"/>
<rect x="350.6" y="448.24" width="11.20" height="2.98" fill="#61615a"/>
<rect x="361.8" y="448.24" width="11.20" height="2.98" fill="#ddd536"/>
<rect x="373.0" y="448.24" width="11.30" height="2.98" fill="#efe52f"/>
<rect x="384.3" y="448.24" width="11.10" height="2.98" fill="#b3ae42"/>
<rect x="328.3" y="451.17" width="11.20" height="2.98" fill="#2c2d7b"/>
<rect x="339.5" y="451.17" width="11.10" height="2.98" fill="#2c2d7b"/>
<rect x="350.6" y="451.17" width="11.20" height="2.98" fill="#77764f"/>
<rect x="361.8" y="451.17" width="11.20" height="2.98" fill="#d4cd3a"/>
<rect x="373.0" y="451.17" width="11.30" height="2.98" fill="#efe52f"/>
<rect x="384.3" y="451.17" width="11.10" height="2.98" fill="#d4cd3a"/>
<rect x="328.3" y="454.10" width="11.20" height="2.98" fill="#2c2d7b"/>
<rect x="339.5" y="454.10" width="11.10" height="2.98" fill="#9d9a47"/>
<rect x="350.6" y="454.10" width="11.20" height="2.98" fill="#2c2d7b"/>
<rect x="361.8" y="454.10" width="11.20" height="2.98" fill="#efe52f"/>
<rect x="373.0" y="454.10" width="11.30" height="2.98" fill="#efe52f"/>
<rect x="384.3" y="454.10" width="11.10" height="2.98" fill="#efe52f"/>
<rect x="328.3" y="457.04" width="11.20" height="2.98" fill="#6c6b52"/>
<rect x="339.5" y="457.04" width="11.10" height="2.98" fill="#61615a"/>
<rect x="350.6" y="457.04" width="11.20" height="2.98" fill="#6c6b52"/>
<rect x="361.8" y="457.04" width="11.20" height="2.98" fill="#bcb741"/>
<rect x="373.0" y="457.04" width="11.30" height="2.98" fill="#efe52f"/>
<rect x="384.3" y="457.04" width="11.10" height="2.98" fill="#efe52f"/>
<rect x="328.3" y="459.97" width="11.20" height="2.98" fill="#2c2d7b"/>
<rect x="339.5" y="459.97" width="11.10" height="2.98" fill="#4c4d6c"/>
<rect x="350.6" y="459.97" width="11.20" height="2.98" fill="#323378"/>
<rect x="361.8" y="459.97" width="11.20" height="2.98" fill="#bcb741"/>
<rect x="373.0" y="459.97" width="11.30" height="2.98" fill="#efe52f"/>
<rect x="384.3" y="459.97" width="11.10" height="2.98" fill="#efe52f"/>
<rect x="328.3" y="462.91" width="11.20" height="2.98" fill="#89874b"/>
<rect x="339.5" y="462.91" width="11.10" height="2.98" fill="#82814c"/>
<rect x="350.6" y="462.91" width="11.20" height="2.98" fill="#2c2d7b"/>
<rect x="361.8" y="462.91" width="11.20" height="2.98" fill="#bcb741"/>
<rect x="373.0" y="462.91" width="11.30" height="2.98" fill="#efe52f"/>
<rect x="384.3" y="462.91" width="11.10" height="2.98" fill="#efe52f"/>
<rect x="328.3" y="465.84" width="11.20" height="2.98" fill="#2c2d7b"/>
<rect x="339.5" y="465.84" width="11.10" height="2.98" fill="#2c2d7b"/>
<rect x="350.6" y="465.84" width="11.20" height="2.98" fill="#aca844"/>
<rect x="361.8" y="465.84" width="11.20" height="2.98" fill="#efe52f"/>
<rect x="373.0" y="465.84" width="11.30" height="2.98" fill="#efe52f"/>
<rect x="384.3" y="465.84" width="11.10" height="2.98" fill="#949148"/>
<rect x="328.3" y="468.77" width="11.20" height="2.98" fill="#4c4d6c"/>
<rect x="339.5" y="468.77" width="11.10" height="2.98" fill="#4c4d6c"/>
<rect x="350.6" y="468.77" width="11.20" height="2.98" fill="#2c2d7b"/>
<rect x="361.8" y="468.77" width="11.20" height="2.98" fill="#efe52f"/>
<rect x="373.0" y="468.77" width="11.30" height="2.98" fill="#efe52f"/>
<rect x="384.3" y="468.77" width="11.10" height="2.98" fill="#949148"/>
<rect x="328.3" y="471.71" width="11.20" height="2.98" fill="#2c2d7b"/>
<rect x="339.5" y="471.71" width="11.10" height="2.98" fill="#323378"/>
<rect x="350.6" y="471.71" width="11.20" height="2.98" fill="#45466f"/>
<rect x="361.8" y="471.71" width="11.20" height="2.98" fill="#ddd536"/>
<rect x="373.0" y="471.71" width="11.30" height="2.98" fill="#efe52f"/>
<rect x="384.3" y="471.71" width="11.10" height="2.98" fill="#ddd536"/>
<rect x="328.3" y="474.64" width="11.20" height="2.98" fill="#4c4d6c"/>
<rect x="339.5" y="474.64" width="11.10" height="2.98" fill="#2c2d7b"/>
<rect x="350.6" y="474.64" width="11.20" height="2.98" fill="#3f4072"/>
<rect x="361.8" y="474.64" width="11.20" height="2.98" fill="#efe52f"/>
<rect x="373.0" y="474.64" width="11.30" height="2.98" fill="#ddd536"/>
<rect x="384.3" y="474.64" width="11.10" height="2.98" fill="#d4cd3a"/>
<rect x="328.3" y="477.57" width="11.20" height="2.98" fill="#393a75"/>
<rect x="339.5" y="477.57" width="11.10" height="2.98" fill="#77764f"/>
<rect x="350.6" y="477.57" width="11.20" height="2.98" fill="#2c2d7b"/>
<rect x="361.8" y="477.57" width="11.20" height="2.98" fill="#efe52f"/>
<rect x="373.0" y="477.57" width="11.30" height="2.98" fill="#ddd536"/>
<rect x="384.3" y="477.57" width="11.10" height="2.98" fill="#d4cd3a"/>
<rect x="328.3" y="480.51" width="11.20" height="2.98" fill="#2c2d7b"/>
<rect x="339.5" y="480.51" width="11.10" height="2.98" fill="#2c2d7b"/>
<rect x="350.6" y="480.51" width="11.20" height="2.98" fill="#4c4d6c"/>
<rect x="361.8" y="480.51" width="11.20" height="2.98" fill="#aca844"/>
<rect x="373.0" y="480.51" width="11.30" height="2.98" fill="#efe52f"/>
<rect x="384.3" y="480.51" width="11.10" height="2.98" fill="#d4cd3a"/>
<rect x="328.3" y="483.44" width="11.20" height="2.98" fill="#2c2d7b"/>
<rect x="339.5" y="483.44" width="11.10" height="2.98" fill="#2c2d7b"/>
<rect x="350.6" y="483.44" width="11.20" height="2.98" fill="#4c4d6c"/>
<rect x="361.8" y="483.44" width="11.20" height="2.98" fill="#8e8c4a"/>
<rect x="373.0" y="483.44" width="11.30" height="2.98" fill="#efe52f"/>
<rect x="384.3" y="483.44" width="11.10" height="2.98" fill="#ddd536"/>
<rect x="328.3" y="486.38" width="11.20" height="2.98" fill="#565763"/>
<rect x="339.5" y="486.38" width="11.10" height="2.98" fill="#565763"/>
<rect x="350.6" y="486.38" width="11.20" height="2.98" fill="#565763"/>
<rect x="361.8" y="486.38" width="11.20" height="2.98" fill="#efe52f"/>
<rect x="373.0" y="486.38" width="11.30" height="2.98" fill="#bcb741"/>
<rect x="384.3" y="486.38" width="11.10" height="2.98" fill="#efe52f"/>
<rect x="328.3" y="489.31" width="11.20" height="2.98" fill="#2c2d7b"/>
<rect x="339.5" y="489.31" width="11.10" height="2.98" fill="#3f4072"/>
<rect x="350.6" y="489.31" width="11.20" height="2.98" fill="#8e8c4a"/>
<rect x="361.8" y="489.31" width="11.20" height="2.98" fill="#9d9a47"/>
<rect x="373.0" y="489.31" width="11.30" height="2.98" fill="#efe52f"/>
<rect x="384.3" y="489.31" width="11.10" height="2.98" fill="#efe52f"/>
<rect x="328.3" y="492.24" width="11.20" height="2.98" fill="#393a75"/>
<rect x="339.5" y="492.24" width="11.10" height="2.98" fill="#4c4d6c"/>
<rect x="350.6" y="492.24" width="11.20" height="2.98" fill="#323378"/>
<rect x="361.8" y="492.24" width="11.20" height="2.98" fill="#efe52f"/>
<rect x="373.0" y="492.24" width="11.30" height="2.98" fill="#efe52f"/>
<rect x="384.3" y="492.24" width="11.10" height="2.98" fill="#efe52f"/>
<rect x="328.3" y="495.18" width="11.20" height="2.98" fill="#45466f"/>
<rect x="339.5" y="495.18" width="11.10" height="2.98" fill="#4c4d6c"/>
<rect x="350.6" y="495.18" width="11.20" height="2.98" fill="#8e8c4a"/>
<rect x="361.8" y="495.18" width="11.20" height="2.98" fill="#efe52f"/>
<rect x="373.0" y="495.18" width="11.30" height="2.98" fill="#d4cd3a"/>
<rect x="384.3" y="495.18" width="11.10" height="2.98" fill="#9d9a47"/>
<rect x="328.3" y="498.11" width="11.20" height="2.98" fill="#2c2d7b"/>
<rect x="339.5" y="498.11" width="11.10" height="2.98" fill="#2c2d7b"/>
<rect x="350.6" y="498.11" width="11.20" height="2.98" fill="#3f4072"/>
<rect x="361.8" y="498.11" width="11.20" height="2.98" fill="#ddd536"/>
<rect x="373.0" y="498.11" width="11.30" height="2.98" fill="#efe52f"/>
<rect x="384.3" y="498.11" width="11.10" height="2.98" fill="#efe52f"/>
<rect x="328.3" y="501.04" width="11.20" height="2.98" fill="#4c4d6c"/>
<rect x="339.5" y="501.04" width="11.10" height="2.98" fill="#4c4d6c"/>
<rect x="350.6" y="501.04" width="11.20" height="2.98" fill="#6c6b52"/>
<rect x="361.8" y="501.04" width="11.20" height="2.98" fill="#ddd536"/>
<rect x="373.0" y="501.04" width="11.30" height="2.98" fill="#e6dd32"/>
<rect x="384.3" y="501.04" width="11.10" height="2.98" fill="#ddd536"/>
<rect x="328.3" y="503.98" width="11.20" height="2.98" fill="#4c4d6c"/>
<rect x="339.5" y="503.98" width="11.10" height="2.98" fill="#393a75"/>
<rect x="350.6" y="503.98" width="11.20" height="2.98" fill="#2c2d7b"/>
<rect x="361.8" y="503.98" width="11.20" height="2.98" fill="#d4cd3a"/>
<rect x="373.0" y="503.98" width="11.30" height="2.98" fill="#e6dd32"/>
<rect x="384.3" y="503.98" width="11.10" height="2.98" fill="#ddd536"/>
<rect x="328.3" y="506.91" width="11.20" height="2.98" fill="#4c4d6c"/>
<rect x="339.5" y="506.91" width="11.10" height="2.98" fill="#323378"/>
<rect x="350.6" y="506.91" width="11.20" height="2.98" fill="#61615a"/>
<rect x="361.8" y="506.91" width="11.20" height="2.98" fill="#ddd536"/>
<rect x="373.0" y="506.91" width="11.30" height="2.98" fill="#efe52f"/>
<rect x="384.3" y="506.91" width="11.10" height="2.98" fill="#efe52f"/>
<rect x="328.3" y="509.84" width="11.20" height="2.98" fill="#61615a"/>
<rect x="339.5" y="509.84" width="11.10" height="2.98" fill="#61615a"/>
<rect x="350.6" y="509.84" width="11.20" height="2.98" fill="#4c4d6c"/>
<rect x="361.8" y="509.84" width="11.20" height="2.98" fill="#ccc63e"/>
<rect x="373.0" y="509.84" width="11.30" height="2.98" fill="#efe52f"/>
<rect x="384.3" y="509.84" width="11.10" height="2.98" fill="#e1d835"/>
<rect x="328.3" y="512.78" width="11.20" height="2.98" fill="#4c4d6c"/>
<rect x="339.5" y="512.78" width="11.10" height="2.98" fill="#61615a"/>
<rect x="350.6" y="512.78" width="11.20" height="2.98" fill="#4c4d6c"/>
<rect x="361.8" y="512.78" width="11.20" height="2.98" fill="#efe52f"/>
<rect x="373.0" y="512.78" width="11.30" height="2.98" fill="#bcb741"/>
<rect x="384.3" y="512.78" width="11.10" height="2.98" fill="#efe52f"/>
<rect x="328.3" y="515.71" width="11.20" height="2.98" fill="#565763"/>
<rect x="339.5" y="515.71" width="11.10" height="2.98" fill="#2c2d7b"/>
<rect x="350.6" y="515.71" width="11.20" height="2.98" fill="#6c6b52"/>
<rect x="361.8" y="515.71" width="11.20" height="2.98" fill="#efe52f"/>
<rect x="373.0" y="515.71" width="11.30" height="2.98" fill="#8e8c4a"/>
<rect x="384.3" y="515.71" width="11.10" height="2.98" fill="#efe52f"/>
<rect x="328.3" y="518.65" width="11.20" height="2.98" fill="#45466f"/>
<rect x="339.5" y="518.65" width="11.10" height="2.98" fill="#6c6b52"/>
<rect x="350.6" y="518.65" width="11.20" height="2.98" fill="#61615a"/>
<rect x="361.8" y="518.65" width="11.20" height="2.98" fill="#d4cd3a"/>
<rect x="373.0" y="518.65" width="11.30" height="2.98" fill="#efe52f"/>
<rect x="384.3" y="518.65" width="11.10" height="2.98" fill="#949148"/>
<rect x="328.3" y="521.58" width="11.20" height="2.98" fill="#2c2d7b"/>
<rect x="339.5" y="521.58" width="11.10" height="2.98" fill="#6c6b52"/>
<rect x="350.6" y="521.58" width="11.20" height="2.98" fill="#45466f"/>
<rect x="361.8" y="521.58" width="11.20" height="2.98" fill="#efe52f"/>
<rect x="373.0" y="521.58" width="11.30" height="2.98" fill="#d4cd3a"/>
<rect x="384.3" y="521.58" width="11.10" height="2.98" fill="#efe52f"/>
<rect x="328.3" y="524.51" width="11.20" height="2.98" fill="#45466f"/>
<rect x="339.5" y="524.51" width="11.10" height="2.98" fill="#4c4d6c"/>
<rect x="350.6" y="524.51" width="11.20" height="2.98" fill="#3f4072"/>
<rect x="361.8" y="524.51" width="11.20" height="2.98" fill="#82814c"/>
<rect x="373.0" y="524.51" width="11.30" height="2.98" fill="#efe52f"/>
<rect x="384.3" y="524.51" width="11.10" height="2.98" fill="#e6dd32"/>
<rect x="328.3" y="527.45" width="11.20" height="2.98" fill="#45466f"/>
<rect x="339.5" y="527.45" width="11.10" height="2.98" fill="#8e8c4a"/>
<rect x="350.6" y="527.45" width="11.20" height="2.98" fill="#323378"/>
<rect x="361.8" y="527.45" width="11.20" height="2.98" fill="#ccc63e"/>
<rect x="373.0" y="527.45" width="11.30" height="2.98" fill="#efe52f"/>
<rect x="384.3" y="527.45" width="11.10" height="2.98" fill="#e6dd32"/>
<rect x="328.3" y="530.38" width="11.20" height="2.98" fill="#4c4d6c"/>
<rect x="339.5" y="530.38" width="11.10" height="2.98" fill="#4c4d6c"/>
<rect x="350.6" y="530.38" width="11.20" height="2.98" fill="#8e8c4a"/>
<rect x="361.8" y="530.38" width="11.20" height="2.98" fill="#d4cd3a"/>
<rect x="373.0" y="530.38" width="11.30" height="2.98" fill="#efe52f"/>
<rect x="384.3" y="530.38" width="11.10" height="2.98" fill="#e6dd32"/>
<rect x="328.3" y="533.31" width="11.20" height="2.98" fill="#4c4d6c"/>
<rect x="339.5" y="533.31" width="11.10" height="2.98" fill="#6c6b52"/>
<rect x="350.6" y="533.31" width="11.20" height="2.98" fill="#323378"/>
<rect x="361.8" y="533.31" width="11.20" height="2.98" fill="#bcb741"/>
<rect x="373.0" y="533.31" width="11.30" height="2.98" fill="#efe52f"/>
<rect x="384.3" y="533.31" width="11.10" height="2.98" fill="#efe52f"/>
<rect x="328.3" y="536.25" width="11.20" height="2.98" fill="#77764f"/>
<rect x="339.5" y="536.25" width="11.10" height="2.98" fill="#2c2d7b"/>
<rect x="350.6" y="536.25" width="11.20" height="2.98" fill="#323378"/>
<rect x="361.8" y="536.25" width="11.20" height="2.98" fill="#efe52f"/>
<rect x="373.0" y="536.25" width="11.30" height="2.98" fill="#8e8c4a"/>
<rect x="384.3" y="536.25" width="11.10" height="2.98" fill="#aca844"/>
<rect x="328.3" y="539.18" width="11.20" height="2.98" fill="#4c4d6c"/>
<rect x="339.5" y="539.18" width="11.10" height="2.98" fill="#4c4d6c"/>
<rect x="350.6" y="539.18" width="11.20" height="2.98" fill="#4c4d6c"/>
<rect x="361.8" y="539.18" width="11.20" height="2.98" fill="#ddd536"/>
<rect x="373.0" y="539.18" width="11.30" height="2.98" fill="#efe52f"/>
<rect x="384.3" y="539.18" width="11.10" height="2.98" fill="#d4cd3a"/>
<rect x="328.3" y="542.11" width="11.20" height="2.98" fill="#77764f"/>
<rect x="339.5" y="542.11" width="11.10" height="2.98" fill="#6c6b52"/>
<rect x="350.6" y="542.11" width="11.20" height="2.98" fill="#4c4d6c"/>
<rect x="361.8" y="542.11" width="11.20" height="2.98" fill="#8e8c4a"/>
<rect x="373.0" y="542.11" width="11.30" height="2.98" fill="#efe52f"/>
<rect x="384.3" y="542.11" width="11.10" height="2.98" fill="#efe52f"/>
<rect x="328.3" y="545.05" width="11.20" height="2.98" fill="#4c4d6c"/>
<rect x="339.5" y="545.05" width="11.10" height="2.98" fill="#323378"/>
<rect x="350.6" y="545.05" width="11.20" height="2.98" fill="#565763"/>
<rect x="361.8" y="545.05" width="11.20" height="2.98" fill="#efe52f"/>
<rect x="373.0" y="545.05" width="11.30" height="2.98" fill="#aca844"/>
<rect x="384.3" y="545.05" width="11.10" height="2.98" fill="#aca844"/>
<rect x="328.3" y="547.98" width="11.20" height="2.98" fill="#aca844"/>
<rect x="339.5" y="547.98" width="11.10" height="2.98" fill="#4c4d6c"/>
<rect x="350.6" y="547.98" width="11.20" height="2.98" fill="#2c2d7b"/>
<rect x="361.8" y="547.98" width="11.20" height="2.98" fill="#d4cd3a"/>
<rect x="373.0" y="547.98" width="11.30" height="2.98" fill="#efe52f"/>
<rect x="384.3" y="547.98" width="11.10" height="2.98" fill="#ccc63e"/>
<rect x="328.3" y="550.92" width="11.20" height="2.98" fill="#4c4d6c"/>
<rect x="339.5" y="550.92" width="11.10" height="2.98" fill="#4c4d6c"/>
<rect x="350.6" y="550.92" width="11.20" height="2.98" fill="#4c4d6c"/>
<rect x="361.8" y="550.92" width="11.20" height="2.98" fill="#efe52f"/>
<rect x="373.0" y="550.92" width="11.30" height="2.98" fill="#ddd536"/>
<rect x="384.3" y="550.92" width="11.10" height="2.98" fill="#d4cd3a"/>
<rect x="328.3" y="553.85" width="11.20" height="2.98" fill="#2c2d7b"/>
<rect x="339.5" y="553.85" width="11.10" height="2.98" fill="#323378"/>
<rect x="350.6" y="553.85" width="11.20" height="2.98" fill="#45466f"/>
<rect x="361.8" y="553.85" width="11.20" height="2.98" fill="#77764f"/>
<rect x="373.0" y="553.85" width="11.30" height="2.98" fill="#ddd536"/>
<rect x="384.3" y="553.85" width="11.10" height="2.98" fill="#77764f"/>
<rect x="328.3" y="556.78" width="11.20" height="2.98" fill="#77764f"/>
<rect x="339.5" y="556.78" width="11.10" height="2.98" fill="#3f4072"/>
<rect x="350.6" y="556.78" width="11.20" height="2.98" fill="#2c2d7b"/>
<rect x="361.8" y="556.78" width="11.20" height="2.98" fill="#82814c"/>
<rect x="373.0" y="556.78" width="11.30" height="2.98" fill="#efe52f"/>
<rect x="384.3" y="556.78" width="11.10" height="2.98" fill="#e6dd32"/>
<rect x="328.3" y="559.72" width="11.20" height="2.98" fill="#e6dd32"/>
<rect x="339.5" y="559.72" width="11.10" height="2.98" fill="#efe52f"/>
<rect x="350.6" y="559.72" width="11.20" height="2.98" fill="#efe52f"/>
<rect x="361.8" y="559.72" width="11.20" height="2.98" fill="#89874b"/>
<rect x="373.0" y="559.72" width="11.30" height="2.98" fill="#2c2d7b"/>
<rect x="384.3" y="559.72" width="11.10" height="2.98" fill="#4c4d6c"/>
<rect x="328.3" y="562.65" width="11.20" height="2.98" fill="#efe52f"/>
<rect x="339.5" y="562.65" width="11.10" height="2.98" fill="#e6dd32"/>
<rect x="350.6" y="562.65" width="11.20" height="2.98" fill="#c5c03f"/>
<rect x="361.8" y="562.65" width="11.20" height="2.98" fill="#8e8c4a"/>
<rect x="373.0" y="562.65" width="11.30" height="2.98" fill="#4c4d6c"/>
<rect x="384.3" y="562.65" width="11.10" height="2.98" fill="#565763"/>
<rect x="328.3" y="565.58" width="11.20" height="2.98" fill="#dad238"/>
<rect x="339.5" y="565.58" width="11.10" height="2.98" fill="#efe52f"/>
<rect x="350.6" y="565.58" width="11.20" height="2.98" fill="#efe52f"/>
<rect x="361.8" y="565.58" width="11.20" height="2.98" fill="#565763"/>
<rect x="373.0" y="565.58" width="11.30" height="2.98" fill="#4c4d6c"/>
<rect x="384.3" y="565.58" width="11.10" height="2.98" fill="#bcb741"/>
<rect x="328.3" y="568.52" width="11.20" height="2.98" fill="#e1d835"/>
<rect x="339.5" y="568.52" width="11.10" height="2.98" fill="#c5c03f"/>
<rect x="350.6" y="568.52" width="11.20" height="2.98" fill="#c5c03f"/>
<rect x="361.8" y="568.52" width="11.20" height="2.98" fill="#82814c"/>
<rect x="373.0" y="568.52" width="11.30" height="2.98" fill="#2c2d7b"/>
<rect x="384.3" y="568.52" width="11.10" height="2.98" fill="#2c2d7b"/>
<rect x="328.3" y="571.45" width="11.20" height="2.98" fill="#ddd536"/>
<rect x="339.5" y="571.45" width="11.10" height="2.98" fill="#ddd536"/>
<rect x="350.6" y="571.45" width="11.20" height="2.98" fill="#ddd536"/>
<rect x="361.8" y="571.45" width="11.20" height="2.98" fill="#8e8c4a"/>
<rect x="373.0" y="571.45" width="11.30" height="2.98" fill="#323378"/>
<rect x="384.3" y="571.45" width="11.10" height="2.98" fill="#4c4d6c"/>
<rect x="328.3" y="574.39" width="11.20" height="2.98" fill="#e6dd32"/>
<rect x="339.5" y="574.39" width="11.10" height="2.98" fill="#efe52f"/>
<rect x="350.6" y="574.39" width="11.20" height="2.98" fill="#b3ae42"/>
<rect x="361.8" y="574.39" width="11.20" height="2.98" fill="#61615a"/>
<rect x="373.0" y="574.39" width="11.30" height="2.98" fill="#77764f"/>
<rect x="384.3" y="574.39" width="11.10" height="2.98" fill="#565763"/>
<rect x="328.3" y="577.32" width="11.20" height="2.98" fill="#e6dd32"/>
<rect x="339.5" y="577.32" width="11.10" height="2.98" fill="#efe52f"/>
<rect x="350.6" y="577.32" width="11.20" height="2.98" fill="#ccc63e"/>
<rect x="361.8" y="577.32" width="11.20" height="2.98" fill="#61615a"/>
<rect x="373.0" y="577.32" width="11.30" height="2.98" fill="#4c4d6c"/>
<rect x="384.3" y="577.32" width="11.10" height="2.98" fill="#61615a"/>
<rect x="328.3" y="580.25" width="11.20" height="2.98" fill="#e6dd32"/>
<rect x="339.5" y="580.25" width="11.10" height="2.98" fill="#ddd536"/>
<rect x="350.6" y="580.25" width="11.20" height="2.98" fill="#efe52f"/>
<rect x="361.8" y="580.25" width="11.20" height="2.98" fill="#6c6b52"/>
<rect x="373.0" y="580.25" width="11.30" height="2.98" fill="#61615a"/>
<rect x="384.3" y="580.25" width="11.10" height="2.98" fill="#82814c"/>
<rect x="328.3" y="583.19" width="11.20" height="2.98" fill="#e6dd32"/>
<rect x="339.5" y="583.19" width="11.10" height="2.98" fill="#e1d835"/>
<rect x="350.6" y="583.19" width="11.20" height="2.98" fill="#e6dd32"/>
<rect x="361.8" y="583.19" width="11.20" height="2.98" fill="#89874b"/>
<rect x="373.0" y="583.19" width="11.30" height="2.98" fill="#2c2d7b"/>
<rect x="384.3" y="583.19" width="11.10" height="2.98" fill="#565763"/>
<rect x="328.3" y="586.12" width="11.20" height="2.98" fill="#e1d835"/>
<rect x="339.5" y="586.12" width="11.10" height="2.98" fill="#e1d835"/>
<rect x="350.6" y="586.12" width="11.20" height="2.98" fill="#efe52f"/>
<rect x="361.8" y="586.12" width="11.20" height="2.98" fill="#6c6b52"/>
<rect x="373.0" y="586.12" width="11.30" height="2.98" fill="#323378"/>
<rect x="384.3" y="586.12" width="11.10" height="2.98" fill="#bcb741"/>
<rect x="328.3" y="589.05" width="11.20" height="2.98" fill="#efe52f"/>
<rect x="339.5" y="589.05" width="11.10" height="2.98" fill="#b3ae42"/>
<rect x="350.6" y="589.05" width="11.20" height="2.98" fill="#efe52f"/>
<rect x="361.8" y="589.05" width="11.20" height="2.98" fill="#77764f"/>
<rect x="373.0" y="589.05" width="11.30" height="2.98" fill="#45466f"/>
<rect x="384.3" y="589.05" width="11.10" height="2.98" fill="#bcb741"/>
<rect x="328.3" y="591.99" width="11.20" height="2.98" fill="#efe52f"/>
<rect x="339.5" y="591.99" width="11.10" height="2.98" fill="#efe52f"/>
<rect x="350.6" y="591.99" width="11.20" height="2.98" fill="#efe52f"/>
<rect x="361.8" y="591.99" width="11.20" height="2.98" fill="#565763"/>
<rect x="373.0" y="591.99" width="11.30" height="2.98" fill="#4c4d6c"/>
<rect x="384.3" y="591.99" width="11.10" height="2.98" fill="#bcb741"/>
<rect x="328.3" y="594.92" width="11.20" height="2.98" fill="#efe52f"/>
<rect x="339.5" y="594.92" width="11.10" height="2.98" fill="#bcb741"/>
<rect x="350.6" y="594.92" width="11.20" height="2.98" fill="#ddd536"/>
<rect x="361.8" y="594.92" width="11.20" height="2.98" fill="#82814c"/>
<rect x="373.0" y="594.92" width="11.30" height="2.98" fill="#2c2d7b"/>
<rect x="384.3" y="594.92" width="11.10" height="2.98" fill="#45466f"/>
<rect x="328.3" y="597.85" width="11.20" height="2.98" fill="#efe52f"/>
<rect x="339.5" y="597.85" width="11.10" height="2.98" fill="#d4cd3a"/>
<rect x="350.6" y="597.85" width="11.20" height="2.98" fill="#e6dd32"/>
<rect x="361.8" y="597.85" width="11.20" height="2.98" fill="#82814c"/>
<rect x="373.0" y="597.85" width="11.30" height="2.98" fill="#2c2d7b"/>
<rect x="384.3" y="597.85" width="11.10" height="2.98" fill="#4c4d6c"/>
<rect x="328.3" y="600.79" width="11.20" height="2.98" fill="#efe52f"/>
<rect x="339.5" y="600.79" width="11.10" height="2.98" fill="#efe52f"/>
<rect x="350.6" y="600.79" width="11.20" height="2.98" fill="#e1d835"/>
<rect x="361.8" y="600.79" width="11.20" height="2.98" fill="#77764f"/>
<rect x="373.0" y="600.79" width="11.30" height="2.98" fill="#323378"/>
<rect x="384.3" y="600.79" width="11.10" height="2.98" fill="#4c4d6c"/>
<rect x="328.3" y="603.72" width="11.20" height="2.98" fill="#d8d038"/>
<rect x="339.5" y="603.72" width="11.10" height="2.98" fill="#e6dd32"/>
<rect x="350.6" y="603.72" width="11.20" height="2.98" fill="#efe52f"/>
<rect x="361.8" y="603.72" width="11.20" height="2.98" fill="#565763"/>
<rect x="373.0" y="603.72" width="11.30" height="2.98" fill="#61615a"/>
<rect x="384.3" y="603.72" width="11.10" height="2.98" fill="#77764f"/>
<rect x="328.3" y="606.66" width="11.20" height="2.98" fill="#e6dd32"/>
<rect x="339.5" y="606.66" width="11.10" height="2.98" fill="#ddd536"/>
<rect x="350.6" y="606.66" width="11.20" height="2.98" fill="#ddd536"/>
<rect x="361.8" y="606.66" width="11.20" height="2.98" fill="#77764f"/>
<rect x="373.0" y="606.66" width="11.30" height="2.98" fill="#2c2d7b"/>
<rect x="384.3" y="606.66" width="11.10" height="2.98" fill="#323378"/>
<rect x="328.3" y="609.59" width="11.20" height="2.98" fill="#e6dd32"/>
<rect x="339.5" y="609.59" width="11.10" height="2.98" fill="#ddd536"/>
<rect x="350.6" y="609.59" width="11.20" height="2.98" fill="#efe52f"/>
<rect x="361.8" y="609.59" width="11.20" height="2.98" fill="#82814c"/>
<rect x="373.0" y="609.59" width="11.30" height="2.98" fill="#323378"/>
<rect x="384.3" y="609.59" width="11.10" height="2.98" fill="#565763"/>
<rect x="328.3" y="612.52" width="11.20" height="2.98" fill="#e6dd32"/>
<rect x="339.5" y="612.52" width="11.10" height="2.98" fill="#dad238"/>
<rect x="350.6" y="612.52" width="11.20" height="2.98" fill="#efe52f"/>
<rect x="361.8" y="612.52" width="11.20" height="2.98" fill="#77764f"/>
<rect x="373.0" y="612.52" width="11.30" height="2.98" fill="#3f4072"/>
<rect x="384.3" y="612.52" width="11.10" height="2.98" fill="#4c4d6c"/>
<rect x="328.3" y="615.46" width="11.20" height="2.98" fill="#e6dd32"/>
<rect x="339.5" y="615.46" width="11.10" height="2.98" fill="#e6dd32"/>
<rect x="350.6" y="615.46" width="11.20" height="2.98" fill="#efe52f"/>
<rect x="361.8" y="615.46" width="11.20" height="2.98" fill="#4c4d6c"/>
<rect x="373.0" y="615.46" width="11.30" height="2.98" fill="#3f4072"/>
<rect x="384.3" y="615.46" width="11.10" height="2.98" fill="#ccc63e"/>
<rect x="328.3" y="618.39" width="11.20" height="2.98" fill="#e6dd32"/>
<rect x="339.5" y="618.39" width="11.10" height="2.98" fill="#e6dd32"/>
<rect x="350.6" y="618.39" width="11.20" height="2.98" fill="#efe52f"/>
<rect x="361.8" y="618.39" width="11.20" height="2.98" fill="#aca844"/>
<rect x="373.0" y="618.39" width="11.30" height="2.98" fill="#323378"/>
<rect x="384.3" y="618.39" width="11.10" height="2.98" fill="#2c2d7b"/>
<rect x="328.3" y="621.32" width="11.20" height="2.98" fill="#e6dd32"/>
<rect x="339.5" y="621.32" width="11.10" height="2.98" fill="#e6dd32"/>
<rect x="350.6" y="621.32" width="11.20" height="2.98" fill="#efe52f"/>
<rect x="361.8" y="621.32" width="11.20" height="2.98" fill="#565763"/>
<rect x="373.0" y="621.32" width="11.30" height="2.98" fill="#4c4d6c"/>
<rect x="384.3" y="621.32" width="11.10" height="2.98" fill="#77764f"/>
<rect x="328.3" y="624.26" width="11.20" height="2.98" fill="#e6dd32"/>
<rect x="339.5" y="624.26" width="11.10" height="2.98" fill="#e6dd32"/>
<rect x="350.6" y="624.26" width="11.20" height="2.98" fill="#efe52f"/>
<rect x="361.8" y="624.26" width="11.20" height="2.98" fill="#77764f"/>
<rect x="373.0" y="624.26" width="11.30" height="2.98" fill="#4c4d6c"/>
<rect x="384.3" y="624.26" width="11.10" height="2.98" fill="#61615a"/>
<rect x="328.3" y="627.19" width="11.20" height="2.98" fill="#e6dd32"/>
<rect x="339.5" y="627.19" width="11.10" height="2.98" fill="#e6dd32"/>
<rect x="350.6" y="627.19" width="11.20" height="2.98" fill="#dad238"/>
<rect x="361.8" y="627.19" width="11.20" height="2.98" fill="#82814c"/>
<rect x="373.0" y="627.19" width="11.30" height="2.98" fill="#323378"/>
<rect x="384.3" y="627.19" width="11.10" height="2.98" fill="#4c4d6c"/>
<rect x="328.3" y="630.12" width="11.20" height="2.98" fill="#e6dd32"/>
<rect x="339.5" y="630.12" width="11.10" height="2.98" fill="#e6dd32"/>
<rect x="350.6" y="630.12" width="11.20" height="2.98" fill="#ddd536"/>
<rect x="361.8" y="630.12" width="11.20" height="2.98" fill="#8e8c4a"/>
<rect x="373.0" y="630.12" width="11.30" height="2.98" fill="#2c2d7b"/>
<rect x="384.3" y="630.12" width="11.10" height="2.98" fill="#565763"/>
<rect x="328.3" y="633.06" width="11.20" height="2.98" fill="#ddd536"/>
<rect x="339.5" y="633.06" width="11.10" height="2.98" fill="#e1d835"/>
<rect x="350.6" y="633.06" width="11.20" height="2.98" fill="#bcb741"/>
<rect x="361.8" y="633.06" width="11.20" height="2.98" fill="#565763"/>
<rect x="373.0" y="633.06" width="11.30" height="2.98" fill="#6c6b52"/>
<rect x="384.3" y="633.06" width="11.10" height="2.98" fill="#323378"/>
<rect x="328.3" y="635.99" width="11.20" height="2.98" fill="#efe52f"/>
<rect x="339.5" y="635.99" width="11.10" height="2.98" fill="#efe52f"/>
<rect x="350.6" y="635.99" width="11.20" height="2.98" fill="#b3ae42"/>
<rect x="361.8" y="635.99" width="11.20" height="2.98" fill="#45466f"/>
<rect x="373.0" y="635.99" width="11.30" height="2.98" fill="#6c6b52"/>
<rect x="384.3" y="635.99" width="11.10" height="2.98" fill="#4c4d6c"/>
<rect x="328.3" y="638.93" width="11.20" height="2.98" fill="#efe52f"/>
<rect x="339.5" y="638.93" width="11.10" height="2.98" fill="#e1d835"/>
<rect x="350.6" y="638.93" width="11.20" height="2.98" fill="#dad238"/>
<rect x="361.8" y="638.93" width="11.20" height="2.98" fill="#82814c"/>
<rect x="373.0" y="638.93" width="11.30" height="2.98" fill="#2c2d7b"/>
<rect x="384.3" y="638.93" width="11.10" height="2.98" fill="#45466f"/>
<rect x="328.3" y="641.86" width="11.20" height="2.98" fill="#efe52f"/>
<rect x="339.5" y="641.86" width="11.10" height="2.98" fill="#efe52f"/>
<rect x="350.6" y="641.86" width="11.20" height="2.98" fill="#e6dd32"/>
<rect x="361.8" y="641.86" width="11.20" height="2.98" fill="#77764f"/>
<rect x="373.0" y="641.86" width="11.30" height="2.98" fill="#2c2d7b"/>
<rect x="384.3" y="641.86" width="11.10" height="2.98" fill="#bcb741"/>
<rect x="328.3" y="644.79" width="11.20" height="2.98" fill="#efe52f"/>
<rect x="339.5" y="644.79" width="11.10" height="2.98" fill="#d4cd3a"/>
<rect x="350.6" y="644.79" width="11.20" height="2.98" fill="#efe52f"/>
<rect x="361.8" y="644.79" width="11.20" height="2.98" fill="#aca844"/>
<rect x="373.0" y="644.79" width="11.30" height="2.98" fill="#2c2d7b"/>
<rect x="384.3" y="644.79" width="11.10" height="2.98" fill="#2c2d7b"/>
<rect x="328.3" y="647.73" width="11.20" height="2.98" fill="#efe52f"/>
<rect x="339.5" y="647.73" width="11.10" height="2.98" fill="#d4cd3a"/>
<rect x="350.6" y="647.73" width="11.20" height="2.98" fill="#efe52f"/>
<rect x="361.8" y="647.73" width="11.20" height="2.98" fill="#565763"/>
<rect x="373.0" y="647.73" width="11.30" height="2.98" fill="#45466f"/>
<rect x="384.3" y="647.73" width="11.10" height="2.98" fill="#565763"/>
<rect x="328.3" y="650.66" width="11.20" height="2.98" fill="#d4cd3a"/>
<rect x="339.5" y="650.66" width="11.10" height="2.98" fill="#efe52f"/>
<rect x="350.6" y="650.66" width="11.20" height="2.98" fill="#efe52f"/>
<rect x="361.8" y="650.66" width="11.20" height="2.98" fill="#77764f"/>
<rect x="373.0" y="650.66" width="11.30" height="2.98" fill="#323378"/>
<rect x="384.3" y="650.66" width="11.10" height="2.98" fill="#ccc63e"/>
<rect x="328.3" y="653.59" width="11.20" height="2.98" fill="#d4cd3a"/>
<rect x="339.5" y="653.59" width="11.10" height="2.98" fill="#d4cd3a"/>
<rect x="350.6" y="653.59" width="11.20" height="2.98" fill="#efe52f"/>
<rect x="361.8" y="653.59" width="11.20" height="2.98" fill="#565763"/>
<rect x="373.0" y="653.59" width="11.30" height="2.98" fill="#3f4072"/>
<rect x="384.3" y="653.59" width="11.10" height="2.98" fill="#4c4d6c"/>
<rect x="328.3" y="656.53" width="11.20" height="2.98" fill="#efe52f"/>
<rect x="339.5" y="656.53" width="11.10" height="2.98" fill="#d4cd3a"/>
<rect x="350.6" y="656.53" width="11.20" height="2.98" fill="#efe52f"/>
<rect x="361.8" y="656.53" width="11.20" height="2.98" fill="#3f4072"/>
<rect x="373.0" y="656.53" width="11.30" height="2.98" fill="#2c2d7b"/>
<rect x="384.3" y="656.53" width="11.10" height="2.98" fill="#565763"/>
<rect x="328.3" y="659.46" width="11.20" height="2.98" fill="#efe52f"/>
<rect x="339.5" y="659.46" width="11.10" height="2.98" fill="#cfc93c"/>
<rect x="350.6" y="659.46" width="11.20" height="2.98" fill="#efe52f"/>
<rect x="361.8" y="659.46" width="11.20" height="2.98" fill="#565763"/>
<rect x="373.0" y="659.46" width="11.30" height="2.98" fill="#77764f"/>
<rect x="384.3" y="659.46" width="11.10" height="2.98" fill="#77764f"/>
<rect x="328.3" y="662.40" width="11.20" height="2.98" fill="#efe52f"/>
<rect x="339.5" y="662.40" width="11.10" height="2.98" fill="#cfc93c"/>
<rect x="350.6" y="662.40" width="11.20" height="2.98" fill="#efe52f"/>
<rect x="361.8" y="662.40" width="11.20" height="2.98" fill="#61615a"/>
<rect x="373.0" y="662.40" width="11.30" height="2.98" fill="#2c2d7b"/>
<rect x="384.3" y="662.40" width="11.10" height="2.98" fill="#565763"/>
<rect x="328.3" y="665.33" width="11.20" height="2.98" fill="#efe52f"/>
<rect x="339.5" y="665.33" width="11.10" height="2.98" fill="#efe52f"/>
<rect x="350.6" y="665.33" width="11.20" height="2.98" fill="#ddd536"/>
<rect x="361.8" y="665.33" width="11.20" height="2.98" fill="#565763"/>
<rect x="373.0" y="665.33" width="11.30" height="2.98" fill="#4c4d6c"/>
<rect x="384.3" y="665.33" width="11.10" height="2.98" fill="#323378"/>
<rect x="328.3" y="668.26" width="11.20" height="2.98" fill="#bcb741"/>
<rect x="339.5" y="668.26" width="11.10" height="2.98" fill="#efe52f"/>
<rect x="350.6" y="668.26" width="11.20" height="2.98" fill="#efe52f"/>
<rect x="361.8" y="668.26" width="11.20" height="2.98" fill="#82814c"/>
<rect x="373.0" y="668.26" width="11.30" height="2.98" fill="#2c2d7b"/>
<rect x="384.3" y="668.26" width="11.10" height="2.98" fill="#61615a"/>
<rect x="328.3" y="671.20" width="11.20" height="2.98" fill="#efe52f"/>
<rect x="339.5" y="671.20" width="11.10" height="2.98" fill="#efe52f"/>
<rect x="350.6" y="671.20" width="11.20" height="2.98" fill="#ddd536"/>
<rect x="361.8" y="671.20" width="11.20" height="2.98" fill="#77764f"/>
<rect x="373.0" y="671.20" width="11.30" height="2.98" fill="#2c2d7b"/>
<rect x="384.3" y="671.20" width="11.10" height="2.98" fill="#565763"/>
<rect x="328.3" y="674.13" width="11.20" height="2.98" fill="#e1d835"/>
<rect x="339.5" y="674.13" width="11.10" height="2.98" fill="#efe52f"/>
<rect x="350.6" y="674.13" width="11.20" height="2.98" fill="#efe52f"/>
<rect x="361.8" y="674.13" width="11.20" height="2.98" fill="#77764f"/>
<rect x="373.0" y="674.13" width="11.30" height="2.98" fill="#323378"/>
<rect x="384.3" y="674.13" width="11.10" height="2.98" fill="#4c4d6c"/>
<rect x="328.3" y="677.06" width="11.20" height="2.98" fill="#efe52f"/>
<rect x="339.5" y="677.06" width="11.10" height="2.98" fill="#efe52f"/>
<rect x="350.6" y="677.06" width="11.20" height="2.98" fill="#9d9a47"/>
<rect x="361.8" y="677.06" width="11.20" height="2.98" fill="#82814c"/>
<rect x="373.0" y="677.06" width="11.30" height="2.98" fill="#2c2d7b"/>
<rect x="384.3" y="677.06" width="11.10" height="2.98" fill="#565763"/>
<rect x="328.3" y="680.00" width="11.20" height="2.98" fill="#efe52f"/>
<rect x="339.5" y="680.00" width="11.10" height="2.98" fill="#efe52f"/>
<rect x="350.6" y="680.00" width="11.20" height="2.98" fill="#8e8c4a"/>
<rect x="361.8" y="680.00" width="11.20" height="2.98" fill="#61615a"/>
<rect x="373.0" y="680.00" width="11.30" height="2.98" fill="#2c2d7b"/>
<rect x="384.3" y="680.00" width="11.10" height="2.98" fill="#77764f"/>
<rect x="328.3" y="682.93" width="11.20" height="2.98" fill="#efe52f"/>
<rect x="339.5" y="682.93" width="11.10" height="2.98" fill="#efe52f"/>
<rect x="350.6" y="682.93" width="11.20" height="2.98" fill="#efe52f"/>
<rect x="361.8" y="682.93" width="11.20" height="2.98" fill="#61615a"/>
<rect x="373.0" y="682.93" width="11.30" height="2.98" fill="#2c2d7b"/>
<rect x="384.3" y="682.93" width="11.10" height="2.98" fill="#2c2d7b"/>
<rect x="328.3" y="685.86" width="11.20" height="2.98" fill="#efe52f"/>
<rect x="339.5" y="685.86" width="11.10" height="2.98" fill="#efe52f"/>
<rect x="350.6" y="685.86" width="11.20" height="2.98" fill="#d4cd3a"/>
<rect x="361.8" y="685.86" width="11.20" height="2.98" fill="#77764f"/>
<rect x="373.0" y="685.86" width="11.30" height="2.98" fill="#323378"/>
<rect x="384.3" y="685.86" width="11.10" height="2.98" fill="#4c4d6c"/>
<rect x="328.3" y="688.80" width="11.20" height="2.98" fill="#e1d835"/>
<rect x="339.5" y="688.80" width="11.10" height="2.98" fill="#e1d835"/>
<rect x="350.6" y="688.80" width="11.20" height="2.98" fill="#efe52f"/>
<rect x="361.8" y="688.80" width="11.20" height="2.98" fill="#61615a"/>
<rect x="373.0" y="688.80" width="11.30" height="2.98" fill="#2c2d7b"/>
<rect x="384.3" y="688.80" width="11.10" height="2.98" fill="#6c6b52"/>
<rect x="328.3" y="691.73" width="11.20" height="2.98" fill="#efe52f"/>
<rect x="339.5" y="691.73" width="11.10" height="2.98" fill="#e2da34"/>
<rect x="350.6" y="691.73" width="11.20" height="2.98" fill="#efe52f"/>
<rect x="361.8" y="691.73" width="11.20" height="2.98" fill="#77764f"/>
<rect x="373.0" y="691.73" width="11.30" height="2.98" fill="#2c2d7b"/>
<rect x="384.3" y="691.73" width="11.10" height="2.98" fill="#323378"/>
<rect x="328.3" y="694.67" width="11.20" height="2.98" fill="#efe52f"/>
<rect x="339.5" y="694.67" width="11.10" height="2.98" fill="#e2da34"/>
<rect x="350.6" y="694.67" width="11.20" height="2.98" fill="#efe52f"/>
<rect x="361.8" y="694.67" width="11.20" height="2.98" fill="#565763"/>
<rect x="373.0" y="694.67" width="11.30" height="2.98" fill="#323378"/>
<rect x="384.3" y="694.67" width="11.10" height="2.98" fill="#6c6b52"/>
<rect x="328.3" y="697.60" width="11.20" height="2.98" fill="#efe52f"/>
<rect x="339.5" y="697.60" width="11.10" height="2.98" fill="#efe52f"/>
<rect x="350.6" y="697.60" width="11.20" height="2.98" fill="#b3ae42"/>
<rect x="361.8" y="697.60" width="11.20" height="2.98" fill="#82814c"/>
<rect x="373.0" y="697.60" width="11.30" height="2.98" fill="#2c2d7b"/>
<rect x="384.3" y="697.60" width="11.10" height="2.98" fill="#323378"/>
<rect x="328.3" y="700.53" width="11.20" height="2.98" fill="#efe52f"/>
<rect x="339.5" y="700.53" width="11.10" height="2.98" fill="#efe52f"/>
<rect x="350.6" y="700.53" width="11.20" height="2.98" fill="#b3ae42"/>
<rect x="361.8" y="700.53" width="11.20" height="2.98" fill="#323378"/>
<rect x="373.0" y="700.53" width="11.30" height="2.98" fill="#2c2d7b"/>
<rect x="384.3" y="700.53" width="11.10" height="2.98" fill="#4c4d6c"/>
<rect x="328.3" y="703.47" width="11.20" height="2.98" fill="#efe52f"/>
<rect x="339.5" y="703.47" width="11.10" height="2.98" fill="#efe52f"/>
<rect x="350.6" y="703.47" width="11.20" height="2.98" fill="#efe52f"/>
<rect x="361.8" y="703.47" width="11.20" height="2.98" fill="#2c2d7b"/>
<rect x="373.0" y="703.47" width="11.30" height="2.98" fill="#2c2d7b"/>
<rect x="384.3" y="703.47" width="11.10" height="2.98" fill="#4c4d6c"/>
</g>
<line x1="339.5" y1="410.1" x2="339.5" y2="706.4" stroke="#ffffff" stroke-opacity="0.22" stroke-width="0.5"/>
<line x1="350.6" y1="410.1" x2="350.6" y2="706.4" stroke="#ffffff" stroke-opacity="0.22" stroke-width="0.5"/>
<line x1="361.8" y1="410.1" x2="361.8" y2="706.4" stroke="#ffffff" stroke-opacity="0.22" stroke-width="0.5"/>
<line x1="373.0" y1="410.1" x2="373.0" y2="706.4" stroke="#ffffff" stroke-opacity="0.22" stroke-width="0.5"/>
<line x1="384.3" y1="410.1" x2="384.3" y2="706.4" stroke="#ffffff" stroke-opacity="0.22" stroke-width="0.5"/>
<rect x="415.25" y="417.65" width="4.47" height="7.63" fill="#26277e"/>
<rect x="420.22" y="417.65" width="4.47" height="7.63" fill="#26277e"/>
<rect x="425.18" y="417.65" width="4.47" height="7.63" fill="#26277e"/>
<rect x="430.15" y="417.65" width="4.47" height="7.63" fill="#efe52f"/>
<rect x="435.12" y="417.65" width="4.47" height="7.63" fill="#efe52f"/>
<rect x="440.08" y="417.65" width="4.47" height="7.63" fill="#e1d835"/>
<rect x="415.25" y="425.98" width="4.47" height="7.63" fill="#26277e"/>
<rect x="420.22" y="425.98" width="4.47" height="7.63" fill="#26277e"/>
<rect x="425.18" y="425.98" width="4.47" height="7.63" fill="#26277e"/>
<rect x="430.15" y="425.98" width="4.47" height="7.63" fill="#efe52f"/>
<rect x="435.12" y="425.98" width="4.47" height="7.63" fill="#efe52f"/>
<rect x="440.08" y="425.98" width="4.47" height="7.63" fill="#efe52f"/>
<rect x="415.25" y="434.31" width="4.47" height="7.63" fill="#26277e"/>
<rect x="420.22" y="434.31" width="4.47" height="7.63" fill="#26277e"/>
<rect x="425.18" y="434.31" width="4.47" height="7.63" fill="#26277e"/>
<rect x="430.15" y="434.31" width="4.47" height="7.63" fill="#efe52f"/>
<rect x="435.12" y="434.31" width="4.47" height="7.63" fill="#efe52f"/>
<rect x="440.08" y="434.31" width="4.47" height="7.63" fill="#e6dd32"/>
<rect x="415.25" y="442.64" width="4.47" height="7.63" fill="#26277e"/>
<rect x="420.22" y="442.64" width="4.47" height="7.63" fill="#26277e"/>
<rect x="425.18" y="442.64" width="4.47" height="7.63" fill="#26277e"/>
<rect x="430.15" y="442.64" width="4.47" height="7.63" fill="#efe52f"/>
<rect x="435.12" y="442.64" width="4.47" height="7.63" fill="#efe52f"/>
<rect x="440.08" y="442.64" width="4.47" height="7.63" fill="#ccc63e"/>
<rect x="415.25" y="450.97" width="4.47" height="7.63" fill="#26277e"/>
<rect x="420.22" y="450.97" width="4.47" height="7.63" fill="#26277e"/>
<rect x="425.18" y="450.97" width="4.47" height="7.63" fill="#26277e"/>
<rect x="430.15" y="450.97" width="4.47" height="7.63" fill="#8e8c4a"/>
<rect x="435.12" y="450.97" width="4.47" height="7.63" fill="#efe52f"/>
<rect x="440.08" y="450.97" width="4.47" height="7.63" fill="#e6dd32"/>
<rect x="415.25" y="459.30" width="4.47" height="7.63" fill="#26277e"/>
<rect x="420.22" y="459.30" width="4.47" height="7.63" fill="#26277e"/>
<rect x="425.18" y="459.30" width="4.47" height="7.63" fill="#26277e"/>
<rect x="430.15" y="459.30" width="4.47" height="7.63" fill="#efe52f"/>
<rect x="435.12" y="459.30" width="4.47" height="7.63" fill="#efe52f"/>
<rect x="440.08" y="459.30" width="4.47" height="7.63" fill="#efe52f"/>
<rect x="415.25" y="467.63" width="4.47" height="7.63" fill="#26277e"/>
<rect x="420.22" y="467.63" width="4.47" height="7.63" fill="#26277e"/>
<rect x="425.18" y="467.63" width="4.47" height="7.63" fill="#2c2d7b"/>
<rect x="430.15" y="467.63" width="4.47" height="7.63" fill="#949148"/>
<rect x="435.12" y="467.63" width="4.47" height="7.63" fill="#efe52f"/>
<rect x="440.08" y="467.63" width="4.47" height="7.63" fill="#efe52f"/>
<rect x="415.25" y="475.96" width="4.47" height="7.63" fill="#26277e"/>
<rect x="420.22" y="475.96" width="4.47" height="7.63" fill="#26277e"/>
<rect x="425.18" y="475.96" width="4.47" height="7.63" fill="#2c2d7b"/>
<rect x="430.15" y="475.96" width="4.47" height="7.63" fill="#aca844"/>
<rect x="435.12" y="475.96" width="4.47" height="7.63" fill="#efe52f"/>
<rect x="440.08" y="475.96" width="4.47" height="7.63" fill="#efe52f"/>
<rect x="415.25" y="484.29" width="4.47" height="7.63" fill="#26277e"/>
<rect x="420.22" y="484.29" width="4.47" height="7.63" fill="#26277e"/>
<rect x="425.18" y="484.29" width="4.47" height="7.63" fill="#26277e"/>
<rect x="430.15" y="484.29" width="4.47" height="7.63" fill="#efe52f"/>
<rect x="435.12" y="484.29" width="4.47" height="7.63" fill="#efe52f"/>
<rect x="440.08" y="484.29" width="4.47" height="7.63" fill="#efe52f"/>
<rect x="415.25" y="492.62" width="4.47" height="7.63" fill="#26277e"/>
<rect x="420.22" y="492.62" width="4.47" height="7.63" fill="#2c2d7b"/>
<rect x="425.18" y="492.62" width="4.47" height="7.63" fill="#2c2d7b"/>
<rect x="430.15" y="492.62" width="4.47" height="7.63" fill="#ddd536"/>
<rect x="435.12" y="492.62" width="4.47" height="7.63" fill="#efe52f"/>
<rect x="440.08" y="492.62" width="4.47" height="7.63" fill="#efe52f"/>
<rect x="415.25" y="618.55" width="4.47" height="7.90" fill="#efe52f"/>
<rect x="420.22" y="618.55" width="4.47" height="7.90" fill="#e6dd32"/>
<rect x="425.18" y="618.55" width="4.47" height="7.90" fill="#ccc63e"/>
<rect x="430.15" y="618.55" width="4.47" height="7.90" fill="#89874b"/>
<rect x="435.12" y="618.55" width="4.47" height="7.90" fill="#26277e"/>
<rect x="440.08" y="618.55" width="4.47" height="7.90" fill="#6c6b52"/>
<rect x="415.25" y="627.15" width="4.47" height="7.90" fill="#efe52f"/>
<rect x="420.22" y="627.15" width="4.47" height="7.90" fill="#e6dd32"/>
<rect x="425.18" y="627.15" width="4.47" height="7.90" fill="#ccc63e"/>
<rect x="430.15" y="627.15" width="4.47" height="7.90" fill="#6c6b52"/>
<rect x="435.12" y="627.15" width="4.47" height="7.90" fill="#26277e"/>
<rect x="440.08" y="627.15" width="4.47" height="7.90" fill="#82814c"/>
<rect x="415.25" y="635.75" width="4.47" height="7.90" fill="#efe52f"/>
<rect x="420.22" y="635.75" width="4.47" height="7.90" fill="#efe52f"/>
<rect x="425.18" y="635.75" width="4.47" height="7.90" fill="#e1d835"/>
<rect x="430.15" y="635.75" width="4.47" height="7.90" fill="#77764f"/>
<rect x="435.12" y="635.75" width="4.47" height="7.90" fill="#26277e"/>
<rect x="440.08" y="635.75" width="4.47" height="7.90" fill="#2c2d7b"/>
<rect x="415.25" y="644.35" width="4.47" height="7.90" fill="#efe52f"/>
<rect x="420.22" y="644.35" width="4.47" height="7.90" fill="#efe52f"/>
<rect x="425.18" y="644.35" width="4.47" height="7.90" fill="#ddd536"/>
<rect x="430.15" y="644.35" width="4.47" height="7.90" fill="#82814c"/>
<rect x="435.12" y="644.35" width="4.47" height="7.90" fill="#26277e"/>
<rect x="440.08" y="644.35" width="4.47" height="7.90" fill="#61615a"/>
<rect x="415.25" y="652.95" width="4.47" height="7.90" fill="#efe52f"/>
<rect x="420.22" y="652.95" width="4.47" height="7.90" fill="#efe52f"/>
<rect x="425.18" y="652.95" width="4.47" height="7.90" fill="#e6dd32"/>
<rect x="430.15" y="652.95" width="4.47" height="7.90" fill="#61615a"/>
<rect x="435.12" y="652.95" width="4.47" height="7.90" fill="#26277e"/>
<rect x="440.08" y="652.95" width="4.47" height="7.90" fill="#61615a"/>
<rect x="415.25" y="661.55" width="4.47" height="7.90" fill="#efe52f"/>
<rect x="420.22" y="661.55" width="4.47" height="7.90" fill="#efe52f"/>
<rect x="425.18" y="661.55" width="4.47" height="7.90" fill="#e6dd32"/>
<rect x="430.15" y="661.55" width="4.47" height="7.90" fill="#82814c"/>
<rect x="435.12" y="661.55" width="4.47" height="7.90" fill="#26277e"/>
<rect x="440.08" y="661.55" width="4.47" height="7.90" fill="#2c2d7b"/>
<rect x="415.25" y="670.15" width="4.47" height="7.90" fill="#efe52f"/>
<rect x="420.22" y="670.15" width="4.47" height="7.90" fill="#efe52f"/>
<rect x="425.18" y="670.15" width="4.47" height="7.90" fill="#e6dd32"/>
<rect x="430.15" y="670.15" width="4.47" height="7.90" fill="#61615a"/>
<rect x="435.12" y="670.15" width="4.47" height="7.90" fill="#26277e"/>
<rect x="440.08" y="670.15" width="4.47" height="7.90" fill="#6c6b52"/>
<rect x="415.25" y="678.75" width="4.47" height="7.90" fill="#efe52f"/>
<rect x="420.22" y="678.75" width="4.47" height="7.90" fill="#efe52f"/>
<rect x="425.18" y="678.75" width="4.47" height="7.90" fill="#e6dd32"/>
<rect x="430.15" y="678.75" width="4.47" height="7.90" fill="#89874b"/>
<rect x="435.12" y="678.75" width="4.47" height="7.90" fill="#26277e"/>
<rect x="440.08" y="678.75" width="4.47" height="7.90" fill="#2c2d7b"/>
<rect x="415.25" y="687.35" width="4.47" height="7.90" fill="#efe52f"/>
<rect x="420.22" y="687.35" width="4.47" height="7.90" fill="#e6dd32"/>
<rect x="425.18" y="687.35" width="4.47" height="7.90" fill="#d4cd3a"/>
<rect x="430.15" y="687.35" width="4.47" height="7.90" fill="#26277e"/>
<rect x="435.12" y="687.35" width="4.47" height="7.90" fill="#26277e"/>
<rect x="440.08" y="687.35" width="4.47" height="7.90" fill="#61615a"/>
<rect x="415.25" y="695.95" width="4.47" height="7.90" fill="#efe52f"/>
<rect x="420.22" y="695.95" width="4.47" height="7.90" fill="#efe52f"/>
<rect x="425.18" y="695.95" width="4.47" height="7.90" fill="#efe52f"/>
<rect x="430.15" y="695.95" width="4.47" height="7.90" fill="#26277e"/>
<rect x="435.12" y="695.95" width="4.47" height="7.90" fill="#26277e"/>
<rect x="440.08" y="695.95" width="4.47" height="7.90" fill="#26277e"/>
<path d="M395.4,410.2 L415,417.3 M395.4,441.8 L415.2,499.5 M395.4,675.4 L415,618.6 M395.4,706.4 L415,703.3" stroke="#111" stroke-width="1" fill="none"/>
<text x="448.10" y="424.27" font-size="8.45" fill="#231f20" textLength="21.20" lengthAdjust="spacingAndGlyphs">NOL6</text>
<text x="448.10" y="432.60" font-size="8.45" fill="#231f20" textLength="20.50" lengthAdjust="spacingAndGlyphs">UBR5</text>
<text x="448.10" y="440.93" font-size="8.45" fill="#231f20" textLength="21.50" lengthAdjust="spacingAndGlyphs">MRC1</text>
<text x="448.10" y="449.26" font-size="8.45" fill="#231f20" textLength="26.20" lengthAdjust="spacingAndGlyphs">CDC73</text>
<text x="448.10" y="457.59" font-size="8.45" fill="#231f20" textLength="27.00" lengthAdjust="spacingAndGlyphs">ANXA2</text>
<text x="448.10" y="465.92" font-size="8.45" fill="#231f20" textLength="19.00" lengthAdjust="spacingAndGlyphs">AQR</text>
<text x="448.10" y="474.25" font-size="8.45" fill="#231f20" textLength="21.00" lengthAdjust="spacingAndGlyphs">MPO</text>
<text x="448.10" y="482.58" font-size="8.45" fill="#231f20" textLength="23.70" lengthAdjust="spacingAndGlyphs">PTGS1</text>
<text x="448.10" y="490.91" font-size="8.45" fill="#231f20" textLength="18.50" lengthAdjust="spacingAndGlyphs">CKB</text>
<text x="448.10" y="499.24" font-size="8.45" fill="#231f20" textLength="19.50" lengthAdjust="spacingAndGlyphs">TBL3</text>
<text x="449.80" y="625.30" font-size="8.45" fill="#231f20" textLength="21.50" lengthAdjust="spacingAndGlyphs">NCF1</text>
<text x="449.80" y="633.90" font-size="8.45" fill="#231f20" textLength="17.50" lengthAdjust="spacingAndGlyphs">PXK</text>
<text x="449.80" y="642.50" font-size="8.45" fill="#231f20" textLength="22.00" lengthAdjust="spacingAndGlyphs">AHCY</text>
<text x="449.80" y="651.10" font-size="8.45" fill="#231f20" textLength="20.50" lengthAdjust="spacingAndGlyphs">RAC2</text>
<text x="449.80" y="659.70" font-size="8.45" fill="#231f20" textLength="41.00" lengthAdjust="spacingAndGlyphs">SH3BGRL3</text>
<text x="449.80" y="668.30" font-size="8.45" fill="#231f20" textLength="17.50" lengthAdjust="spacingAndGlyphs">BIN1</text>
<text x="449.80" y="676.90" font-size="8.45" fill="#231f20" textLength="20.50" lengthAdjust="spacingAndGlyphs">CD22</text>
<text x="449.80" y="685.50" font-size="8.45" fill="#231f20" textLength="21.00" lengthAdjust="spacingAndGlyphs">CAPG</text>
<text x="449.80" y="694.10" font-size="8.45" fill="#231f20" textLength="26.00" lengthAdjust="spacingAndGlyphs">CD79A</text>
<text x="449.80" y="702.70" font-size="8.45" fill="#231f20" textLength="20.00" lengthAdjust="spacingAndGlyphs">IGHD</text>
<text x="6.30" y="562.00" font-size="13.57" font-weight="bold" fill="#000">G</text>
<text x="121.5" y="575.1" font-size="8.8" fill="#231f20" textLength="55.3" lengthAdjust="spacingAndGlyphs">-log<tspan font-size="6.4" dy="2">10</tspan><tspan dy="-2"> (p-value)</tspan></text>
<text x="108.25" y="588.30" font-size="9.05" text-anchor="middle" fill="#231f20" textLength="12.10" lengthAdjust="spacingAndGlyphs">-10</text>
<text x="129.25" y="588.30" font-size="9.05" text-anchor="middle" fill="#231f20">0</text>
<text x="149.45" y="588.30" font-size="9.05" text-anchor="middle" fill="#231f20" textLength="8.70" lengthAdjust="spacingAndGlyphs">10</text>
<text x="168.85" y="588.30" font-size="9.05" text-anchor="middle" fill="#231f20" textLength="9.10" lengthAdjust="spacingAndGlyphs">20</text>
<text x="188.40" y="588.30" font-size="9.05" text-anchor="middle" fill="#231f20" textLength="9.60" lengthAdjust="spacingAndGlyphs">30</text>
<line x1="109.6" y1="593.8" x2="188.9" y2="593.8" stroke="#111" stroke-width="1.1"/>
<rect x="129.3" y="600" width="42.9" height="10.0" fill="#2f4b8c"/>
<text x="175.70" y="607.80" font-size="9.05" fill="#231f20" textLength="64.40" lengthAdjust="spacingAndGlyphs">mRNA Processing</text>
<rect x="129.3" y="616" width="37.8" height="10.2" fill="#2f4b8c"/>
<text x="170.50" y="623.40" font-size="9.05" fill="#231f20" textLength="47.80" lengthAdjust="spacingAndGlyphs">RNA Splicing</text>
<rect x="129.3" y="631.8" width="15.6" height="10.4" fill="#2f4b8c"/>
<text x="149.00" y="639.30" font-size="9.05" fill="#231f20" textLength="116.00" lengthAdjust="spacingAndGlyphs">mRNA Splicing, via Spliceosome</text>
<rect x="129.3" y="648.2" width="6.3" height="10.2" fill="#2f4b8c"/>
<text x="139.30" y="655.60" font-size="9.05" fill="#231f20" textLength="159.30" lengthAdjust="spacingAndGlyphs">Cellular Response to DNA Damage Stimulus</text>
<rect x="129.3" y="664" width="4.0" height="10.4" fill="#2f4b8c"/>
<text x="136.90" y="671.20" font-size="9.05" fill="#231f20" textLength="36.40" lengthAdjust="spacingAndGlyphs">Cell-Cycle</text>
<rect x="124.6" y="679.7" width="4.7" height="10.6" fill="#eebf2a"/>
<text x="20.10" y="688.50" font-size="9.05" fill="#231f20" textLength="101.10" lengthAdjust="spacingAndGlyphs">Adaptive Immune Response</text>
<rect x="125.5" y="696.5" width="3.8" height="10.9" fill="#eebf2a"/>
<text x="55.40" y="704.20" font-size="9.05" fill="#231f20" textLength="66.90" lengthAdjust="spacingAndGlyphs">Cell-Cell Adhesion</text>
<line x1="129.3" y1="593.8" x2="129.3" y2="712.7" stroke="#111" stroke-width="1.1"/>
<rect x="0.6" y="0.6" width="518.8" height="718.8" fill="none" stroke="#000" stroke-width="1.4"/>
</svg></body></html>
